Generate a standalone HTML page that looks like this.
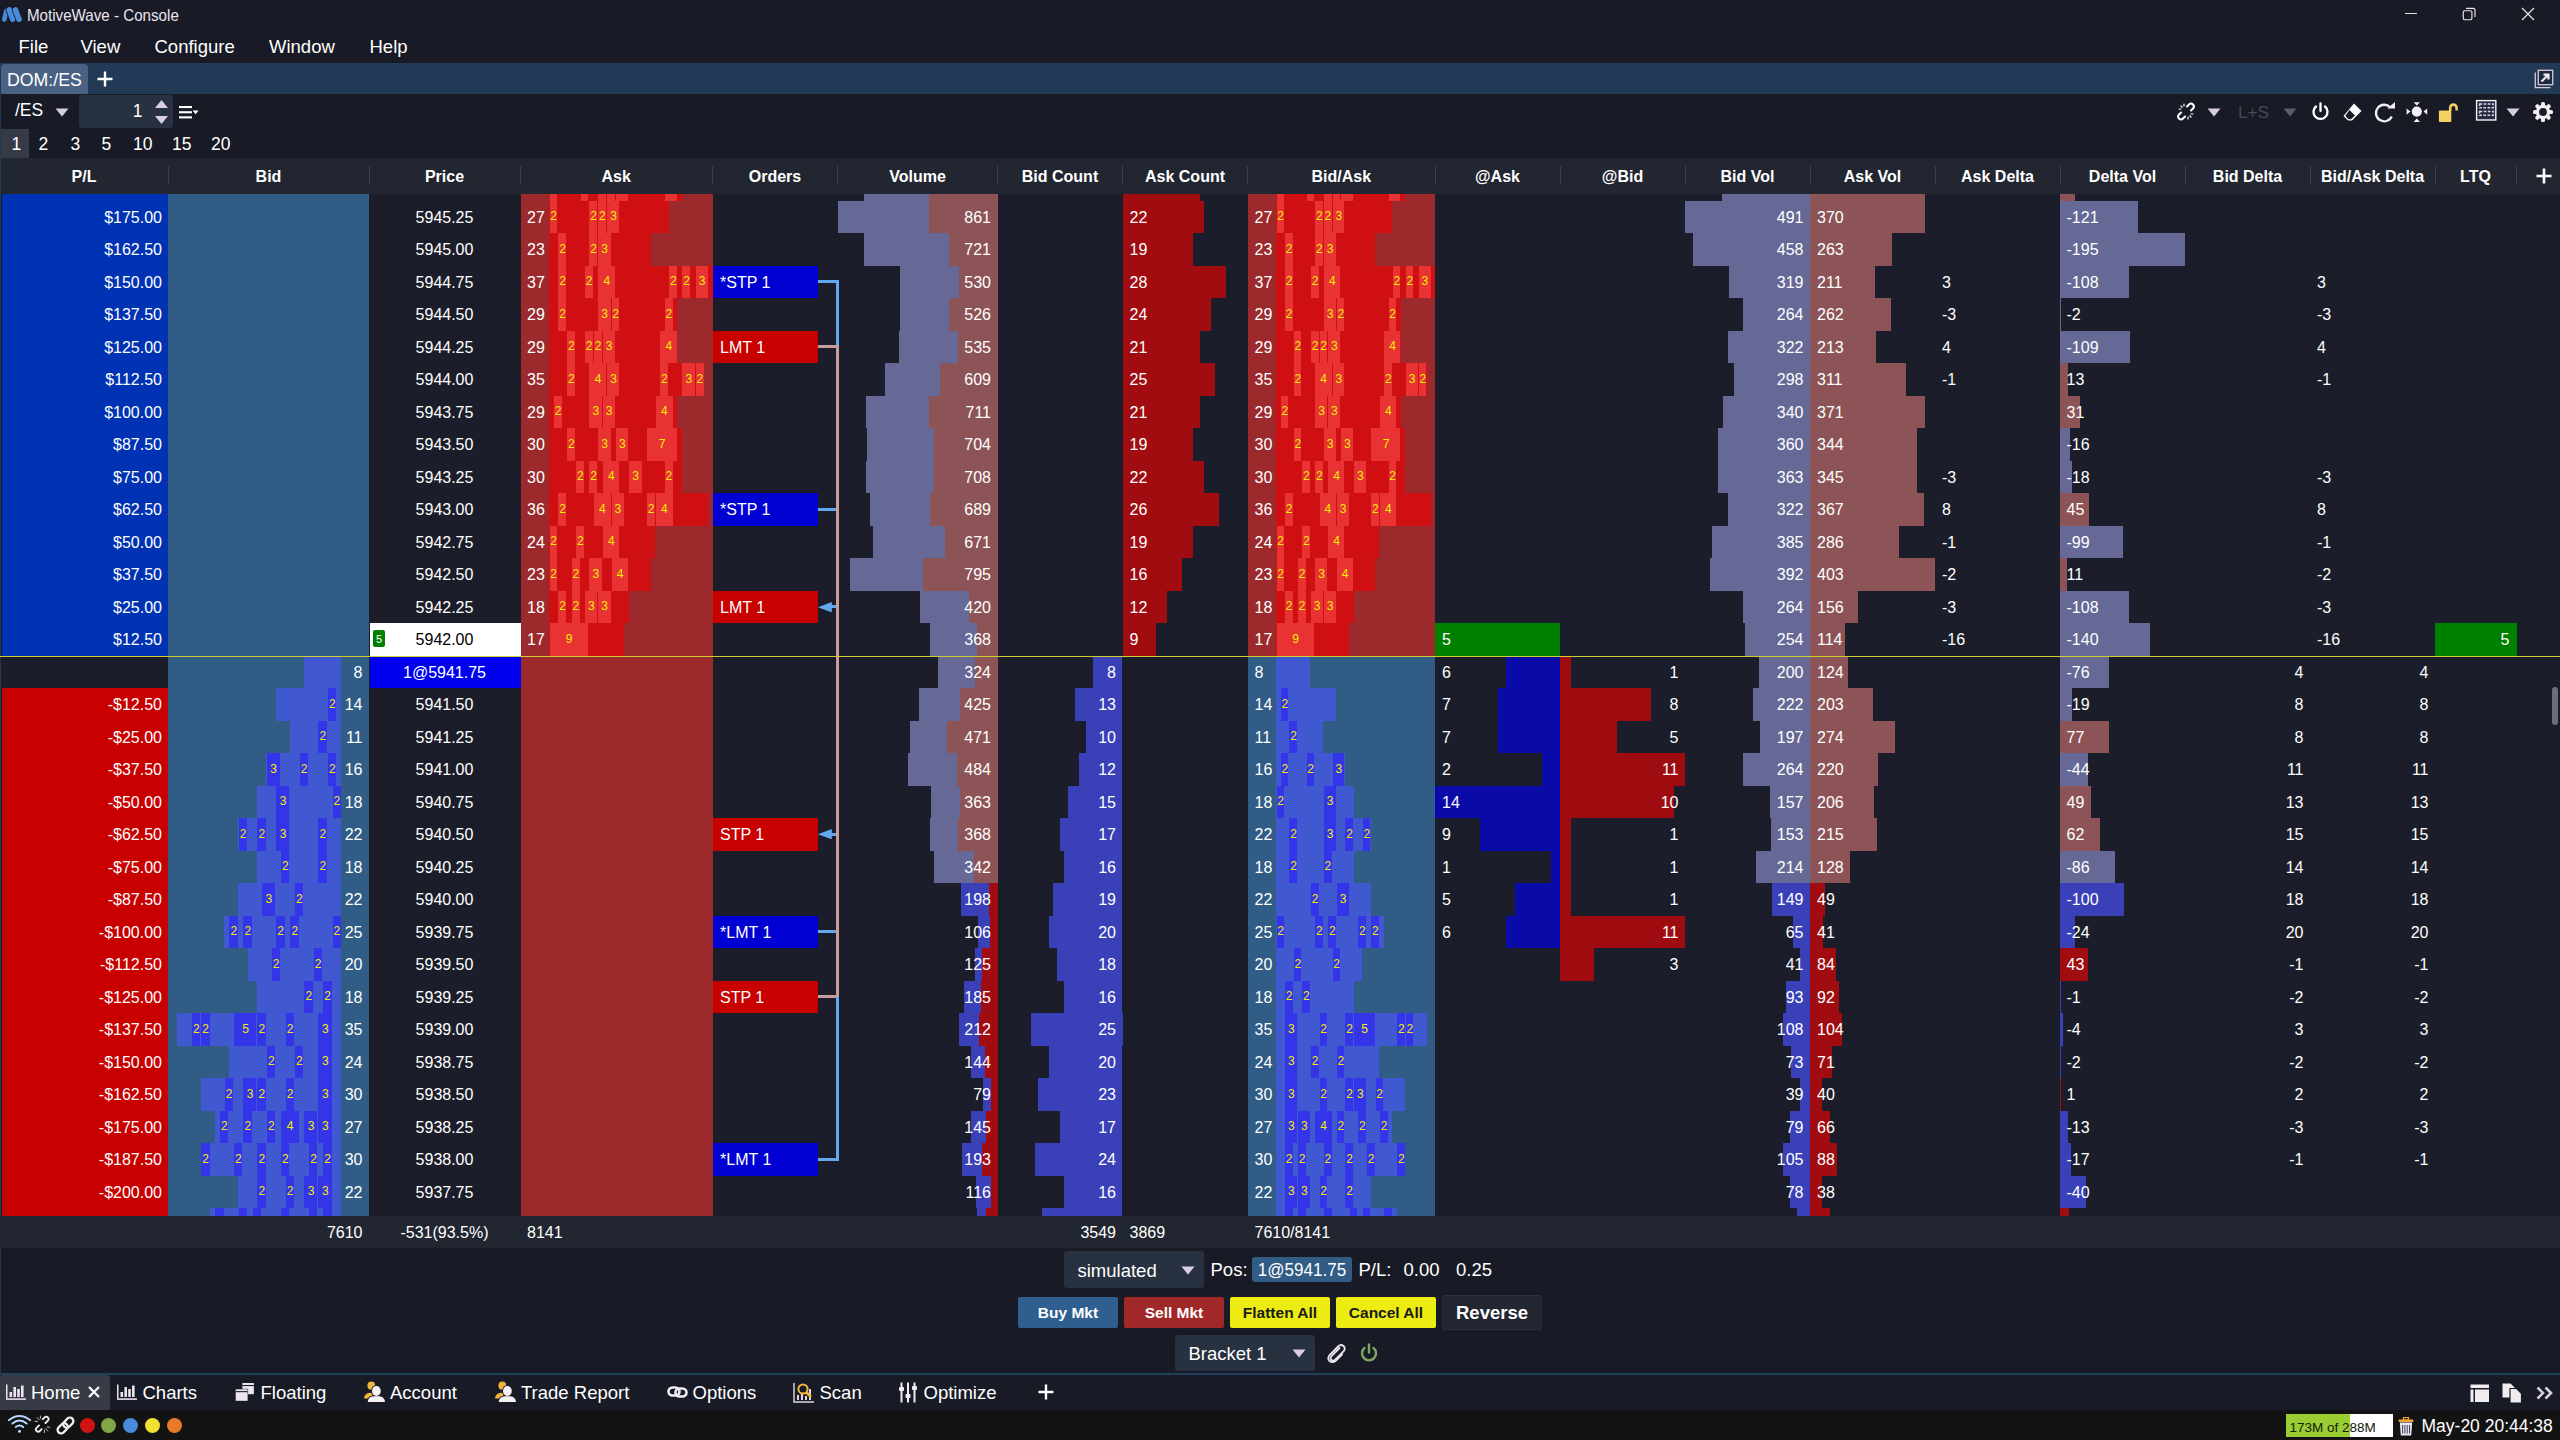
<!DOCTYPE html><html><head><meta charset="utf-8"><style>html,body{margin:0;padding:0;}body{width:2560px;height:1440px;position:relative;overflow:hidden;background:#181b26;font-family:"Liberation Sans",sans-serif;}body>div,body>svg{position:absolute;}.t{white-space:nowrap;overflow:visible;}</style></head><body><div style="left:0.00px;top:0.00px;width:2560.00px;height:63.00px;background:#181b26;"></div>
<svg style="left:0px;top:2px" width="26" height="24" viewBox="0 0 26 24" stroke-linecap="round"><line x1="4.3" y1="17.4" x2="6.2" y2="9.2" stroke="#4a8ad9" stroke-width="4.6"/><line x1="9.3" y1="8.0" x2="12.7" y2="17.2" stroke="#181b26" stroke-width="7.2"/><line x1="9.3" y1="8.0" x2="12.7" y2="17.2" stroke="#4a8ad9" stroke-width="5.6"/><line x1="15.4" y1="8.0" x2="19.0" y2="17.2" stroke="#181b26" stroke-width="7.2"/><line x1="15.4" y1="8.0" x2="19.0" y2="17.2" stroke="#4a8ad9" stroke-width="5.6"/></svg>
<div class="t" style="left:27.30px;top:2.50px;width:300.00px;height:24.00px;line-height:24.00px;font-size:16.5px;color:#eae4f0;text-align:left;transform:scaleX(0.918);transform-origin:left center;">MotiveWave - Console</div>
<div style="left:2405.00px;top:13.00px;width:12.00px;height:1.20px;background:#e0e0e0;"></div>
<svg style="left:2461px;top:6px" width="16" height="16" viewBox="0 0 16 16" fill="none" stroke="#ece4f0" stroke-width="1.15"><rect x="2.3" y="4.7" width="8.6" height="9" rx="1.4"/><path d="M5 2.3 H12 Q14 2.3 14 4.3 V11"/></svg>
<svg style="left:2521px;top:7px" width="14" height="14" viewBox="0 0 14 14" stroke="#e8e8e8" stroke-width="1.2"><path d="M1 1 L13 13 M13 1 L1 13"/></svg>
<div class="t" style="left:18.50px;top:32.00px;width:200.00px;height:30.00px;line-height:30.00px;font-size:18.5px;color:#ffffff;text-align:left;">File</div>
<div class="t" style="left:80.50px;top:32.00px;width:200.00px;height:30.00px;line-height:30.00px;font-size:18.5px;color:#ffffff;text-align:left;">View</div>
<div class="t" style="left:154.50px;top:32.00px;width:200.00px;height:30.00px;line-height:30.00px;font-size:18.5px;color:#ffffff;text-align:left;">Configure</div>
<div class="t" style="left:269.00px;top:32.00px;width:200.00px;height:30.00px;line-height:30.00px;font-size:18.5px;color:#ffffff;text-align:left;">Window</div>
<div class="t" style="left:369.50px;top:32.00px;width:200.00px;height:30.00px;line-height:30.00px;font-size:18.5px;color:#ffffff;text-align:left;">Help</div>
<div style="left:0.00px;top:63.00px;width:2560.00px;height:31.00px;background:#223a55;"></div>
<div style="left:1.00px;top:64.00px;width:87.00px;height:30.00px;background:#4a6283;border-radius:4px 4px 0 0;"></div>
<div class="t" style="left:6.50px;top:65.00px;width:120.00px;height:31.00px;line-height:31.00px;font-size:18px;color:#ffffff;text-align:left;transform:scaleX(0.985);transform-origin:left center;">DOM:/ES</div>
<svg style="left:96px;top:70px" width="18" height="18" viewBox="0 0 18 18" stroke="#ffffff" stroke-width="2.4"><path d="M9 1.5 V16.5 M1.5 9 H16.5"/></svg>
<svg style="left:2534px;top:69px" width="20" height="20" viewBox="0 0 20 20" fill="none"><path d="M1.3 3.5 V18.7 H16.5" stroke="#d8c8d6" stroke-width="1.3"/><rect x="4.3" y="1.3" width="14.4" height="14.4" fill="#1c2a40" stroke="#d8c8d6" stroke-width="1.3"/><path d="M7.5 12.5 L14 6 M9.5 5.6 H14.5 V10.6" stroke="#f0ecf0" stroke-width="2.2"/></svg>
<div style="left:2558.60px;top:63.00px;width:1.40px;height:1312.00px;background:#1e3a52;"></div>
<div style="left:0.00px;top:94.00px;width:2560.00px;height:64.00px;background:#181b26;"></div>
<div class="t" style="left:15.00px;top:93.30px;width:40.00px;height:34.00px;line-height:34.00px;font-size:17.5px;color:#ffffff;text-align:left;">/ES</div>
<svg style="left:55px;top:108.3px" width="14" height="9" viewBox="0 0 14 9"><path d="M0.5 0.5 H13.5 L7 8.5 Z" fill="#d9cde3"/></svg>
<div style="left:79.00px;top:94.50px;width:94.00px;height:33.00px;background:#283140;border-radius:3px;"></div>
<div class="t" style="left:100.00px;top:95.00px;width:42.50px;height:33.00px;line-height:33.00px;font-size:17.5px;color:#ffffff;text-align:right;">1</div>
<svg style="left:154px;top:99px" width="15" height="26" viewBox="0 0 15 26"><path d="M7.5 1 L14 9 H1 Z M1 17 H14 L7.5 25 Z" fill="#d9cde3"/></svg>
<svg style="left:178px;top:104px" width="22" height="16" viewBox="0 0 22 16"><rect x="1" y="2" width="13" height="2.1" fill="#fff"/><rect x="1" y="7.2" width="13" height="2.1" fill="#fff"/><rect x="1" y="12.3" width="13" height="2.1" fill="#fff"/><path d="M14.6 6.4 H20.6 L17.6 10.2Z" fill="#fff"/></svg>
<div style="left:0.00px;top:129.00px;width:29.00px;height:29.00px;background:#353a44;"></div>
<div class="t" style="left:11.50px;top:129.60px;width:40.00px;height:29.00px;line-height:29.00px;font-size:17.5px;color:#ffffff;text-align:left;">1</div>
<div class="t" style="left:38.50px;top:129.60px;width:40.00px;height:29.00px;line-height:29.00px;font-size:17.5px;color:#ffffff;text-align:left;">2</div>
<div class="t" style="left:70.50px;top:129.60px;width:40.00px;height:29.00px;line-height:29.00px;font-size:17.5px;color:#ffffff;text-align:left;">3</div>
<div class="t" style="left:101.50px;top:129.60px;width:40.00px;height:29.00px;line-height:29.00px;font-size:17.5px;color:#ffffff;text-align:left;">5</div>
<div class="t" style="left:133.00px;top:129.60px;width:40.00px;height:29.00px;line-height:29.00px;font-size:17.5px;color:#ffffff;text-align:left;">10</div>
<div class="t" style="left:172.00px;top:129.60px;width:40.00px;height:29.00px;line-height:29.00px;font-size:17.5px;color:#ffffff;text-align:left;">15</div>
<div class="t" style="left:211.00px;top:129.60px;width:40.00px;height:29.00px;line-height:29.00px;font-size:17.5px;color:#ffffff;text-align:left;">20</div>
<svg style="left:2176px;top:101px" width="20" height="21" viewBox="0 0 20 21" fill="none" stroke="#fff" stroke-width="2" stroke-linecap="round"><path d="M11 5.5 L13 3.5 Q15 1.5 17 3.5 Q19 5.5 17 7.5 L15 9.5"/><path d="M9 15.5 L7 17.5 Q5 19.5 3 17.5 Q1 15.5 3 13.5 L5 11.5"/><path d="M8 3 V5 M3 8 H5 M12 18 V16 M17 13 H15 M5 5 L6.2 6.2 M15 16 L13.8 14.8" stroke-width="1.2"/></svg>
<svg style="left:2207px;top:108px" width="14" height="9" viewBox="0 0 14 9"><path d="M0.5 0.5 H13.5 L7 8.5 Z" fill="#d9cde3"/></svg>
<div class="t" style="left:2238.00px;top:96.00px;width:40.00px;height:34.00px;line-height:34.00px;font-size:17px;color:#454a58;text-align:left;">L+S</div>
<svg style="left:2283px;top:108px" width="14" height="9" viewBox="0 0 14 9"><path d="M0.5 0.5 H13.5 L7 8.5 Z" fill="#5a5e6a"/></svg>
<svg style="left:2311px;top:102px" width="19" height="20" viewBox="0 0 19 20" fill="none" stroke="#fff" stroke-width="2.3" stroke-linecap="round"><path d="M9.5 1.5 V9"/><path d="M5 4.5 A7 7 0 1 0 14 4.5"/></svg>
<svg style="left:2342px;top:102px" width="21" height="20" viewBox="0 0 21 20"><path d="M12 1.5 L19.5 9 L10 18.5 L6 18.5 L1.5 14 Z" fill="#fff"/><path d="M7.5 8 L13 13.5 L9 17.3 L6.6 17.3 L3.3 14 Z" fill="#181b26"/></svg>
<svg style="left:2373px;top:100px" width="24" height="24" viewBox="0 0 24 24" fill="none"><path d="M17.2 7.2 A8.3 8.3 0 1 0 18.8 16.6" stroke="#f2eef2" stroke-width="2.3"/><path d="M14.2 8.6 H22 V2 Z" fill="#f2eef2"/></svg>
<svg style="left:2405px;top:101px" width="24" height="22" viewBox="0 0 24 22" fill="#f2eef2"><circle cx="11.8" cy="10.6" r="5.1"/><path d="M8.6 1.2 H15 L11.8 4.4Z M8.6 21 H15 L11.8 17.6Z M1.6 7.4 V13.8 L5.4 10.6Z M22.2 7.4 V13.8 L18.6 10.6Z"/></svg>
<svg style="left:2437px;top:102px" width="23" height="21" viewBox="0 0 23 21"><path d="M13.2 9 V5.8 A3.2 3.2 0 0 1 19.6 5.8 V8.6" fill="none" stroke="#f5cf5c" stroke-width="2.6"/><rect x="1.9" y="8.5" width="12.4" height="11.5" rx="1" fill="#f5d062"/></svg>
<svg style="left:2475px;top:99px" width="23" height="23" viewBox="0 0 23 23"><rect x="1.6" y="1.6" width="19.2" height="19.4" fill="#242b42" stroke="#f6f2f4" stroke-width="1.4"/><g fill="none" stroke="#e2d4e4" stroke-width="1.5" stroke-dasharray="2.6 1.5"><rect x="4.6" y="5" width="13.6" height="3.8"/><rect x="4.6" y="12.4" width="13.6" height="3.8"/></g></svg>
<svg style="left:2506px;top:108px" width="14" height="9" viewBox="0 0 14 9"><path d="M0.5 0.5 H13.5 L7 8.5 Z" fill="#d9cde3"/></svg>
<svg style="left:2532px;top:101px" width="22" height="22" viewBox="0 0 22 22"><g fill="#f2eef2"><circle cx="11" cy="11" r="7.2"/><rect x="9" y="1" width="4" height="5.5" rx="1.6" transform="rotate(0 11 11)"/><rect x="9" y="1" width="4" height="5.5" rx="1.6" transform="rotate(45 11 11)"/><rect x="9" y="1" width="4" height="5.5" rx="1.6" transform="rotate(90 11 11)"/><rect x="9" y="1" width="4" height="5.5" rx="1.6" transform="rotate(135 11 11)"/><rect x="9" y="1" width="4" height="5.5" rx="1.6" transform="rotate(180 11 11)"/><rect x="9" y="1" width="4" height="5.5" rx="1.6" transform="rotate(225 11 11)"/><rect x="9" y="1" width="4" height="5.5" rx="1.6" transform="rotate(270 11 11)"/><rect x="9" y="1" width="4" height="5.5" rx="1.6" transform="rotate(315 11 11)"/></g><circle cx="11" cy="11" r="3.9" fill="#181b26"/></svg>
<div style="left:0.00px;top:158.00px;width:2560.00px;height:36.00px;background:#222630;"></div>
<div class="t" style="left:0.00px;top:159.00px;width:168.00px;height:36.00px;line-height:36.00px;font-size:16px;color:#ffffff;text-align:center;font-weight:bold;">P/L</div>
<div class="t" style="left:168.00px;top:159.00px;width:201.00px;height:36.00px;line-height:36.00px;font-size:16px;color:#ffffff;text-align:center;font-weight:bold;">Bid</div>
<div style="left:167.50px;top:166.00px;width:1.20px;height:18.00px;background:#3a4050;"></div>
<div class="t" style="left:369.00px;top:159.00px;width:151.00px;height:36.00px;line-height:36.00px;font-size:16px;color:#ffffff;text-align:center;font-weight:bold;">Price</div>
<div style="left:368.50px;top:166.00px;width:1.20px;height:18.00px;background:#3a4050;"></div>
<div class="t" style="left:520.00px;top:159.00px;width:192.50px;height:36.00px;line-height:36.00px;font-size:16px;color:#ffffff;text-align:center;font-weight:bold;">Ask</div>
<div style="left:519.50px;top:166.00px;width:1.20px;height:18.00px;background:#3a4050;"></div>
<div class="t" style="left:712.50px;top:159.00px;width:125.00px;height:36.00px;line-height:36.00px;font-size:16px;color:#ffffff;text-align:center;font-weight:bold;">Orders</div>
<div style="left:712.00px;top:166.00px;width:1.20px;height:18.00px;background:#3a4050;"></div>
<div class="t" style="left:837.50px;top:159.00px;width:160.00px;height:36.00px;line-height:36.00px;font-size:16px;color:#ffffff;text-align:center;font-weight:bold;">Volume</div>
<div style="left:837.00px;top:166.00px;width:1.20px;height:18.00px;background:#3a4050;"></div>
<div class="t" style="left:997.50px;top:159.00px;width:125.00px;height:36.00px;line-height:36.00px;font-size:16px;color:#ffffff;text-align:center;font-weight:bold;">Bid Count</div>
<div style="left:997.00px;top:166.00px;width:1.20px;height:18.00px;background:#3a4050;"></div>
<div class="t" style="left:1122.50px;top:159.00px;width:125.00px;height:36.00px;line-height:36.00px;font-size:16px;color:#ffffff;text-align:center;font-weight:bold;">Ask Count</div>
<div style="left:1122.00px;top:166.00px;width:1.20px;height:18.00px;background:#3a4050;"></div>
<div class="t" style="left:1247.50px;top:159.00px;width:187.50px;height:36.00px;line-height:36.00px;font-size:16px;color:#ffffff;text-align:center;font-weight:bold;">Bid/Ask</div>
<div style="left:1247.00px;top:166.00px;width:1.20px;height:18.00px;background:#3a4050;"></div>
<div class="t" style="left:1435.00px;top:159.00px;width:125.00px;height:36.00px;line-height:36.00px;font-size:16px;color:#ffffff;text-align:center;font-weight:bold;">@Ask</div>
<div style="left:1434.50px;top:166.00px;width:1.20px;height:18.00px;background:#3a4050;"></div>
<div class="t" style="left:1560.00px;top:159.00px;width:125.00px;height:36.00px;line-height:36.00px;font-size:16px;color:#ffffff;text-align:center;font-weight:bold;">@Bid</div>
<div style="left:1559.50px;top:166.00px;width:1.20px;height:18.00px;background:#3a4050;"></div>
<div class="t" style="left:1685.00px;top:159.00px;width:125.00px;height:36.00px;line-height:36.00px;font-size:16px;color:#ffffff;text-align:center;font-weight:bold;">Bid Vol</div>
<div style="left:1684.50px;top:166.00px;width:1.20px;height:18.00px;background:#3a4050;"></div>
<div class="t" style="left:1810.00px;top:159.00px;width:125.00px;height:36.00px;line-height:36.00px;font-size:16px;color:#ffffff;text-align:center;font-weight:bold;">Ask Vol</div>
<div style="left:1809.50px;top:166.00px;width:1.20px;height:18.00px;background:#3a4050;"></div>
<div class="t" style="left:1935.00px;top:159.00px;width:125.00px;height:36.00px;line-height:36.00px;font-size:16px;color:#ffffff;text-align:center;font-weight:bold;">Ask Delta</div>
<div style="left:1934.50px;top:166.00px;width:1.20px;height:18.00px;background:#3a4050;"></div>
<div class="t" style="left:2060.00px;top:159.00px;width:125.00px;height:36.00px;line-height:36.00px;font-size:16px;color:#ffffff;text-align:center;font-weight:bold;">Delta Vol</div>
<div style="left:2059.50px;top:166.00px;width:1.20px;height:18.00px;background:#3a4050;"></div>
<div class="t" style="left:2185.00px;top:159.00px;width:125.00px;height:36.00px;line-height:36.00px;font-size:16px;color:#ffffff;text-align:center;font-weight:bold;">Bid Delta</div>
<div style="left:2184.50px;top:166.00px;width:1.20px;height:18.00px;background:#3a4050;"></div>
<div class="t" style="left:2310.00px;top:159.00px;width:125.00px;height:36.00px;line-height:36.00px;font-size:16px;color:#ffffff;text-align:center;font-weight:bold;">Bid/Ask Delta</div>
<div style="left:2309.50px;top:166.00px;width:1.20px;height:18.00px;background:#3a4050;"></div>
<div class="t" style="left:2435.00px;top:159.00px;width:81.00px;height:36.00px;line-height:36.00px;font-size:16px;color:#ffffff;text-align:center;font-weight:bold;">LTQ</div>
<div style="left:2434.50px;top:166.00px;width:1.20px;height:18.00px;background:#3a4050;"></div>
<svg style="left:2536px;top:168px" width="16" height="16" viewBox="0 0 16 16" stroke="#fff" stroke-width="2.6"><path d="M8 0.5 V15.5 M0.5 8 H15.5"/></svg>
<div style="left:2515.50px;top:166.00px;width:1.20px;height:18.00px;background:#3a4050;"></div>
<div style="left:0.00px;top:194.00px;width:2560.00px;height:1021.50px;background:#1b1e2a;"></div>
<div style="left:0.00px;top:63.00px;width:1.20px;height:1311.00px;background:#1f3a52;"></div>
<div style="left:1.50px;top:194.00px;width:166.50px;height:461.50px;background:#0033b3;"></div>
<div style="left:1.50px;top:688.00px;width:166.50px;height:527.50px;background:#c80000;"></div>
<div class="t" style="left:0.00px;top:201.50px;width:162.00px;height:32.50px;line-height:32.50px;font-size:16px;color:#ffffff;text-align:right;">$175.00</div>
<div class="t" style="left:0.00px;top:234.00px;width:162.00px;height:32.50px;line-height:32.50px;font-size:16px;color:#ffffff;text-align:right;">$162.50</div>
<div class="t" style="left:0.00px;top:266.50px;width:162.00px;height:32.50px;line-height:32.50px;font-size:16px;color:#ffffff;text-align:right;">$150.00</div>
<div class="t" style="left:0.00px;top:299.00px;width:162.00px;height:32.50px;line-height:32.50px;font-size:16px;color:#ffffff;text-align:right;">$137.50</div>
<div class="t" style="left:0.00px;top:331.50px;width:162.00px;height:32.50px;line-height:32.50px;font-size:16px;color:#ffffff;text-align:right;">$125.00</div>
<div class="t" style="left:0.00px;top:364.00px;width:162.00px;height:32.50px;line-height:32.50px;font-size:16px;color:#ffffff;text-align:right;">$112.50</div>
<div class="t" style="left:0.00px;top:396.50px;width:162.00px;height:32.50px;line-height:32.50px;font-size:16px;color:#ffffff;text-align:right;">$100.00</div>
<div class="t" style="left:0.00px;top:429.00px;width:162.00px;height:32.50px;line-height:32.50px;font-size:16px;color:#ffffff;text-align:right;">$87.50</div>
<div class="t" style="left:0.00px;top:461.50px;width:162.00px;height:32.50px;line-height:32.50px;font-size:16px;color:#ffffff;text-align:right;">$75.00</div>
<div class="t" style="left:0.00px;top:494.00px;width:162.00px;height:32.50px;line-height:32.50px;font-size:16px;color:#ffffff;text-align:right;">$62.50</div>
<div class="t" style="left:0.00px;top:526.50px;width:162.00px;height:32.50px;line-height:32.50px;font-size:16px;color:#ffffff;text-align:right;">$50.00</div>
<div class="t" style="left:0.00px;top:559.00px;width:162.00px;height:32.50px;line-height:32.50px;font-size:16px;color:#ffffff;text-align:right;">$37.50</div>
<div class="t" style="left:0.00px;top:591.50px;width:162.00px;height:32.50px;line-height:32.50px;font-size:16px;color:#ffffff;text-align:right;">$25.00</div>
<div class="t" style="left:0.00px;top:624.00px;width:162.00px;height:32.50px;line-height:32.50px;font-size:16px;color:#ffffff;text-align:right;">$12.50</div>
<div class="t" style="left:0.00px;top:689.00px;width:162.00px;height:32.50px;line-height:32.50px;font-size:16px;color:#ffffff;text-align:right;">-$12.50</div>
<div class="t" style="left:0.00px;top:721.50px;width:162.00px;height:32.50px;line-height:32.50px;font-size:16px;color:#ffffff;text-align:right;">-$25.00</div>
<div class="t" style="left:0.00px;top:754.00px;width:162.00px;height:32.50px;line-height:32.50px;font-size:16px;color:#ffffff;text-align:right;">-$37.50</div>
<div class="t" style="left:0.00px;top:786.50px;width:162.00px;height:32.50px;line-height:32.50px;font-size:16px;color:#ffffff;text-align:right;">-$50.00</div>
<div class="t" style="left:0.00px;top:819.00px;width:162.00px;height:32.50px;line-height:32.50px;font-size:16px;color:#ffffff;text-align:right;">-$62.50</div>
<div class="t" style="left:0.00px;top:851.50px;width:162.00px;height:32.50px;line-height:32.50px;font-size:16px;color:#ffffff;text-align:right;">-$75.00</div>
<div class="t" style="left:0.00px;top:884.00px;width:162.00px;height:32.50px;line-height:32.50px;font-size:16px;color:#ffffff;text-align:right;">-$87.50</div>
<div class="t" style="left:0.00px;top:916.50px;width:162.00px;height:32.50px;line-height:32.50px;font-size:16px;color:#ffffff;text-align:right;">-$100.00</div>
<div class="t" style="left:0.00px;top:949.00px;width:162.00px;height:32.50px;line-height:32.50px;font-size:16px;color:#ffffff;text-align:right;">-$112.50</div>
<div class="t" style="left:0.00px;top:981.50px;width:162.00px;height:32.50px;line-height:32.50px;font-size:16px;color:#ffffff;text-align:right;">-$125.00</div>
<div class="t" style="left:0.00px;top:1014.00px;width:162.00px;height:32.50px;line-height:32.50px;font-size:16px;color:#ffffff;text-align:right;">-$137.50</div>
<div class="t" style="left:0.00px;top:1046.50px;width:162.00px;height:32.50px;line-height:32.50px;font-size:16px;color:#ffffff;text-align:right;">-$150.00</div>
<div class="t" style="left:0.00px;top:1079.00px;width:162.00px;height:32.50px;line-height:32.50px;font-size:16px;color:#ffffff;text-align:right;">-$162.50</div>
<div class="t" style="left:0.00px;top:1111.50px;width:162.00px;height:32.50px;line-height:32.50px;font-size:16px;color:#ffffff;text-align:right;">-$175.00</div>
<div class="t" style="left:0.00px;top:1144.00px;width:162.00px;height:32.50px;line-height:32.50px;font-size:16px;color:#ffffff;text-align:right;">-$187.50</div>
<div class="t" style="left:0.00px;top:1176.50px;width:162.00px;height:32.50px;line-height:32.50px;font-size:16px;color:#ffffff;text-align:right;">-$200.00</div>
<div style="left:168.00px;top:194.00px;width:201.00px;height:1021.50px;background:#305c85;"></div>
<div style="left:521.00px;top:194.00px;width:191.50px;height:1021.50px;background:#9c2a2c;"></div>
<div style="left:1247.50px;top:194.00px;width:187.50px;height:461.50px;background:#9c2a2c;"></div>
<div style="left:1247.50px;top:655.50px;width:187.50px;height:560.00px;background:#305c85;"></div>
<div style="left:549.00px;top:194.00px;width:132.90px;height:6.50px;background:#d00f12;"></div>
<div style="left:549.50px;top:194.00px;width:7.86px;height:6.50px;background:#e83234;"></div>
<div style="left:580.51px;top:194.00px;width:7.86px;height:6.50px;background:#e83234;"></div>
<div style="left:598.23px;top:194.00px;width:7.86px;height:6.50px;background:#e83234;"></div>
<div style="left:607.09px;top:194.00px;width:7.86px;height:6.50px;background:#e83234;"></div>
<div style="left:615.95px;top:194.00px;width:12.29px;height:6.50px;background:#e83234;"></div>
<div style="left:664.68px;top:194.00px;width:12.29px;height:6.50px;background:#e83234;"></div>
<div style="left:1276.00px;top:194.00px;width:129.30px;height:6.50px;background:#d00f12;"></div>
<div style="left:1276.50px;top:194.00px;width:7.62px;height:6.50px;background:#e83234;"></div>
<div style="left:1306.67px;top:194.00px;width:7.62px;height:6.50px;background:#e83234;"></div>
<div style="left:1323.91px;top:194.00px;width:7.62px;height:6.50px;background:#e83234;"></div>
<div style="left:1332.53px;top:194.00px;width:7.62px;height:6.50px;background:#e83234;"></div>
<div style="left:1341.15px;top:194.00px;width:11.93px;height:6.50px;background:#e83234;"></div>
<div style="left:1388.56px;top:194.00px;width:11.93px;height:6.50px;background:#e83234;"></div>
<div style="left:549.00px;top:200.50px;width:119.61px;height:32.50px;background:#d00f12;"></div>
<div style="left:549.50px;top:200.50px;width:7.86px;height:32.50px;background:#e83234;"></div>
<div class="t" style="left:539.00px;top:200.30px;width:28.86px;height:32.50px;line-height:32.50px;font-size:12px;color:#f2f000;text-align:center;letter-spacing:-0.5px;">2</div>
<div style="left:589.37px;top:200.50px;width:7.86px;height:32.50px;background:#e83234;"></div>
<div class="t" style="left:578.87px;top:200.30px;width:28.86px;height:32.50px;line-height:32.50px;font-size:12px;color:#f2f000;text-align:center;letter-spacing:-0.5px;">2</div>
<div style="left:598.23px;top:200.50px;width:7.86px;height:32.50px;background:#e83234;"></div>
<div class="t" style="left:587.73px;top:200.30px;width:28.86px;height:32.50px;line-height:32.50px;font-size:12px;color:#f2f000;text-align:center;letter-spacing:-0.5px;">2</div>
<div style="left:607.09px;top:200.50px;width:12.29px;height:32.50px;background:#e83234;"></div>
<div class="t" style="left:596.59px;top:200.30px;width:33.29px;height:32.50px;line-height:32.50px;font-size:12px;color:#f2f000;text-align:center;letter-spacing:-0.5px;">3</div>
<div style="left:1276.00px;top:200.50px;width:116.37px;height:32.50px;background:#d00f12;"></div>
<div style="left:1276.50px;top:200.50px;width:7.62px;height:32.50px;background:#e83234;"></div>
<div class="t" style="left:1266.00px;top:200.30px;width:28.62px;height:32.50px;line-height:32.50px;font-size:12px;color:#f2f000;text-align:center;letter-spacing:-0.5px;">2</div>
<div style="left:1315.29px;top:200.50px;width:7.62px;height:32.50px;background:#e83234;"></div>
<div class="t" style="left:1304.79px;top:200.30px;width:28.62px;height:32.50px;line-height:32.50px;font-size:12px;color:#f2f000;text-align:center;letter-spacing:-0.5px;">2</div>
<div style="left:1323.91px;top:200.50px;width:7.62px;height:32.50px;background:#e83234;"></div>
<div class="t" style="left:1313.41px;top:200.30px;width:28.62px;height:32.50px;line-height:32.50px;font-size:12px;color:#f2f000;text-align:center;letter-spacing:-0.5px;">2</div>
<div style="left:1332.53px;top:200.50px;width:11.93px;height:32.50px;background:#e83234;"></div>
<div class="t" style="left:1322.03px;top:200.30px;width:32.93px;height:32.50px;line-height:32.50px;font-size:12px;color:#f2f000;text-align:center;letter-spacing:-0.5px;">3</div>
<div class="t" style="left:527.00px;top:201.50px;width:40.00px;height:32.50px;line-height:32.50px;font-size:16px;color:#fff;text-align:left;">27</div>
<div class="t" style="left:1254.50px;top:201.50px;width:40.00px;height:32.50px;line-height:32.50px;font-size:16px;color:#fff;text-align:left;">27</div>
<div style="left:549.00px;top:233.00px;width:101.89px;height:32.50px;background:#d00f12;"></div>
<div style="left:558.36px;top:233.00px;width:7.86px;height:32.50px;background:#e83234;"></div>
<div class="t" style="left:547.86px;top:232.80px;width:28.86px;height:32.50px;line-height:32.50px;font-size:12px;color:#f2f000;text-align:center;letter-spacing:-0.5px;">2</div>
<div style="left:589.37px;top:233.00px;width:7.86px;height:32.50px;background:#e83234;"></div>
<div class="t" style="left:578.87px;top:232.80px;width:28.86px;height:32.50px;line-height:32.50px;font-size:12px;color:#f2f000;text-align:center;letter-spacing:-0.5px;">2</div>
<div style="left:598.23px;top:233.00px;width:12.29px;height:32.50px;background:#e83234;"></div>
<div class="t" style="left:587.73px;top:232.80px;width:33.29px;height:32.50px;line-height:32.50px;font-size:12px;color:#f2f000;text-align:center;letter-spacing:-0.5px;">3</div>
<div style="left:1276.00px;top:233.00px;width:99.13px;height:32.50px;background:#d00f12;"></div>
<div style="left:1285.12px;top:233.00px;width:7.62px;height:32.50px;background:#e83234;"></div>
<div class="t" style="left:1274.62px;top:232.80px;width:28.62px;height:32.50px;line-height:32.50px;font-size:12px;color:#f2f000;text-align:center;letter-spacing:-0.5px;">2</div>
<div style="left:1315.29px;top:233.00px;width:7.62px;height:32.50px;background:#e83234;"></div>
<div class="t" style="left:1304.79px;top:232.80px;width:28.62px;height:32.50px;line-height:32.50px;font-size:12px;color:#f2f000;text-align:center;letter-spacing:-0.5px;">2</div>
<div style="left:1323.91px;top:233.00px;width:11.93px;height:32.50px;background:#e83234;"></div>
<div class="t" style="left:1313.41px;top:232.80px;width:32.93px;height:32.50px;line-height:32.50px;font-size:12px;color:#f2f000;text-align:center;letter-spacing:-0.5px;">3</div>
<div class="t" style="left:527.00px;top:234.00px;width:40.00px;height:32.50px;line-height:32.50px;font-size:16px;color:#fff;text-align:left;">23</div>
<div class="t" style="left:1254.50px;top:234.00px;width:40.00px;height:32.50px;line-height:32.50px;font-size:16px;color:#fff;text-align:left;">23</div>
<div style="left:549.00px;top:265.50px;width:163.50px;height:32.50px;background:#d00f12;"></div>
<div style="left:558.36px;top:265.50px;width:7.86px;height:32.50px;background:#e83234;"></div>
<div class="t" style="left:547.86px;top:265.30px;width:28.86px;height:32.50px;line-height:32.50px;font-size:12px;color:#f2f000;text-align:center;letter-spacing:-0.5px;">2</div>
<div style="left:584.94px;top:265.50px;width:7.86px;height:32.50px;background:#e83234;"></div>
<div class="t" style="left:574.44px;top:265.30px;width:28.86px;height:32.50px;line-height:32.50px;font-size:12px;color:#f2f000;text-align:center;letter-spacing:-0.5px;">2</div>
<div style="left:598.23px;top:265.50px;width:16.72px;height:32.50px;background:#e83234;"></div>
<div class="t" style="left:587.73px;top:265.30px;width:37.72px;height:32.50px;line-height:32.50px;font-size:12px;color:#f2f000;text-align:center;letter-spacing:-0.5px;">4</div>
<div style="left:669.11px;top:265.50px;width:7.86px;height:32.50px;background:#e83234;"></div>
<div class="t" style="left:658.61px;top:265.30px;width:28.86px;height:32.50px;line-height:32.50px;font-size:12px;color:#f2f000;text-align:center;letter-spacing:-0.5px;">2</div>
<div style="left:682.40px;top:265.50px;width:7.86px;height:32.50px;background:#e83234;"></div>
<div class="t" style="left:671.90px;top:265.30px;width:28.86px;height:32.50px;line-height:32.50px;font-size:12px;color:#f2f000;text-align:center;letter-spacing:-0.5px;">2</div>
<div style="left:695.69px;top:265.50px;width:12.29px;height:32.50px;background:#e83234;"></div>
<div class="t" style="left:685.19px;top:265.30px;width:33.29px;height:32.50px;line-height:32.50px;font-size:12px;color:#f2f000;text-align:center;letter-spacing:-0.5px;">3</div>
<div style="left:1276.00px;top:265.50px;width:159.00px;height:32.50px;background:#d00f12;"></div>
<div style="left:1285.12px;top:265.50px;width:7.62px;height:32.50px;background:#e83234;"></div>
<div class="t" style="left:1274.62px;top:265.30px;width:28.62px;height:32.50px;line-height:32.50px;font-size:12px;color:#f2f000;text-align:center;letter-spacing:-0.5px;">2</div>
<div style="left:1310.98px;top:265.50px;width:7.62px;height:32.50px;background:#e83234;"></div>
<div class="t" style="left:1300.48px;top:265.30px;width:28.62px;height:32.50px;line-height:32.50px;font-size:12px;color:#f2f000;text-align:center;letter-spacing:-0.5px;">2</div>
<div style="left:1323.91px;top:265.50px;width:16.24px;height:32.50px;background:#e83234;"></div>
<div class="t" style="left:1313.41px;top:265.30px;width:37.24px;height:32.50px;line-height:32.50px;font-size:12px;color:#f2f000;text-align:center;letter-spacing:-0.5px;">4</div>
<div style="left:1392.87px;top:265.50px;width:7.62px;height:32.50px;background:#e83234;"></div>
<div class="t" style="left:1382.37px;top:265.30px;width:28.62px;height:32.50px;line-height:32.50px;font-size:12px;color:#f2f000;text-align:center;letter-spacing:-0.5px;">2</div>
<div style="left:1405.80px;top:265.50px;width:7.62px;height:32.50px;background:#e83234;"></div>
<div class="t" style="left:1395.30px;top:265.30px;width:28.62px;height:32.50px;line-height:32.50px;font-size:12px;color:#f2f000;text-align:center;letter-spacing:-0.5px;">2</div>
<div style="left:1418.73px;top:265.50px;width:11.93px;height:32.50px;background:#e83234;"></div>
<div class="t" style="left:1408.23px;top:265.30px;width:32.93px;height:32.50px;line-height:32.50px;font-size:12px;color:#f2f000;text-align:center;letter-spacing:-0.5px;">3</div>
<div class="t" style="left:527.00px;top:266.50px;width:40.00px;height:32.50px;line-height:32.50px;font-size:16px;color:#fff;text-align:left;">37</div>
<div class="t" style="left:1254.50px;top:266.50px;width:40.00px;height:32.50px;line-height:32.50px;font-size:16px;color:#fff;text-align:left;">37</div>
<div style="left:549.00px;top:298.00px;width:128.47px;height:32.50px;background:#d00f12;"></div>
<div style="left:558.36px;top:298.00px;width:7.86px;height:32.50px;background:#e83234;"></div>
<div class="t" style="left:547.86px;top:297.80px;width:28.86px;height:32.50px;line-height:32.50px;font-size:12px;color:#f2f000;text-align:center;letter-spacing:-0.5px;">2</div>
<div style="left:598.23px;top:298.00px;width:12.29px;height:32.50px;background:#e83234;"></div>
<div class="t" style="left:587.73px;top:297.80px;width:33.29px;height:32.50px;line-height:32.50px;font-size:12px;color:#f2f000;text-align:center;letter-spacing:-0.5px;">3</div>
<div style="left:611.52px;top:298.00px;width:7.86px;height:32.50px;background:#e83234;"></div>
<div class="t" style="left:601.02px;top:297.80px;width:28.86px;height:32.50px;line-height:32.50px;font-size:12px;color:#f2f000;text-align:center;letter-spacing:-0.5px;">2</div>
<div style="left:664.68px;top:298.00px;width:7.86px;height:32.50px;background:#e83234;"></div>
<div class="t" style="left:654.18px;top:297.80px;width:28.86px;height:32.50px;line-height:32.50px;font-size:12px;color:#f2f000;text-align:center;letter-spacing:-0.5px;">2</div>
<div style="left:1276.00px;top:298.00px;width:124.99px;height:32.50px;background:#d00f12;"></div>
<div style="left:1285.12px;top:298.00px;width:7.62px;height:32.50px;background:#e83234;"></div>
<div class="t" style="left:1274.62px;top:297.80px;width:28.62px;height:32.50px;line-height:32.50px;font-size:12px;color:#f2f000;text-align:center;letter-spacing:-0.5px;">2</div>
<div style="left:1323.91px;top:298.00px;width:11.93px;height:32.50px;background:#e83234;"></div>
<div class="t" style="left:1313.41px;top:297.80px;width:32.93px;height:32.50px;line-height:32.50px;font-size:12px;color:#f2f000;text-align:center;letter-spacing:-0.5px;">3</div>
<div style="left:1336.84px;top:298.00px;width:7.62px;height:32.50px;background:#e83234;"></div>
<div class="t" style="left:1326.34px;top:297.80px;width:28.62px;height:32.50px;line-height:32.50px;font-size:12px;color:#f2f000;text-align:center;letter-spacing:-0.5px;">2</div>
<div style="left:1388.56px;top:298.00px;width:7.62px;height:32.50px;background:#e83234;"></div>
<div class="t" style="left:1378.06px;top:297.80px;width:28.62px;height:32.50px;line-height:32.50px;font-size:12px;color:#f2f000;text-align:center;letter-spacing:-0.5px;">2</div>
<div class="t" style="left:527.00px;top:299.00px;width:40.00px;height:32.50px;line-height:32.50px;font-size:16px;color:#fff;text-align:left;">29</div>
<div class="t" style="left:1254.50px;top:299.00px;width:40.00px;height:32.50px;line-height:32.50px;font-size:16px;color:#fff;text-align:left;">29</div>
<div style="left:549.00px;top:330.50px;width:128.47px;height:32.50px;background:#d00f12;"></div>
<div style="left:567.22px;top:330.50px;width:7.86px;height:32.50px;background:#e83234;"></div>
<div class="t" style="left:556.72px;top:330.30px;width:28.86px;height:32.50px;line-height:32.50px;font-size:12px;color:#f2f000;text-align:center;letter-spacing:-0.5px;">2</div>
<div style="left:584.94px;top:330.50px;width:7.86px;height:32.50px;background:#e83234;"></div>
<div class="t" style="left:574.44px;top:330.30px;width:28.86px;height:32.50px;line-height:32.50px;font-size:12px;color:#f2f000;text-align:center;letter-spacing:-0.5px;">2</div>
<div style="left:593.80px;top:330.50px;width:7.86px;height:32.50px;background:#e83234;"></div>
<div class="t" style="left:583.30px;top:330.30px;width:28.86px;height:32.50px;line-height:32.50px;font-size:12px;color:#f2f000;text-align:center;letter-spacing:-0.5px;">2</div>
<div style="left:602.66px;top:330.50px;width:12.29px;height:32.50px;background:#e83234;"></div>
<div class="t" style="left:592.16px;top:330.30px;width:33.29px;height:32.50px;line-height:32.50px;font-size:12px;color:#f2f000;text-align:center;letter-spacing:-0.5px;">3</div>
<div style="left:660.25px;top:330.50px;width:16.72px;height:32.50px;background:#e83234;"></div>
<div class="t" style="left:649.75px;top:330.30px;width:37.72px;height:32.50px;line-height:32.50px;font-size:12px;color:#f2f000;text-align:center;letter-spacing:-0.5px;">4</div>
<div style="left:1276.00px;top:330.50px;width:124.99px;height:32.50px;background:#d00f12;"></div>
<div style="left:1293.74px;top:330.50px;width:7.62px;height:32.50px;background:#e83234;"></div>
<div class="t" style="left:1283.24px;top:330.30px;width:28.62px;height:32.50px;line-height:32.50px;font-size:12px;color:#f2f000;text-align:center;letter-spacing:-0.5px;">2</div>
<div style="left:1310.98px;top:330.50px;width:7.62px;height:32.50px;background:#e83234;"></div>
<div class="t" style="left:1300.48px;top:330.30px;width:28.62px;height:32.50px;line-height:32.50px;font-size:12px;color:#f2f000;text-align:center;letter-spacing:-0.5px;">2</div>
<div style="left:1319.60px;top:330.50px;width:7.62px;height:32.50px;background:#e83234;"></div>
<div class="t" style="left:1309.10px;top:330.30px;width:28.62px;height:32.50px;line-height:32.50px;font-size:12px;color:#f2f000;text-align:center;letter-spacing:-0.5px;">2</div>
<div style="left:1328.22px;top:330.50px;width:11.93px;height:32.50px;background:#e83234;"></div>
<div class="t" style="left:1317.72px;top:330.30px;width:32.93px;height:32.50px;line-height:32.50px;font-size:12px;color:#f2f000;text-align:center;letter-spacing:-0.5px;">3</div>
<div style="left:1384.25px;top:330.50px;width:16.24px;height:32.50px;background:#e83234;"></div>
<div class="t" style="left:1373.75px;top:330.30px;width:37.24px;height:32.50px;line-height:32.50px;font-size:12px;color:#f2f000;text-align:center;letter-spacing:-0.5px;">4</div>
<div class="t" style="left:527.00px;top:331.50px;width:40.00px;height:32.50px;line-height:32.50px;font-size:16px;color:#fff;text-align:left;">29</div>
<div class="t" style="left:1254.50px;top:331.50px;width:40.00px;height:32.50px;line-height:32.50px;font-size:16px;color:#fff;text-align:left;">29</div>
<div style="left:549.00px;top:363.00px;width:155.05px;height:32.50px;background:#d00f12;"></div>
<div style="left:567.22px;top:363.00px;width:7.86px;height:32.50px;background:#e83234;"></div>
<div class="t" style="left:556.72px;top:362.80px;width:28.86px;height:32.50px;line-height:32.50px;font-size:12px;color:#f2f000;text-align:center;letter-spacing:-0.5px;">2</div>
<div style="left:589.37px;top:363.00px;width:16.72px;height:32.50px;background:#e83234;"></div>
<div class="t" style="left:578.87px;top:362.80px;width:37.72px;height:32.50px;line-height:32.50px;font-size:12px;color:#f2f000;text-align:center;letter-spacing:-0.5px;">4</div>
<div style="left:607.09px;top:363.00px;width:12.29px;height:32.50px;background:#e83234;"></div>
<div class="t" style="left:596.59px;top:362.80px;width:33.29px;height:32.50px;line-height:32.50px;font-size:12px;color:#f2f000;text-align:center;letter-spacing:-0.5px;">3</div>
<div style="left:660.25px;top:363.00px;width:7.86px;height:32.50px;background:#e83234;"></div>
<div class="t" style="left:649.75px;top:362.80px;width:28.86px;height:32.50px;line-height:32.50px;font-size:12px;color:#f2f000;text-align:center;letter-spacing:-0.5px;">2</div>
<div style="left:682.40px;top:363.00px;width:12.29px;height:32.50px;background:#e83234;"></div>
<div class="t" style="left:671.90px;top:362.80px;width:33.29px;height:32.50px;line-height:32.50px;font-size:12px;color:#f2f000;text-align:center;letter-spacing:-0.5px;">3</div>
<div style="left:695.69px;top:363.00px;width:7.86px;height:32.50px;background:#e83234;"></div>
<div class="t" style="left:685.19px;top:362.80px;width:28.86px;height:32.50px;line-height:32.50px;font-size:12px;color:#f2f000;text-align:center;letter-spacing:-0.5px;">2</div>
<div style="left:1276.00px;top:363.00px;width:150.85px;height:32.50px;background:#d00f12;"></div>
<div style="left:1293.74px;top:363.00px;width:7.62px;height:32.50px;background:#e83234;"></div>
<div class="t" style="left:1283.24px;top:362.80px;width:28.62px;height:32.50px;line-height:32.50px;font-size:12px;color:#f2f000;text-align:center;letter-spacing:-0.5px;">2</div>
<div style="left:1315.29px;top:363.00px;width:16.24px;height:32.50px;background:#e83234;"></div>
<div class="t" style="left:1304.79px;top:362.80px;width:37.24px;height:32.50px;line-height:32.50px;font-size:12px;color:#f2f000;text-align:center;letter-spacing:-0.5px;">4</div>
<div style="left:1332.53px;top:363.00px;width:11.93px;height:32.50px;background:#e83234;"></div>
<div class="t" style="left:1322.03px;top:362.80px;width:32.93px;height:32.50px;line-height:32.50px;font-size:12px;color:#f2f000;text-align:center;letter-spacing:-0.5px;">3</div>
<div style="left:1384.25px;top:363.00px;width:7.62px;height:32.50px;background:#e83234;"></div>
<div class="t" style="left:1373.75px;top:362.80px;width:28.62px;height:32.50px;line-height:32.50px;font-size:12px;color:#f2f000;text-align:center;letter-spacing:-0.5px;">2</div>
<div style="left:1405.80px;top:363.00px;width:11.93px;height:32.50px;background:#e83234;"></div>
<div class="t" style="left:1395.30px;top:362.80px;width:32.93px;height:32.50px;line-height:32.50px;font-size:12px;color:#f2f000;text-align:center;letter-spacing:-0.5px;">3</div>
<div style="left:1418.73px;top:363.00px;width:7.62px;height:32.50px;background:#e83234;"></div>
<div class="t" style="left:1408.23px;top:362.80px;width:28.62px;height:32.50px;line-height:32.50px;font-size:12px;color:#f2f000;text-align:center;letter-spacing:-0.5px;">2</div>
<div class="t" style="left:527.00px;top:364.00px;width:40.00px;height:32.50px;line-height:32.50px;font-size:16px;color:#fff;text-align:left;">35</div>
<div class="t" style="left:1254.50px;top:364.00px;width:40.00px;height:32.50px;line-height:32.50px;font-size:16px;color:#fff;text-align:left;">35</div>
<div style="left:549.00px;top:395.50px;width:128.47px;height:32.50px;background:#d00f12;"></div>
<div style="left:553.93px;top:395.50px;width:7.86px;height:32.50px;background:#e83234;"></div>
<div class="t" style="left:543.43px;top:395.30px;width:28.86px;height:32.50px;line-height:32.50px;font-size:12px;color:#f2f000;text-align:center;letter-spacing:-0.5px;">2</div>
<div style="left:589.37px;top:395.50px;width:12.29px;height:32.50px;background:#e83234;"></div>
<div class="t" style="left:578.87px;top:395.30px;width:33.29px;height:32.50px;line-height:32.50px;font-size:12px;color:#f2f000;text-align:center;letter-spacing:-0.5px;">3</div>
<div style="left:602.66px;top:395.50px;width:12.29px;height:32.50px;background:#e83234;"></div>
<div class="t" style="left:592.16px;top:395.30px;width:33.29px;height:32.50px;line-height:32.50px;font-size:12px;color:#f2f000;text-align:center;letter-spacing:-0.5px;">3</div>
<div style="left:655.82px;top:395.50px;width:16.72px;height:32.50px;background:#e83234;"></div>
<div class="t" style="left:645.32px;top:395.30px;width:37.72px;height:32.50px;line-height:32.50px;font-size:12px;color:#f2f000;text-align:center;letter-spacing:-0.5px;">4</div>
<div style="left:1276.00px;top:395.50px;width:124.99px;height:32.50px;background:#d00f12;"></div>
<div style="left:1280.81px;top:395.50px;width:7.62px;height:32.50px;background:#e83234;"></div>
<div class="t" style="left:1270.31px;top:395.30px;width:28.62px;height:32.50px;line-height:32.50px;font-size:12px;color:#f2f000;text-align:center;letter-spacing:-0.5px;">2</div>
<div style="left:1315.29px;top:395.50px;width:11.93px;height:32.50px;background:#e83234;"></div>
<div class="t" style="left:1304.79px;top:395.30px;width:32.93px;height:32.50px;line-height:32.50px;font-size:12px;color:#f2f000;text-align:center;letter-spacing:-0.5px;">3</div>
<div style="left:1328.22px;top:395.50px;width:11.93px;height:32.50px;background:#e83234;"></div>
<div class="t" style="left:1317.72px;top:395.30px;width:32.93px;height:32.50px;line-height:32.50px;font-size:12px;color:#f2f000;text-align:center;letter-spacing:-0.5px;">3</div>
<div style="left:1379.94px;top:395.50px;width:16.24px;height:32.50px;background:#e83234;"></div>
<div class="t" style="left:1369.44px;top:395.30px;width:37.24px;height:32.50px;line-height:32.50px;font-size:12px;color:#f2f000;text-align:center;letter-spacing:-0.5px;">4</div>
<div class="t" style="left:527.00px;top:396.50px;width:40.00px;height:32.50px;line-height:32.50px;font-size:16px;color:#fff;text-align:left;">29</div>
<div class="t" style="left:1254.50px;top:396.50px;width:40.00px;height:32.50px;line-height:32.50px;font-size:16px;color:#fff;text-align:left;">29</div>
<div style="left:549.00px;top:428.00px;width:132.90px;height:32.50px;background:#d00f12;"></div>
<div style="left:567.22px;top:428.00px;width:7.86px;height:32.50px;background:#e83234;"></div>
<div class="t" style="left:556.72px;top:427.80px;width:28.86px;height:32.50px;line-height:32.50px;font-size:12px;color:#f2f000;text-align:center;letter-spacing:-0.5px;">2</div>
<div style="left:598.23px;top:428.00px;width:12.29px;height:32.50px;background:#e83234;"></div>
<div class="t" style="left:587.73px;top:427.80px;width:33.29px;height:32.50px;line-height:32.50px;font-size:12px;color:#f2f000;text-align:center;letter-spacing:-0.5px;">3</div>
<div style="left:615.95px;top:428.00px;width:12.29px;height:32.50px;background:#e83234;"></div>
<div class="t" style="left:605.45px;top:427.80px;width:33.29px;height:32.50px;line-height:32.50px;font-size:12px;color:#f2f000;text-align:center;letter-spacing:-0.5px;">3</div>
<div style="left:646.96px;top:428.00px;width:30.01px;height:32.50px;background:#e83234;"></div>
<div class="t" style="left:636.46px;top:427.80px;width:51.01px;height:32.50px;line-height:32.50px;font-size:12px;color:#f2f000;text-align:center;letter-spacing:-0.5px;">7</div>
<div style="left:1276.00px;top:428.00px;width:129.30px;height:32.50px;background:#d00f12;"></div>
<div style="left:1293.74px;top:428.00px;width:7.62px;height:32.50px;background:#e83234;"></div>
<div class="t" style="left:1283.24px;top:427.80px;width:28.62px;height:32.50px;line-height:32.50px;font-size:12px;color:#f2f000;text-align:center;letter-spacing:-0.5px;">2</div>
<div style="left:1323.91px;top:428.00px;width:11.93px;height:32.50px;background:#e83234;"></div>
<div class="t" style="left:1313.41px;top:427.80px;width:32.93px;height:32.50px;line-height:32.50px;font-size:12px;color:#f2f000;text-align:center;letter-spacing:-0.5px;">3</div>
<div style="left:1341.15px;top:428.00px;width:11.93px;height:32.50px;background:#e83234;"></div>
<div class="t" style="left:1330.65px;top:427.80px;width:32.93px;height:32.50px;line-height:32.50px;font-size:12px;color:#f2f000;text-align:center;letter-spacing:-0.5px;">3</div>
<div style="left:1371.32px;top:428.00px;width:29.17px;height:32.50px;background:#e83234;"></div>
<div class="t" style="left:1360.82px;top:427.80px;width:50.17px;height:32.50px;line-height:32.50px;font-size:12px;color:#f2f000;text-align:center;letter-spacing:-0.5px;">7</div>
<div class="t" style="left:527.00px;top:429.00px;width:40.00px;height:32.50px;line-height:32.50px;font-size:16px;color:#fff;text-align:left;">30</div>
<div class="t" style="left:1254.50px;top:429.00px;width:40.00px;height:32.50px;line-height:32.50px;font-size:16px;color:#fff;text-align:left;">30</div>
<div style="left:549.00px;top:460.50px;width:132.90px;height:32.50px;background:#d00f12;"></div>
<div style="left:576.08px;top:460.50px;width:7.86px;height:32.50px;background:#e83234;"></div>
<div class="t" style="left:565.58px;top:460.30px;width:28.86px;height:32.50px;line-height:32.50px;font-size:12px;color:#f2f000;text-align:center;letter-spacing:-0.5px;">2</div>
<div style="left:589.37px;top:460.50px;width:7.86px;height:32.50px;background:#e83234;"></div>
<div class="t" style="left:578.87px;top:460.30px;width:28.86px;height:32.50px;line-height:32.50px;font-size:12px;color:#f2f000;text-align:center;letter-spacing:-0.5px;">2</div>
<div style="left:602.66px;top:460.50px;width:16.72px;height:32.50px;background:#e83234;"></div>
<div class="t" style="left:592.16px;top:460.30px;width:37.72px;height:32.50px;line-height:32.50px;font-size:12px;color:#f2f000;text-align:center;letter-spacing:-0.5px;">4</div>
<div style="left:629.24px;top:460.50px;width:12.29px;height:32.50px;background:#e83234;"></div>
<div class="t" style="left:618.74px;top:460.30px;width:33.29px;height:32.50px;line-height:32.50px;font-size:12px;color:#f2f000;text-align:center;letter-spacing:-0.5px;">3</div>
<div style="left:664.68px;top:460.50px;width:7.86px;height:32.50px;background:#e83234;"></div>
<div class="t" style="left:654.18px;top:460.30px;width:28.86px;height:32.50px;line-height:32.50px;font-size:12px;color:#f2f000;text-align:center;letter-spacing:-0.5px;">2</div>
<div style="left:1276.00px;top:460.50px;width:129.30px;height:32.50px;background:#d00f12;"></div>
<div style="left:1302.36px;top:460.50px;width:7.62px;height:32.50px;background:#e83234;"></div>
<div class="t" style="left:1291.86px;top:460.30px;width:28.62px;height:32.50px;line-height:32.50px;font-size:12px;color:#f2f000;text-align:center;letter-spacing:-0.5px;">2</div>
<div style="left:1315.29px;top:460.50px;width:7.62px;height:32.50px;background:#e83234;"></div>
<div class="t" style="left:1304.79px;top:460.30px;width:28.62px;height:32.50px;line-height:32.50px;font-size:12px;color:#f2f000;text-align:center;letter-spacing:-0.5px;">2</div>
<div style="left:1328.22px;top:460.50px;width:16.24px;height:32.50px;background:#e83234;"></div>
<div class="t" style="left:1317.72px;top:460.30px;width:37.24px;height:32.50px;line-height:32.50px;font-size:12px;color:#f2f000;text-align:center;letter-spacing:-0.5px;">4</div>
<div style="left:1354.08px;top:460.50px;width:11.93px;height:32.50px;background:#e83234;"></div>
<div class="t" style="left:1343.58px;top:460.30px;width:32.93px;height:32.50px;line-height:32.50px;font-size:12px;color:#f2f000;text-align:center;letter-spacing:-0.5px;">3</div>
<div style="left:1388.56px;top:460.50px;width:7.62px;height:32.50px;background:#e83234;"></div>
<div class="t" style="left:1378.06px;top:460.30px;width:28.62px;height:32.50px;line-height:32.50px;font-size:12px;color:#f2f000;text-align:center;letter-spacing:-0.5px;">2</div>
<div class="t" style="left:527.00px;top:461.50px;width:40.00px;height:32.50px;line-height:32.50px;font-size:16px;color:#fff;text-align:left;">30</div>
<div class="t" style="left:1254.50px;top:461.50px;width:40.00px;height:32.50px;line-height:32.50px;font-size:16px;color:#fff;text-align:left;">30</div>
<div style="left:549.00px;top:493.00px;width:159.48px;height:32.50px;background:#d00f12;"></div>
<div style="left:558.36px;top:493.00px;width:7.86px;height:32.50px;background:#e83234;"></div>
<div class="t" style="left:547.86px;top:492.80px;width:28.86px;height:32.50px;line-height:32.50px;font-size:12px;color:#f2f000;text-align:center;letter-spacing:-0.5px;">2</div>
<div style="left:593.80px;top:493.00px;width:16.72px;height:32.50px;background:#e83234;"></div>
<div class="t" style="left:583.30px;top:492.80px;width:37.72px;height:32.50px;line-height:32.50px;font-size:12px;color:#f2f000;text-align:center;letter-spacing:-0.5px;">4</div>
<div style="left:611.52px;top:493.00px;width:12.29px;height:32.50px;background:#e83234;"></div>
<div class="t" style="left:601.02px;top:492.80px;width:33.29px;height:32.50px;line-height:32.50px;font-size:12px;color:#f2f000;text-align:center;letter-spacing:-0.5px;">3</div>
<div style="left:646.96px;top:493.00px;width:7.86px;height:32.50px;background:#e83234;"></div>
<div class="t" style="left:636.46px;top:492.80px;width:28.86px;height:32.50px;line-height:32.50px;font-size:12px;color:#f2f000;text-align:center;letter-spacing:-0.5px;">2</div>
<div style="left:655.82px;top:493.00px;width:16.72px;height:32.50px;background:#e83234;"></div>
<div class="t" style="left:645.32px;top:492.80px;width:37.72px;height:32.50px;line-height:32.50px;font-size:12px;color:#f2f000;text-align:center;letter-spacing:-0.5px;">4</div>
<div style="left:1276.00px;top:493.00px;width:155.16px;height:32.50px;background:#d00f12;"></div>
<div style="left:1285.12px;top:493.00px;width:7.62px;height:32.50px;background:#e83234;"></div>
<div class="t" style="left:1274.62px;top:492.80px;width:28.62px;height:32.50px;line-height:32.50px;font-size:12px;color:#f2f000;text-align:center;letter-spacing:-0.5px;">2</div>
<div style="left:1319.60px;top:493.00px;width:16.24px;height:32.50px;background:#e83234;"></div>
<div class="t" style="left:1309.10px;top:492.80px;width:37.24px;height:32.50px;line-height:32.50px;font-size:12px;color:#f2f000;text-align:center;letter-spacing:-0.5px;">4</div>
<div style="left:1336.84px;top:493.00px;width:11.93px;height:32.50px;background:#e83234;"></div>
<div class="t" style="left:1326.34px;top:492.80px;width:32.93px;height:32.50px;line-height:32.50px;font-size:12px;color:#f2f000;text-align:center;letter-spacing:-0.5px;">3</div>
<div style="left:1371.32px;top:493.00px;width:7.62px;height:32.50px;background:#e83234;"></div>
<div class="t" style="left:1360.82px;top:492.80px;width:28.62px;height:32.50px;line-height:32.50px;font-size:12px;color:#f2f000;text-align:center;letter-spacing:-0.5px;">2</div>
<div style="left:1379.94px;top:493.00px;width:16.24px;height:32.50px;background:#e83234;"></div>
<div class="t" style="left:1369.44px;top:492.80px;width:37.24px;height:32.50px;line-height:32.50px;font-size:12px;color:#f2f000;text-align:center;letter-spacing:-0.5px;">4</div>
<div class="t" style="left:527.00px;top:494.00px;width:40.00px;height:32.50px;line-height:32.50px;font-size:16px;color:#fff;text-align:left;">36</div>
<div class="t" style="left:1254.50px;top:494.00px;width:40.00px;height:32.50px;line-height:32.50px;font-size:16px;color:#fff;text-align:left;">36</div>
<div style="left:549.00px;top:525.50px;width:106.32px;height:32.50px;background:#d00f12;"></div>
<div style="left:549.50px;top:525.50px;width:7.86px;height:32.50px;background:#e83234;"></div>
<div class="t" style="left:539.00px;top:525.30px;width:28.86px;height:32.50px;line-height:32.50px;font-size:12px;color:#f2f000;text-align:center;letter-spacing:-0.5px;">2</div>
<div style="left:576.08px;top:525.50px;width:7.86px;height:32.50px;background:#e83234;"></div>
<div class="t" style="left:565.58px;top:525.30px;width:28.86px;height:32.50px;line-height:32.50px;font-size:12px;color:#f2f000;text-align:center;letter-spacing:-0.5px;">2</div>
<div style="left:602.66px;top:525.50px;width:16.72px;height:32.50px;background:#e83234;"></div>
<div class="t" style="left:592.16px;top:525.30px;width:37.72px;height:32.50px;line-height:32.50px;font-size:12px;color:#f2f000;text-align:center;letter-spacing:-0.5px;">4</div>
<div style="left:1276.00px;top:525.50px;width:103.44px;height:32.50px;background:#d00f12;"></div>
<div style="left:1276.50px;top:525.50px;width:7.62px;height:32.50px;background:#e83234;"></div>
<div class="t" style="left:1266.00px;top:525.30px;width:28.62px;height:32.50px;line-height:32.50px;font-size:12px;color:#f2f000;text-align:center;letter-spacing:-0.5px;">2</div>
<div style="left:1302.36px;top:525.50px;width:7.62px;height:32.50px;background:#e83234;"></div>
<div class="t" style="left:1291.86px;top:525.30px;width:28.62px;height:32.50px;line-height:32.50px;font-size:12px;color:#f2f000;text-align:center;letter-spacing:-0.5px;">2</div>
<div style="left:1328.22px;top:525.50px;width:16.24px;height:32.50px;background:#e83234;"></div>
<div class="t" style="left:1317.72px;top:525.30px;width:37.24px;height:32.50px;line-height:32.50px;font-size:12px;color:#f2f000;text-align:center;letter-spacing:-0.5px;">4</div>
<div class="t" style="left:527.00px;top:526.50px;width:40.00px;height:32.50px;line-height:32.50px;font-size:16px;color:#fff;text-align:left;">24</div>
<div class="t" style="left:1254.50px;top:526.50px;width:40.00px;height:32.50px;line-height:32.50px;font-size:16px;color:#fff;text-align:left;">24</div>
<div style="left:549.00px;top:558.00px;width:101.89px;height:32.50px;background:#d00f12;"></div>
<div style="left:549.50px;top:558.00px;width:7.86px;height:32.50px;background:#e83234;"></div>
<div class="t" style="left:539.00px;top:557.80px;width:28.86px;height:32.50px;line-height:32.50px;font-size:12px;color:#f2f000;text-align:center;letter-spacing:-0.5px;">2</div>
<div style="left:571.65px;top:558.00px;width:7.86px;height:32.50px;background:#e83234;"></div>
<div class="t" style="left:561.15px;top:557.80px;width:28.86px;height:32.50px;line-height:32.50px;font-size:12px;color:#f2f000;text-align:center;letter-spacing:-0.5px;">2</div>
<div style="left:589.37px;top:558.00px;width:12.29px;height:32.50px;background:#e83234;"></div>
<div class="t" style="left:578.87px;top:557.80px;width:33.29px;height:32.50px;line-height:32.50px;font-size:12px;color:#f2f000;text-align:center;letter-spacing:-0.5px;">3</div>
<div style="left:611.52px;top:558.00px;width:16.72px;height:32.50px;background:#e83234;"></div>
<div class="t" style="left:601.02px;top:557.80px;width:37.72px;height:32.50px;line-height:32.50px;font-size:12px;color:#f2f000;text-align:center;letter-spacing:-0.5px;">4</div>
<div style="left:1276.00px;top:558.00px;width:99.13px;height:32.50px;background:#d00f12;"></div>
<div style="left:1276.50px;top:558.00px;width:7.62px;height:32.50px;background:#e83234;"></div>
<div class="t" style="left:1266.00px;top:557.80px;width:28.62px;height:32.50px;line-height:32.50px;font-size:12px;color:#f2f000;text-align:center;letter-spacing:-0.5px;">2</div>
<div style="left:1298.05px;top:558.00px;width:7.62px;height:32.50px;background:#e83234;"></div>
<div class="t" style="left:1287.55px;top:557.80px;width:28.62px;height:32.50px;line-height:32.50px;font-size:12px;color:#f2f000;text-align:center;letter-spacing:-0.5px;">2</div>
<div style="left:1315.29px;top:558.00px;width:11.93px;height:32.50px;background:#e83234;"></div>
<div class="t" style="left:1304.79px;top:557.80px;width:32.93px;height:32.50px;line-height:32.50px;font-size:12px;color:#f2f000;text-align:center;letter-spacing:-0.5px;">3</div>
<div style="left:1336.84px;top:558.00px;width:16.24px;height:32.50px;background:#e83234;"></div>
<div class="t" style="left:1326.34px;top:557.80px;width:37.24px;height:32.50px;line-height:32.50px;font-size:12px;color:#f2f000;text-align:center;letter-spacing:-0.5px;">4</div>
<div class="t" style="left:527.00px;top:559.00px;width:40.00px;height:32.50px;line-height:32.50px;font-size:16px;color:#fff;text-align:left;">23</div>
<div class="t" style="left:1254.50px;top:559.00px;width:40.00px;height:32.50px;line-height:32.50px;font-size:16px;color:#fff;text-align:left;">23</div>
<div style="left:549.00px;top:590.50px;width:79.74px;height:32.50px;background:#d00f12;"></div>
<div style="left:558.36px;top:590.50px;width:7.86px;height:32.50px;background:#e83234;"></div>
<div class="t" style="left:547.86px;top:590.30px;width:28.86px;height:32.50px;line-height:32.50px;font-size:12px;color:#f2f000;text-align:center;letter-spacing:-0.5px;">2</div>
<div style="left:571.65px;top:590.50px;width:7.86px;height:32.50px;background:#e83234;"></div>
<div class="t" style="left:561.15px;top:590.30px;width:28.86px;height:32.50px;line-height:32.50px;font-size:12px;color:#f2f000;text-align:center;letter-spacing:-0.5px;">2</div>
<div style="left:584.94px;top:590.50px;width:12.29px;height:32.50px;background:#e83234;"></div>
<div class="t" style="left:574.44px;top:590.30px;width:33.29px;height:32.50px;line-height:32.50px;font-size:12px;color:#f2f000;text-align:center;letter-spacing:-0.5px;">3</div>
<div style="left:598.23px;top:590.50px;width:12.29px;height:32.50px;background:#e83234;"></div>
<div class="t" style="left:587.73px;top:590.30px;width:33.29px;height:32.50px;line-height:32.50px;font-size:12px;color:#f2f000;text-align:center;letter-spacing:-0.5px;">3</div>
<div style="left:1276.00px;top:590.50px;width:77.58px;height:32.50px;background:#d00f12;"></div>
<div style="left:1285.12px;top:590.50px;width:7.62px;height:32.50px;background:#e83234;"></div>
<div class="t" style="left:1274.62px;top:590.30px;width:28.62px;height:32.50px;line-height:32.50px;font-size:12px;color:#f2f000;text-align:center;letter-spacing:-0.5px;">2</div>
<div style="left:1298.05px;top:590.50px;width:7.62px;height:32.50px;background:#e83234;"></div>
<div class="t" style="left:1287.55px;top:590.30px;width:28.62px;height:32.50px;line-height:32.50px;font-size:12px;color:#f2f000;text-align:center;letter-spacing:-0.5px;">2</div>
<div style="left:1310.98px;top:590.50px;width:11.93px;height:32.50px;background:#e83234;"></div>
<div class="t" style="left:1300.48px;top:590.30px;width:32.93px;height:32.50px;line-height:32.50px;font-size:12px;color:#f2f000;text-align:center;letter-spacing:-0.5px;">3</div>
<div style="left:1323.91px;top:590.50px;width:11.93px;height:32.50px;background:#e83234;"></div>
<div class="t" style="left:1313.41px;top:590.30px;width:32.93px;height:32.50px;line-height:32.50px;font-size:12px;color:#f2f000;text-align:center;letter-spacing:-0.5px;">3</div>
<div class="t" style="left:527.00px;top:591.50px;width:40.00px;height:32.50px;line-height:32.50px;font-size:16px;color:#fff;text-align:left;">18</div>
<div class="t" style="left:1254.50px;top:591.50px;width:40.00px;height:32.50px;line-height:32.50px;font-size:16px;color:#fff;text-align:left;">18</div>
<div style="left:549.00px;top:623.00px;width:75.31px;height:32.50px;background:#d00f12;"></div>
<div style="left:549.50px;top:623.00px;width:38.87px;height:32.50px;background:#e83234;"></div>
<div class="t" style="left:539.00px;top:622.80px;width:59.87px;height:32.50px;line-height:32.50px;font-size:12px;color:#f2f000;text-align:center;letter-spacing:-0.5px;">9</div>
<div style="left:1276.00px;top:623.00px;width:73.27px;height:32.50px;background:#d00f12;"></div>
<div style="left:1276.50px;top:623.00px;width:37.79px;height:32.50px;background:#e83234;"></div>
<div class="t" style="left:1266.00px;top:622.80px;width:58.79px;height:32.50px;line-height:32.50px;font-size:12px;color:#f2f000;text-align:center;letter-spacing:-0.5px;">9</div>
<div class="t" style="left:527.00px;top:624.00px;width:40.00px;height:32.50px;line-height:32.50px;font-size:16px;color:#fff;text-align:left;">17</div>
<div class="t" style="left:1254.50px;top:624.00px;width:40.00px;height:32.50px;line-height:32.50px;font-size:16px;color:#fff;text-align:left;">17</div>
<div style="left:303.88px;top:655.50px;width:37.52px;height:32.50px;background:#4159d0;"></div>
<div style="left:1276.00px;top:655.50px;width:34.48px;height:32.50px;background:#4159d0;"></div>
<div class="t" style="left:300.00px;top:656.50px;width:62.50px;height:32.50px;line-height:32.50px;font-size:16px;color:#fff;text-align:right;">8</div>
<div class="t" style="left:1254.50px;top:656.50px;width:40.00px;height:32.50px;line-height:32.50px;font-size:16px;color:#fff;text-align:left;">8</div>
<div style="left:275.74px;top:688.00px;width:65.66px;height:32.50px;background:#4159d0;"></div>
<div style="left:327.83px;top:688.00px;width:8.38px;height:32.50px;background:#3434e8;"></div>
<div class="t" style="left:317.33px;top:687.80px;width:29.38px;height:32.50px;line-height:32.50px;font-size:12px;color:#f2f000;text-align:center;letter-spacing:-0.5px;">2</div>
<div style="left:1276.00px;top:688.00px;width:60.34px;height:32.50px;background:#4159d0;"></div>
<div style="left:1280.81px;top:688.00px;width:7.62px;height:32.50px;background:#3434e8;"></div>
<div class="t" style="left:1270.31px;top:687.80px;width:28.62px;height:32.50px;line-height:32.50px;font-size:12px;color:#f2f000;text-align:center;letter-spacing:-0.5px;">2</div>
<div class="t" style="left:300.00px;top:689.00px;width:62.50px;height:32.50px;line-height:32.50px;font-size:16px;color:#fff;text-align:right;">14</div>
<div class="t" style="left:1254.50px;top:689.00px;width:40.00px;height:32.50px;line-height:32.50px;font-size:16px;color:#fff;text-align:left;">14</div>
<div style="left:289.81px;top:720.50px;width:51.59px;height:32.50px;background:#4159d0;"></div>
<div style="left:318.45px;top:720.50px;width:8.38px;height:32.50px;background:#3434e8;"></div>
<div class="t" style="left:307.95px;top:720.30px;width:29.38px;height:32.50px;line-height:32.50px;font-size:12px;color:#f2f000;text-align:center;letter-spacing:-0.5px;">2</div>
<div style="left:1276.00px;top:720.50px;width:47.41px;height:32.50px;background:#4159d0;"></div>
<div style="left:1289.43px;top:720.50px;width:7.62px;height:32.50px;background:#3434e8;"></div>
<div class="t" style="left:1278.93px;top:720.30px;width:28.62px;height:32.50px;line-height:32.50px;font-size:12px;color:#f2f000;text-align:center;letter-spacing:-0.5px;">2</div>
<div class="t" style="left:300.00px;top:721.50px;width:62.50px;height:32.50px;line-height:32.50px;font-size:16px;color:#fff;text-align:right;">11</div>
<div class="t" style="left:1254.50px;top:721.50px;width:40.00px;height:32.50px;line-height:32.50px;font-size:16px;color:#fff;text-align:left;">11</div>
<div style="left:266.36px;top:753.00px;width:75.04px;height:32.50px;background:#4159d0;"></div>
<div style="left:266.86px;top:753.00px;width:13.07px;height:32.50px;background:#3434e8;"></div>
<div class="t" style="left:256.36px;top:752.80px;width:34.07px;height:32.50px;line-height:32.50px;font-size:12px;color:#f2f000;text-align:center;letter-spacing:-0.5px;">3</div>
<div style="left:299.69px;top:753.00px;width:8.38px;height:32.50px;background:#3434e8;"></div>
<div class="t" style="left:289.19px;top:752.80px;width:29.38px;height:32.50px;line-height:32.50px;font-size:12px;color:#f2f000;text-align:center;letter-spacing:-0.5px;">2</div>
<div style="left:327.83px;top:753.00px;width:8.38px;height:32.50px;background:#3434e8;"></div>
<div class="t" style="left:317.33px;top:752.80px;width:29.38px;height:32.50px;line-height:32.50px;font-size:12px;color:#f2f000;text-align:center;letter-spacing:-0.5px;">2</div>
<div style="left:1276.00px;top:753.00px;width:68.96px;height:32.50px;background:#4159d0;"></div>
<div style="left:1332.53px;top:753.00px;width:11.93px;height:32.50px;background:#3434e8;"></div>
<div class="t" style="left:1322.03px;top:752.80px;width:32.93px;height:32.50px;line-height:32.50px;font-size:12px;color:#f2f000;text-align:center;letter-spacing:-0.5px;">3</div>
<div style="left:1306.67px;top:753.00px;width:7.62px;height:32.50px;background:#3434e8;"></div>
<div class="t" style="left:1296.17px;top:752.80px;width:28.62px;height:32.50px;line-height:32.50px;font-size:12px;color:#f2f000;text-align:center;letter-spacing:-0.5px;">2</div>
<div style="left:1280.81px;top:753.00px;width:7.62px;height:32.50px;background:#3434e8;"></div>
<div class="t" style="left:1270.31px;top:752.80px;width:28.62px;height:32.50px;line-height:32.50px;font-size:12px;color:#f2f000;text-align:center;letter-spacing:-0.5px;">2</div>
<div class="t" style="left:300.00px;top:754.00px;width:62.50px;height:32.50px;line-height:32.50px;font-size:16px;color:#fff;text-align:right;">16</div>
<div class="t" style="left:1254.50px;top:754.00px;width:40.00px;height:32.50px;line-height:32.50px;font-size:16px;color:#fff;text-align:left;">16</div>
<div style="left:256.98px;top:785.50px;width:84.42px;height:32.50px;background:#4159d0;"></div>
<div style="left:276.24px;top:785.50px;width:13.07px;height:32.50px;background:#3434e8;"></div>
<div class="t" style="left:265.74px;top:785.30px;width:34.07px;height:32.50px;line-height:32.50px;font-size:12px;color:#f2f000;text-align:center;letter-spacing:-0.5px;">3</div>
<div style="left:332.52px;top:785.50px;width:8.38px;height:32.50px;background:#3434e8;"></div>
<div class="t" style="left:322.02px;top:785.30px;width:29.38px;height:32.50px;line-height:32.50px;font-size:12px;color:#f2f000;text-align:center;letter-spacing:-0.5px;">2</div>
<div style="left:1276.00px;top:785.50px;width:77.58px;height:32.50px;background:#4159d0;"></div>
<div style="left:1323.91px;top:785.50px;width:11.93px;height:32.50px;background:#3434e8;"></div>
<div class="t" style="left:1313.41px;top:785.30px;width:32.93px;height:32.50px;line-height:32.50px;font-size:12px;color:#f2f000;text-align:center;letter-spacing:-0.5px;">3</div>
<div style="left:1276.50px;top:785.50px;width:7.62px;height:32.50px;background:#3434e8;"></div>
<div class="t" style="left:1266.00px;top:785.30px;width:28.62px;height:32.50px;line-height:32.50px;font-size:12px;color:#f2f000;text-align:center;letter-spacing:-0.5px;">2</div>
<div class="t" style="left:300.00px;top:786.50px;width:62.50px;height:32.50px;line-height:32.50px;font-size:16px;color:#fff;text-align:right;">18</div>
<div class="t" style="left:1254.50px;top:786.50px;width:40.00px;height:32.50px;line-height:32.50px;font-size:16px;color:#fff;text-align:left;">18</div>
<div style="left:238.22px;top:818.00px;width:103.18px;height:32.50px;background:#4159d0;"></div>
<div style="left:238.72px;top:818.00px;width:8.38px;height:32.50px;background:#3434e8;"></div>
<div class="t" style="left:228.22px;top:817.80px;width:29.38px;height:32.50px;line-height:32.50px;font-size:12px;color:#f2f000;text-align:center;letter-spacing:-0.5px;">2</div>
<div style="left:257.48px;top:818.00px;width:8.38px;height:32.50px;background:#3434e8;"></div>
<div class="t" style="left:246.98px;top:817.80px;width:29.38px;height:32.50px;line-height:32.50px;font-size:12px;color:#f2f000;text-align:center;letter-spacing:-0.5px;">2</div>
<div style="left:276.24px;top:818.00px;width:13.07px;height:32.50px;background:#3434e8;"></div>
<div class="t" style="left:265.74px;top:817.80px;width:34.07px;height:32.50px;line-height:32.50px;font-size:12px;color:#f2f000;text-align:center;letter-spacing:-0.5px;">3</div>
<div style="left:318.45px;top:818.00px;width:8.38px;height:32.50px;background:#3434e8;"></div>
<div class="t" style="left:307.95px;top:817.80px;width:29.38px;height:32.50px;line-height:32.50px;font-size:12px;color:#f2f000;text-align:center;letter-spacing:-0.5px;">2</div>
<div style="left:1276.00px;top:818.00px;width:94.82px;height:32.50px;background:#4159d0;"></div>
<div style="left:1362.70px;top:818.00px;width:7.62px;height:32.50px;background:#3434e8;"></div>
<div class="t" style="left:1352.20px;top:817.80px;width:28.62px;height:32.50px;line-height:32.50px;font-size:12px;color:#f2f000;text-align:center;letter-spacing:-0.5px;">2</div>
<div style="left:1345.46px;top:818.00px;width:7.62px;height:32.50px;background:#3434e8;"></div>
<div class="t" style="left:1334.96px;top:817.80px;width:28.62px;height:32.50px;line-height:32.50px;font-size:12px;color:#f2f000;text-align:center;letter-spacing:-0.5px;">2</div>
<div style="left:1323.91px;top:818.00px;width:11.93px;height:32.50px;background:#3434e8;"></div>
<div class="t" style="left:1313.41px;top:817.80px;width:32.93px;height:32.50px;line-height:32.50px;font-size:12px;color:#f2f000;text-align:center;letter-spacing:-0.5px;">3</div>
<div style="left:1289.43px;top:818.00px;width:7.62px;height:32.50px;background:#3434e8;"></div>
<div class="t" style="left:1278.93px;top:817.80px;width:28.62px;height:32.50px;line-height:32.50px;font-size:12px;color:#f2f000;text-align:center;letter-spacing:-0.5px;">2</div>
<div class="t" style="left:300.00px;top:819.00px;width:62.50px;height:32.50px;line-height:32.50px;font-size:16px;color:#fff;text-align:right;">22</div>
<div class="t" style="left:1254.50px;top:819.00px;width:40.00px;height:32.50px;line-height:32.50px;font-size:16px;color:#fff;text-align:left;">22</div>
<div style="left:256.98px;top:850.50px;width:84.42px;height:32.50px;background:#4159d0;"></div>
<div style="left:280.93px;top:850.50px;width:8.38px;height:32.50px;background:#3434e8;"></div>
<div class="t" style="left:270.43px;top:850.30px;width:29.38px;height:32.50px;line-height:32.50px;font-size:12px;color:#f2f000;text-align:center;letter-spacing:-0.5px;">2</div>
<div style="left:318.45px;top:850.50px;width:8.38px;height:32.50px;background:#3434e8;"></div>
<div class="t" style="left:307.95px;top:850.30px;width:29.38px;height:32.50px;line-height:32.50px;font-size:12px;color:#f2f000;text-align:center;letter-spacing:-0.5px;">2</div>
<div style="left:1276.00px;top:850.50px;width:77.58px;height:32.50px;background:#4159d0;"></div>
<div style="left:1323.91px;top:850.50px;width:7.62px;height:32.50px;background:#3434e8;"></div>
<div class="t" style="left:1313.41px;top:850.30px;width:28.62px;height:32.50px;line-height:32.50px;font-size:12px;color:#f2f000;text-align:center;letter-spacing:-0.5px;">2</div>
<div style="left:1289.43px;top:850.50px;width:7.62px;height:32.50px;background:#3434e8;"></div>
<div class="t" style="left:1278.93px;top:850.30px;width:28.62px;height:32.50px;line-height:32.50px;font-size:12px;color:#f2f000;text-align:center;letter-spacing:-0.5px;">2</div>
<div class="t" style="left:300.00px;top:851.50px;width:62.50px;height:32.50px;line-height:32.50px;font-size:16px;color:#fff;text-align:right;">18</div>
<div class="t" style="left:1254.50px;top:851.50px;width:40.00px;height:32.50px;line-height:32.50px;font-size:16px;color:#fff;text-align:left;">18</div>
<div style="left:238.22px;top:883.00px;width:103.18px;height:32.50px;background:#4159d0;"></div>
<div style="left:262.17px;top:883.00px;width:13.07px;height:32.50px;background:#3434e8;"></div>
<div class="t" style="left:251.67px;top:882.80px;width:34.07px;height:32.50px;line-height:32.50px;font-size:12px;color:#f2f000;text-align:center;letter-spacing:-0.5px;">3</div>
<div style="left:295.00px;top:883.00px;width:8.38px;height:32.50px;background:#3434e8;"></div>
<div class="t" style="left:284.50px;top:882.80px;width:29.38px;height:32.50px;line-height:32.50px;font-size:12px;color:#f2f000;text-align:center;letter-spacing:-0.5px;">2</div>
<div style="left:1276.00px;top:883.00px;width:94.82px;height:32.50px;background:#4159d0;"></div>
<div style="left:1336.84px;top:883.00px;width:11.93px;height:32.50px;background:#3434e8;"></div>
<div class="t" style="left:1326.34px;top:882.80px;width:32.93px;height:32.50px;line-height:32.50px;font-size:12px;color:#f2f000;text-align:center;letter-spacing:-0.5px;">3</div>
<div style="left:1310.98px;top:883.00px;width:7.62px;height:32.50px;background:#3434e8;"></div>
<div class="t" style="left:1300.48px;top:882.80px;width:28.62px;height:32.50px;line-height:32.50px;font-size:12px;color:#f2f000;text-align:center;letter-spacing:-0.5px;">2</div>
<div class="t" style="left:300.00px;top:884.00px;width:62.50px;height:32.50px;line-height:32.50px;font-size:16px;color:#fff;text-align:right;">22</div>
<div class="t" style="left:1254.50px;top:884.00px;width:40.00px;height:32.50px;line-height:32.50px;font-size:16px;color:#fff;text-align:left;">22</div>
<div style="left:224.15px;top:915.50px;width:117.25px;height:32.50px;background:#4159d0;"></div>
<div style="left:229.34px;top:915.50px;width:8.38px;height:32.50px;background:#3434e8;"></div>
<div class="t" style="left:218.84px;top:915.30px;width:29.38px;height:32.50px;line-height:32.50px;font-size:12px;color:#f2f000;text-align:center;letter-spacing:-0.5px;">2</div>
<div style="left:243.41px;top:915.50px;width:8.38px;height:32.50px;background:#3434e8;"></div>
<div class="t" style="left:232.91px;top:915.30px;width:29.38px;height:32.50px;line-height:32.50px;font-size:12px;color:#f2f000;text-align:center;letter-spacing:-0.5px;">2</div>
<div style="left:276.24px;top:915.50px;width:8.38px;height:32.50px;background:#3434e8;"></div>
<div class="t" style="left:265.74px;top:915.30px;width:29.38px;height:32.50px;line-height:32.50px;font-size:12px;color:#f2f000;text-align:center;letter-spacing:-0.5px;">2</div>
<div style="left:290.31px;top:915.50px;width:8.38px;height:32.50px;background:#3434e8;"></div>
<div class="t" style="left:279.81px;top:915.30px;width:29.38px;height:32.50px;line-height:32.50px;font-size:12px;color:#f2f000;text-align:center;letter-spacing:-0.5px;">2</div>
<div style="left:332.52px;top:915.50px;width:8.38px;height:32.50px;background:#3434e8;"></div>
<div class="t" style="left:322.02px;top:915.30px;width:29.38px;height:32.50px;line-height:32.50px;font-size:12px;color:#f2f000;text-align:center;letter-spacing:-0.5px;">2</div>
<div style="left:1276.00px;top:915.50px;width:107.75px;height:32.50px;background:#4159d0;"></div>
<div style="left:1371.32px;top:915.50px;width:7.62px;height:32.50px;background:#3434e8;"></div>
<div class="t" style="left:1360.82px;top:915.30px;width:28.62px;height:32.50px;line-height:32.50px;font-size:12px;color:#f2f000;text-align:center;letter-spacing:-0.5px;">2</div>
<div style="left:1358.39px;top:915.50px;width:7.62px;height:32.50px;background:#3434e8;"></div>
<div class="t" style="left:1347.89px;top:915.30px;width:28.62px;height:32.50px;line-height:32.50px;font-size:12px;color:#f2f000;text-align:center;letter-spacing:-0.5px;">2</div>
<div style="left:1328.22px;top:915.50px;width:7.62px;height:32.50px;background:#3434e8;"></div>
<div class="t" style="left:1317.72px;top:915.30px;width:28.62px;height:32.50px;line-height:32.50px;font-size:12px;color:#f2f000;text-align:center;letter-spacing:-0.5px;">2</div>
<div style="left:1315.29px;top:915.50px;width:7.62px;height:32.50px;background:#3434e8;"></div>
<div class="t" style="left:1304.79px;top:915.30px;width:28.62px;height:32.50px;line-height:32.50px;font-size:12px;color:#f2f000;text-align:center;letter-spacing:-0.5px;">2</div>
<div style="left:1276.50px;top:915.50px;width:7.62px;height:32.50px;background:#3434e8;"></div>
<div class="t" style="left:1266.00px;top:915.30px;width:28.62px;height:32.50px;line-height:32.50px;font-size:12px;color:#f2f000;text-align:center;letter-spacing:-0.5px;">2</div>
<div class="t" style="left:300.00px;top:916.50px;width:62.50px;height:32.50px;line-height:32.50px;font-size:16px;color:#fff;text-align:right;">25</div>
<div class="t" style="left:1254.50px;top:916.50px;width:40.00px;height:32.50px;line-height:32.50px;font-size:16px;color:#fff;text-align:left;">25</div>
<div style="left:247.60px;top:948.00px;width:93.80px;height:32.50px;background:#4159d0;"></div>
<div style="left:271.55px;top:948.00px;width:8.38px;height:32.50px;background:#3434e8;"></div>
<div class="t" style="left:261.05px;top:947.80px;width:29.38px;height:32.50px;line-height:32.50px;font-size:12px;color:#f2f000;text-align:center;letter-spacing:-0.5px;">2</div>
<div style="left:313.76px;top:948.00px;width:8.38px;height:32.50px;background:#3434e8;"></div>
<div class="t" style="left:303.26px;top:947.80px;width:29.38px;height:32.50px;line-height:32.50px;font-size:12px;color:#f2f000;text-align:center;letter-spacing:-0.5px;">2</div>
<div style="left:1276.00px;top:948.00px;width:86.20px;height:32.50px;background:#4159d0;"></div>
<div style="left:1332.53px;top:948.00px;width:7.62px;height:32.50px;background:#3434e8;"></div>
<div class="t" style="left:1322.03px;top:947.80px;width:28.62px;height:32.50px;line-height:32.50px;font-size:12px;color:#f2f000;text-align:center;letter-spacing:-0.5px;">2</div>
<div style="left:1293.74px;top:948.00px;width:7.62px;height:32.50px;background:#3434e8;"></div>
<div class="t" style="left:1283.24px;top:947.80px;width:28.62px;height:32.50px;line-height:32.50px;font-size:12px;color:#f2f000;text-align:center;letter-spacing:-0.5px;">2</div>
<div class="t" style="left:300.00px;top:949.00px;width:62.50px;height:32.50px;line-height:32.50px;font-size:16px;color:#fff;text-align:right;">20</div>
<div class="t" style="left:1254.50px;top:949.00px;width:40.00px;height:32.50px;line-height:32.50px;font-size:16px;color:#fff;text-align:left;">20</div>
<div style="left:256.98px;top:980.50px;width:84.42px;height:32.50px;background:#4159d0;"></div>
<div style="left:304.38px;top:980.50px;width:8.38px;height:32.50px;background:#3434e8;"></div>
<div class="t" style="left:293.88px;top:980.30px;width:29.38px;height:32.50px;line-height:32.50px;font-size:12px;color:#f2f000;text-align:center;letter-spacing:-0.5px;">2</div>
<div style="left:323.14px;top:980.50px;width:8.38px;height:32.50px;background:#3434e8;"></div>
<div class="t" style="left:312.64px;top:980.30px;width:29.38px;height:32.50px;line-height:32.50px;font-size:12px;color:#f2f000;text-align:center;letter-spacing:-0.5px;">2</div>
<div style="left:1276.00px;top:980.50px;width:77.58px;height:32.50px;background:#4159d0;"></div>
<div style="left:1302.36px;top:980.50px;width:7.62px;height:32.50px;background:#3434e8;"></div>
<div class="t" style="left:1291.86px;top:980.30px;width:28.62px;height:32.50px;line-height:32.50px;font-size:12px;color:#f2f000;text-align:center;letter-spacing:-0.5px;">2</div>
<div style="left:1285.12px;top:980.50px;width:7.62px;height:32.50px;background:#3434e8;"></div>
<div class="t" style="left:1274.62px;top:980.30px;width:28.62px;height:32.50px;line-height:32.50px;font-size:12px;color:#f2f000;text-align:center;letter-spacing:-0.5px;">2</div>
<div class="t" style="left:300.00px;top:981.50px;width:62.50px;height:32.50px;line-height:32.50px;font-size:16px;color:#fff;text-align:right;">18</div>
<div class="t" style="left:1254.50px;top:981.50px;width:40.00px;height:32.50px;line-height:32.50px;font-size:16px;color:#fff;text-align:left;">18</div>
<div style="left:177.25px;top:1013.00px;width:164.15px;height:32.50px;background:#4159d0;"></div>
<div style="left:191.82px;top:1013.00px;width:8.38px;height:32.50px;background:#3434e8;"></div>
<div class="t" style="left:181.32px;top:1012.80px;width:29.38px;height:32.50px;line-height:32.50px;font-size:12px;color:#f2f000;text-align:center;letter-spacing:-0.5px;">2</div>
<div style="left:201.20px;top:1013.00px;width:8.38px;height:32.50px;background:#3434e8;"></div>
<div class="t" style="left:190.70px;top:1012.80px;width:29.38px;height:32.50px;line-height:32.50px;font-size:12px;color:#f2f000;text-align:center;letter-spacing:-0.5px;">2</div>
<div style="left:234.03px;top:1013.00px;width:22.45px;height:32.50px;background:#3434e8;"></div>
<div class="t" style="left:223.53px;top:1012.80px;width:43.45px;height:32.50px;line-height:32.50px;font-size:12px;color:#f2f000;text-align:center;letter-spacing:-0.5px;">5</div>
<div style="left:257.48px;top:1013.00px;width:8.38px;height:32.50px;background:#3434e8;"></div>
<div class="t" style="left:246.98px;top:1012.80px;width:29.38px;height:32.50px;line-height:32.50px;font-size:12px;color:#f2f000;text-align:center;letter-spacing:-0.5px;">2</div>
<div style="left:285.62px;top:1013.00px;width:8.38px;height:32.50px;background:#3434e8;"></div>
<div class="t" style="left:275.12px;top:1012.80px;width:29.38px;height:32.50px;line-height:32.50px;font-size:12px;color:#f2f000;text-align:center;letter-spacing:-0.5px;">2</div>
<div style="left:318.45px;top:1013.00px;width:13.07px;height:32.50px;background:#3434e8;"></div>
<div class="t" style="left:307.95px;top:1012.80px;width:34.07px;height:32.50px;line-height:32.50px;font-size:12px;color:#f2f000;text-align:center;letter-spacing:-0.5px;">3</div>
<div style="left:1276.00px;top:1013.00px;width:150.85px;height:32.50px;background:#4159d0;"></div>
<div style="left:1405.80px;top:1013.00px;width:7.62px;height:32.50px;background:#3434e8;"></div>
<div class="t" style="left:1395.30px;top:1012.80px;width:28.62px;height:32.50px;line-height:32.50px;font-size:12px;color:#f2f000;text-align:center;letter-spacing:-0.5px;">2</div>
<div style="left:1397.18px;top:1013.00px;width:7.62px;height:32.50px;background:#3434e8;"></div>
<div class="t" style="left:1386.68px;top:1012.80px;width:28.62px;height:32.50px;line-height:32.50px;font-size:12px;color:#f2f000;text-align:center;letter-spacing:-0.5px;">2</div>
<div style="left:1354.08px;top:1013.00px;width:20.55px;height:32.50px;background:#3434e8;"></div>
<div class="t" style="left:1343.58px;top:1012.80px;width:41.55px;height:32.50px;line-height:32.50px;font-size:12px;color:#f2f000;text-align:center;letter-spacing:-0.5px;">5</div>
<div style="left:1345.46px;top:1013.00px;width:7.62px;height:32.50px;background:#3434e8;"></div>
<div class="t" style="left:1334.96px;top:1012.80px;width:28.62px;height:32.50px;line-height:32.50px;font-size:12px;color:#f2f000;text-align:center;letter-spacing:-0.5px;">2</div>
<div style="left:1319.60px;top:1013.00px;width:7.62px;height:32.50px;background:#3434e8;"></div>
<div class="t" style="left:1309.10px;top:1012.80px;width:28.62px;height:32.50px;line-height:32.50px;font-size:12px;color:#f2f000;text-align:center;letter-spacing:-0.5px;">2</div>
<div style="left:1285.12px;top:1013.00px;width:11.93px;height:32.50px;background:#3434e8;"></div>
<div class="t" style="left:1274.62px;top:1012.80px;width:32.93px;height:32.50px;line-height:32.50px;font-size:12px;color:#f2f000;text-align:center;letter-spacing:-0.5px;">3</div>
<div class="t" style="left:300.00px;top:1014.00px;width:62.50px;height:32.50px;line-height:32.50px;font-size:16px;color:#fff;text-align:right;">35</div>
<div class="t" style="left:1254.50px;top:1014.00px;width:40.00px;height:32.50px;line-height:32.50px;font-size:16px;color:#fff;text-align:left;">35</div>
<div style="left:228.84px;top:1045.50px;width:112.56px;height:32.50px;background:#4159d0;"></div>
<div style="left:266.86px;top:1045.50px;width:8.38px;height:32.50px;background:#3434e8;"></div>
<div class="t" style="left:256.36px;top:1045.30px;width:29.38px;height:32.50px;line-height:32.50px;font-size:12px;color:#f2f000;text-align:center;letter-spacing:-0.5px;">2</div>
<div style="left:295.00px;top:1045.50px;width:8.38px;height:32.50px;background:#3434e8;"></div>
<div class="t" style="left:284.50px;top:1045.30px;width:29.38px;height:32.50px;line-height:32.50px;font-size:12px;color:#f2f000;text-align:center;letter-spacing:-0.5px;">2</div>
<div style="left:318.45px;top:1045.50px;width:13.07px;height:32.50px;background:#3434e8;"></div>
<div class="t" style="left:307.95px;top:1045.30px;width:34.07px;height:32.50px;line-height:32.50px;font-size:12px;color:#f2f000;text-align:center;letter-spacing:-0.5px;">3</div>
<div style="left:1276.00px;top:1045.50px;width:103.44px;height:32.50px;background:#4159d0;"></div>
<div style="left:1336.84px;top:1045.50px;width:7.62px;height:32.50px;background:#3434e8;"></div>
<div class="t" style="left:1326.34px;top:1045.30px;width:28.62px;height:32.50px;line-height:32.50px;font-size:12px;color:#f2f000;text-align:center;letter-spacing:-0.5px;">2</div>
<div style="left:1310.98px;top:1045.50px;width:7.62px;height:32.50px;background:#3434e8;"></div>
<div class="t" style="left:1300.48px;top:1045.30px;width:28.62px;height:32.50px;line-height:32.50px;font-size:12px;color:#f2f000;text-align:center;letter-spacing:-0.5px;">2</div>
<div style="left:1285.12px;top:1045.50px;width:11.93px;height:32.50px;background:#3434e8;"></div>
<div class="t" style="left:1274.62px;top:1045.30px;width:32.93px;height:32.50px;line-height:32.50px;font-size:12px;color:#f2f000;text-align:center;letter-spacing:-0.5px;">3</div>
<div class="t" style="left:300.00px;top:1046.50px;width:62.50px;height:32.50px;line-height:32.50px;font-size:16px;color:#fff;text-align:right;">24</div>
<div class="t" style="left:1254.50px;top:1046.50px;width:40.00px;height:32.50px;line-height:32.50px;font-size:16px;color:#fff;text-align:left;">24</div>
<div style="left:200.70px;top:1078.00px;width:140.70px;height:32.50px;background:#4159d0;"></div>
<div style="left:224.65px;top:1078.00px;width:8.38px;height:32.50px;background:#3434e8;"></div>
<div class="t" style="left:214.15px;top:1077.80px;width:29.38px;height:32.50px;line-height:32.50px;font-size:12px;color:#f2f000;text-align:center;letter-spacing:-0.5px;">2</div>
<div style="left:243.41px;top:1078.00px;width:13.07px;height:32.50px;background:#3434e8;"></div>
<div class="t" style="left:232.91px;top:1077.80px;width:34.07px;height:32.50px;line-height:32.50px;font-size:12px;color:#f2f000;text-align:center;letter-spacing:-0.5px;">3</div>
<div style="left:257.48px;top:1078.00px;width:8.38px;height:32.50px;background:#3434e8;"></div>
<div class="t" style="left:246.98px;top:1077.80px;width:29.38px;height:32.50px;line-height:32.50px;font-size:12px;color:#f2f000;text-align:center;letter-spacing:-0.5px;">2</div>
<div style="left:285.62px;top:1078.00px;width:8.38px;height:32.50px;background:#3434e8;"></div>
<div class="t" style="left:275.12px;top:1077.80px;width:29.38px;height:32.50px;line-height:32.50px;font-size:12px;color:#f2f000;text-align:center;letter-spacing:-0.5px;">2</div>
<div style="left:318.45px;top:1078.00px;width:13.07px;height:32.50px;background:#3434e8;"></div>
<div class="t" style="left:307.95px;top:1077.80px;width:34.07px;height:32.50px;line-height:32.50px;font-size:12px;color:#f2f000;text-align:center;letter-spacing:-0.5px;">3</div>
<div style="left:1276.00px;top:1078.00px;width:129.30px;height:32.50px;background:#4159d0;"></div>
<div style="left:1375.63px;top:1078.00px;width:7.62px;height:32.50px;background:#3434e8;"></div>
<div class="t" style="left:1365.13px;top:1077.80px;width:28.62px;height:32.50px;line-height:32.50px;font-size:12px;color:#f2f000;text-align:center;letter-spacing:-0.5px;">2</div>
<div style="left:1354.08px;top:1078.00px;width:11.93px;height:32.50px;background:#3434e8;"></div>
<div class="t" style="left:1343.58px;top:1077.80px;width:32.93px;height:32.50px;line-height:32.50px;font-size:12px;color:#f2f000;text-align:center;letter-spacing:-0.5px;">3</div>
<div style="left:1345.46px;top:1078.00px;width:7.62px;height:32.50px;background:#3434e8;"></div>
<div class="t" style="left:1334.96px;top:1077.80px;width:28.62px;height:32.50px;line-height:32.50px;font-size:12px;color:#f2f000;text-align:center;letter-spacing:-0.5px;">2</div>
<div style="left:1319.60px;top:1078.00px;width:7.62px;height:32.50px;background:#3434e8;"></div>
<div class="t" style="left:1309.10px;top:1077.80px;width:28.62px;height:32.50px;line-height:32.50px;font-size:12px;color:#f2f000;text-align:center;letter-spacing:-0.5px;">2</div>
<div style="left:1285.12px;top:1078.00px;width:11.93px;height:32.50px;background:#3434e8;"></div>
<div class="t" style="left:1274.62px;top:1077.80px;width:32.93px;height:32.50px;line-height:32.50px;font-size:12px;color:#f2f000;text-align:center;letter-spacing:-0.5px;">3</div>
<div class="t" style="left:300.00px;top:1079.00px;width:62.50px;height:32.50px;line-height:32.50px;font-size:16px;color:#fff;text-align:right;">30</div>
<div class="t" style="left:1254.50px;top:1079.00px;width:40.00px;height:32.50px;line-height:32.50px;font-size:16px;color:#fff;text-align:left;">30</div>
<div style="left:214.77px;top:1110.50px;width:126.63px;height:32.50px;background:#4159d0;"></div>
<div style="left:219.96px;top:1110.50px;width:8.38px;height:32.50px;background:#3434e8;"></div>
<div class="t" style="left:209.46px;top:1110.30px;width:29.38px;height:32.50px;line-height:32.50px;font-size:12px;color:#f2f000;text-align:center;letter-spacing:-0.5px;">2</div>
<div style="left:243.41px;top:1110.50px;width:8.38px;height:32.50px;background:#3434e8;"></div>
<div class="t" style="left:232.91px;top:1110.30px;width:29.38px;height:32.50px;line-height:32.50px;font-size:12px;color:#f2f000;text-align:center;letter-spacing:-0.5px;">2</div>
<div style="left:266.86px;top:1110.50px;width:8.38px;height:32.50px;background:#3434e8;"></div>
<div class="t" style="left:256.36px;top:1110.30px;width:29.38px;height:32.50px;line-height:32.50px;font-size:12px;color:#f2f000;text-align:center;letter-spacing:-0.5px;">2</div>
<div style="left:280.93px;top:1110.50px;width:17.76px;height:32.50px;background:#3434e8;"></div>
<div class="t" style="left:270.43px;top:1110.30px;width:38.76px;height:32.50px;line-height:32.50px;font-size:12px;color:#f2f000;text-align:center;letter-spacing:-0.5px;">4</div>
<div style="left:304.38px;top:1110.50px;width:13.07px;height:32.50px;background:#3434e8;"></div>
<div class="t" style="left:293.88px;top:1110.30px;width:34.07px;height:32.50px;line-height:32.50px;font-size:12px;color:#f2f000;text-align:center;letter-spacing:-0.5px;">3</div>
<div style="left:318.45px;top:1110.50px;width:13.07px;height:32.50px;background:#3434e8;"></div>
<div class="t" style="left:307.95px;top:1110.30px;width:34.07px;height:32.50px;line-height:32.50px;font-size:12px;color:#f2f000;text-align:center;letter-spacing:-0.5px;">3</div>
<div style="left:1276.00px;top:1110.50px;width:116.37px;height:32.50px;background:#4159d0;"></div>
<div style="left:1379.94px;top:1110.50px;width:7.62px;height:32.50px;background:#3434e8;"></div>
<div class="t" style="left:1369.44px;top:1110.30px;width:28.62px;height:32.50px;line-height:32.50px;font-size:12px;color:#f2f000;text-align:center;letter-spacing:-0.5px;">2</div>
<div style="left:1358.39px;top:1110.50px;width:7.62px;height:32.50px;background:#3434e8;"></div>
<div class="t" style="left:1347.89px;top:1110.30px;width:28.62px;height:32.50px;line-height:32.50px;font-size:12px;color:#f2f000;text-align:center;letter-spacing:-0.5px;">2</div>
<div style="left:1336.84px;top:1110.50px;width:7.62px;height:32.50px;background:#3434e8;"></div>
<div class="t" style="left:1326.34px;top:1110.30px;width:28.62px;height:32.50px;line-height:32.50px;font-size:12px;color:#f2f000;text-align:center;letter-spacing:-0.5px;">2</div>
<div style="left:1315.29px;top:1110.50px;width:16.24px;height:32.50px;background:#3434e8;"></div>
<div class="t" style="left:1304.79px;top:1110.30px;width:37.24px;height:32.50px;line-height:32.50px;font-size:12px;color:#f2f000;text-align:center;letter-spacing:-0.5px;">4</div>
<div style="left:1298.05px;top:1110.50px;width:11.93px;height:32.50px;background:#3434e8;"></div>
<div class="t" style="left:1287.55px;top:1110.30px;width:32.93px;height:32.50px;line-height:32.50px;font-size:12px;color:#f2f000;text-align:center;letter-spacing:-0.5px;">3</div>
<div style="left:1285.12px;top:1110.50px;width:11.93px;height:32.50px;background:#3434e8;"></div>
<div class="t" style="left:1274.62px;top:1110.30px;width:32.93px;height:32.50px;line-height:32.50px;font-size:12px;color:#f2f000;text-align:center;letter-spacing:-0.5px;">3</div>
<div class="t" style="left:300.00px;top:1111.50px;width:62.50px;height:32.50px;line-height:32.50px;font-size:16px;color:#fff;text-align:right;">27</div>
<div class="t" style="left:1254.50px;top:1111.50px;width:40.00px;height:32.50px;line-height:32.50px;font-size:16px;color:#fff;text-align:left;">27</div>
<div style="left:200.70px;top:1143.00px;width:140.70px;height:32.50px;background:#4159d0;"></div>
<div style="left:201.20px;top:1143.00px;width:8.38px;height:32.50px;background:#3434e8;"></div>
<div class="t" style="left:190.70px;top:1142.80px;width:29.38px;height:32.50px;line-height:32.50px;font-size:12px;color:#f2f000;text-align:center;letter-spacing:-0.5px;">2</div>
<div style="left:234.03px;top:1143.00px;width:8.38px;height:32.50px;background:#3434e8;"></div>
<div class="t" style="left:223.53px;top:1142.80px;width:29.38px;height:32.50px;line-height:32.50px;font-size:12px;color:#f2f000;text-align:center;letter-spacing:-0.5px;">2</div>
<div style="left:257.48px;top:1143.00px;width:8.38px;height:32.50px;background:#3434e8;"></div>
<div class="t" style="left:246.98px;top:1142.80px;width:29.38px;height:32.50px;line-height:32.50px;font-size:12px;color:#f2f000;text-align:center;letter-spacing:-0.5px;">2</div>
<div style="left:280.93px;top:1143.00px;width:8.38px;height:32.50px;background:#3434e8;"></div>
<div class="t" style="left:270.43px;top:1142.80px;width:29.38px;height:32.50px;line-height:32.50px;font-size:12px;color:#f2f000;text-align:center;letter-spacing:-0.5px;">2</div>
<div style="left:309.07px;top:1143.00px;width:8.38px;height:32.50px;background:#3434e8;"></div>
<div class="t" style="left:298.57px;top:1142.80px;width:29.38px;height:32.50px;line-height:32.50px;font-size:12px;color:#f2f000;text-align:center;letter-spacing:-0.5px;">2</div>
<div style="left:323.14px;top:1143.00px;width:8.38px;height:32.50px;background:#3434e8;"></div>
<div class="t" style="left:312.64px;top:1142.80px;width:29.38px;height:32.50px;line-height:32.50px;font-size:12px;color:#f2f000;text-align:center;letter-spacing:-0.5px;">2</div>
<div style="left:1276.00px;top:1143.00px;width:129.30px;height:32.50px;background:#4159d0;"></div>
<div style="left:1397.18px;top:1143.00px;width:7.62px;height:32.50px;background:#3434e8;"></div>
<div class="t" style="left:1386.68px;top:1142.80px;width:28.62px;height:32.50px;line-height:32.50px;font-size:12px;color:#f2f000;text-align:center;letter-spacing:-0.5px;">2</div>
<div style="left:1367.01px;top:1143.00px;width:7.62px;height:32.50px;background:#3434e8;"></div>
<div class="t" style="left:1356.51px;top:1142.80px;width:28.62px;height:32.50px;line-height:32.50px;font-size:12px;color:#f2f000;text-align:center;letter-spacing:-0.5px;">2</div>
<div style="left:1345.46px;top:1143.00px;width:7.62px;height:32.50px;background:#3434e8;"></div>
<div class="t" style="left:1334.96px;top:1142.80px;width:28.62px;height:32.50px;line-height:32.50px;font-size:12px;color:#f2f000;text-align:center;letter-spacing:-0.5px;">2</div>
<div style="left:1323.91px;top:1143.00px;width:7.62px;height:32.50px;background:#3434e8;"></div>
<div class="t" style="left:1313.41px;top:1142.80px;width:28.62px;height:32.50px;line-height:32.50px;font-size:12px;color:#f2f000;text-align:center;letter-spacing:-0.5px;">2</div>
<div style="left:1298.05px;top:1143.00px;width:7.62px;height:32.50px;background:#3434e8;"></div>
<div class="t" style="left:1287.55px;top:1142.80px;width:28.62px;height:32.50px;line-height:32.50px;font-size:12px;color:#f2f000;text-align:center;letter-spacing:-0.5px;">2</div>
<div style="left:1285.12px;top:1143.00px;width:7.62px;height:32.50px;background:#3434e8;"></div>
<div class="t" style="left:1274.62px;top:1142.80px;width:28.62px;height:32.50px;line-height:32.50px;font-size:12px;color:#f2f000;text-align:center;letter-spacing:-0.5px;">2</div>
<div class="t" style="left:300.00px;top:1144.00px;width:62.50px;height:32.50px;line-height:32.50px;font-size:16px;color:#fff;text-align:right;">30</div>
<div class="t" style="left:1254.50px;top:1144.00px;width:40.00px;height:32.50px;line-height:32.50px;font-size:16px;color:#fff;text-align:left;">30</div>
<div style="left:238.22px;top:1175.50px;width:103.18px;height:32.50px;background:#4159d0;"></div>
<div style="left:257.48px;top:1175.50px;width:8.38px;height:32.50px;background:#3434e8;"></div>
<div class="t" style="left:246.98px;top:1175.30px;width:29.38px;height:32.50px;line-height:32.50px;font-size:12px;color:#f2f000;text-align:center;letter-spacing:-0.5px;">2</div>
<div style="left:285.62px;top:1175.50px;width:8.38px;height:32.50px;background:#3434e8;"></div>
<div class="t" style="left:275.12px;top:1175.30px;width:29.38px;height:32.50px;line-height:32.50px;font-size:12px;color:#f2f000;text-align:center;letter-spacing:-0.5px;">2</div>
<div style="left:304.38px;top:1175.50px;width:13.07px;height:32.50px;background:#3434e8;"></div>
<div class="t" style="left:293.88px;top:1175.30px;width:34.07px;height:32.50px;line-height:32.50px;font-size:12px;color:#f2f000;text-align:center;letter-spacing:-0.5px;">3</div>
<div style="left:318.45px;top:1175.50px;width:13.07px;height:32.50px;background:#3434e8;"></div>
<div class="t" style="left:307.95px;top:1175.30px;width:34.07px;height:32.50px;line-height:32.50px;font-size:12px;color:#f2f000;text-align:center;letter-spacing:-0.5px;">3</div>
<div style="left:1276.00px;top:1175.50px;width:94.82px;height:32.50px;background:#4159d0;"></div>
<div style="left:1345.46px;top:1175.50px;width:7.62px;height:32.50px;background:#3434e8;"></div>
<div class="t" style="left:1334.96px;top:1175.30px;width:28.62px;height:32.50px;line-height:32.50px;font-size:12px;color:#f2f000;text-align:center;letter-spacing:-0.5px;">2</div>
<div style="left:1319.60px;top:1175.50px;width:7.62px;height:32.50px;background:#3434e8;"></div>
<div class="t" style="left:1309.10px;top:1175.30px;width:28.62px;height:32.50px;line-height:32.50px;font-size:12px;color:#f2f000;text-align:center;letter-spacing:-0.5px;">2</div>
<div style="left:1298.05px;top:1175.50px;width:11.93px;height:32.50px;background:#3434e8;"></div>
<div class="t" style="left:1287.55px;top:1175.30px;width:32.93px;height:32.50px;line-height:32.50px;font-size:12px;color:#f2f000;text-align:center;letter-spacing:-0.5px;">3</div>
<div style="left:1285.12px;top:1175.50px;width:11.93px;height:32.50px;background:#3434e8;"></div>
<div class="t" style="left:1274.62px;top:1175.30px;width:32.93px;height:32.50px;line-height:32.50px;font-size:12px;color:#f2f000;text-align:center;letter-spacing:-0.5px;">3</div>
<div class="t" style="left:300.00px;top:1176.50px;width:62.50px;height:32.50px;line-height:32.50px;font-size:16px;color:#fff;text-align:right;">22</div>
<div class="t" style="left:1254.50px;top:1176.50px;width:40.00px;height:32.50px;line-height:32.50px;font-size:16px;color:#fff;text-align:left;">22</div>
<div style="left:210.08px;top:1208.00px;width:131.32px;height:7.50px;background:#4159d0;"></div>
<div style="left:215.27px;top:1208.00px;width:8.38px;height:7.50px;background:#3434e8;"></div>
<div style="left:238.72px;top:1208.00px;width:8.38px;height:7.50px;background:#3434e8;"></div>
<div style="left:252.79px;top:1208.00px;width:8.38px;height:7.50px;background:#3434e8;"></div>
<div style="left:280.93px;top:1208.00px;width:8.38px;height:7.50px;background:#3434e8;"></div>
<div style="left:309.07px;top:1208.00px;width:8.38px;height:7.50px;background:#3434e8;"></div>
<div style="left:323.14px;top:1208.00px;width:8.38px;height:7.50px;background:#3434e8;"></div>
<div style="left:1276.00px;top:1208.00px;width:120.68px;height:7.50px;background:#4159d0;"></div>
<div style="left:1384.25px;top:1208.00px;width:7.62px;height:7.50px;background:#3434e8;"></div>
<div style="left:1362.70px;top:1208.00px;width:7.62px;height:7.50px;background:#3434e8;"></div>
<div style="left:1349.77px;top:1208.00px;width:7.62px;height:7.50px;background:#3434e8;"></div>
<div style="left:1323.91px;top:1208.00px;width:7.62px;height:7.50px;background:#3434e8;"></div>
<div style="left:1298.05px;top:1208.00px;width:7.62px;height:7.50px;background:#3434e8;"></div>
<div style="left:1285.12px;top:1208.00px;width:7.62px;height:7.50px;background:#3434e8;"></div>
<div style="left:369.50px;top:623.00px;width:151.50px;height:32.50px;background:#ffffff;"></div>
<div style="left:369.50px;top:655.50px;width:151.50px;height:32.50px;background:#0000ee;"></div>
<div class="t" style="left:369.00px;top:201.50px;width:151.00px;height:32.50px;line-height:32.50px;font-size:16px;color:#ffffff;text-align:center;">5945.25</div>
<div class="t" style="left:369.00px;top:234.00px;width:151.00px;height:32.50px;line-height:32.50px;font-size:16px;color:#ffffff;text-align:center;">5945.00</div>
<div class="t" style="left:369.00px;top:266.50px;width:151.00px;height:32.50px;line-height:32.50px;font-size:16px;color:#ffffff;text-align:center;">5944.75</div>
<div class="t" style="left:369.00px;top:299.00px;width:151.00px;height:32.50px;line-height:32.50px;font-size:16px;color:#ffffff;text-align:center;">5944.50</div>
<div class="t" style="left:369.00px;top:331.50px;width:151.00px;height:32.50px;line-height:32.50px;font-size:16px;color:#ffffff;text-align:center;">5944.25</div>
<div class="t" style="left:369.00px;top:364.00px;width:151.00px;height:32.50px;line-height:32.50px;font-size:16px;color:#ffffff;text-align:center;">5944.00</div>
<div class="t" style="left:369.00px;top:396.50px;width:151.00px;height:32.50px;line-height:32.50px;font-size:16px;color:#ffffff;text-align:center;">5943.75</div>
<div class="t" style="left:369.00px;top:429.00px;width:151.00px;height:32.50px;line-height:32.50px;font-size:16px;color:#ffffff;text-align:center;">5943.50</div>
<div class="t" style="left:369.00px;top:461.50px;width:151.00px;height:32.50px;line-height:32.50px;font-size:16px;color:#ffffff;text-align:center;">5943.25</div>
<div class="t" style="left:369.00px;top:494.00px;width:151.00px;height:32.50px;line-height:32.50px;font-size:16px;color:#ffffff;text-align:center;">5943.00</div>
<div class="t" style="left:369.00px;top:526.50px;width:151.00px;height:32.50px;line-height:32.50px;font-size:16px;color:#ffffff;text-align:center;">5942.75</div>
<div class="t" style="left:369.00px;top:559.00px;width:151.00px;height:32.50px;line-height:32.50px;font-size:16px;color:#ffffff;text-align:center;">5942.50</div>
<div class="t" style="left:369.00px;top:591.50px;width:151.00px;height:32.50px;line-height:32.50px;font-size:16px;color:#ffffff;text-align:center;">5942.25</div>
<div class="t" style="left:369.00px;top:624.00px;width:151.00px;height:32.50px;line-height:32.50px;font-size:16px;color:#000000;text-align:center;">5942.00</div>
<div class="t" style="left:369.00px;top:656.50px;width:151.00px;height:32.50px;line-height:32.50px;font-size:16px;color:#ffffff;text-align:center;">1@5941.75</div>
<div class="t" style="left:369.00px;top:689.00px;width:151.00px;height:32.50px;line-height:32.50px;font-size:16px;color:#ffffff;text-align:center;">5941.50</div>
<div class="t" style="left:369.00px;top:721.50px;width:151.00px;height:32.50px;line-height:32.50px;font-size:16px;color:#ffffff;text-align:center;">5941.25</div>
<div class="t" style="left:369.00px;top:754.00px;width:151.00px;height:32.50px;line-height:32.50px;font-size:16px;color:#ffffff;text-align:center;">5941.00</div>
<div class="t" style="left:369.00px;top:786.50px;width:151.00px;height:32.50px;line-height:32.50px;font-size:16px;color:#ffffff;text-align:center;">5940.75</div>
<div class="t" style="left:369.00px;top:819.00px;width:151.00px;height:32.50px;line-height:32.50px;font-size:16px;color:#ffffff;text-align:center;">5940.50</div>
<div class="t" style="left:369.00px;top:851.50px;width:151.00px;height:32.50px;line-height:32.50px;font-size:16px;color:#ffffff;text-align:center;">5940.25</div>
<div class="t" style="left:369.00px;top:884.00px;width:151.00px;height:32.50px;line-height:32.50px;font-size:16px;color:#ffffff;text-align:center;">5940.00</div>
<div class="t" style="left:369.00px;top:916.50px;width:151.00px;height:32.50px;line-height:32.50px;font-size:16px;color:#ffffff;text-align:center;">5939.75</div>
<div class="t" style="left:369.00px;top:949.00px;width:151.00px;height:32.50px;line-height:32.50px;font-size:16px;color:#ffffff;text-align:center;">5939.50</div>
<div class="t" style="left:369.00px;top:981.50px;width:151.00px;height:32.50px;line-height:32.50px;font-size:16px;color:#ffffff;text-align:center;">5939.25</div>
<div class="t" style="left:369.00px;top:1014.00px;width:151.00px;height:32.50px;line-height:32.50px;font-size:16px;color:#ffffff;text-align:center;">5939.00</div>
<div class="t" style="left:369.00px;top:1046.50px;width:151.00px;height:32.50px;line-height:32.50px;font-size:16px;color:#ffffff;text-align:center;">5938.75</div>
<div class="t" style="left:369.00px;top:1079.00px;width:151.00px;height:32.50px;line-height:32.50px;font-size:16px;color:#ffffff;text-align:center;">5938.50</div>
<div class="t" style="left:369.00px;top:1111.50px;width:151.00px;height:32.50px;line-height:32.50px;font-size:16px;color:#ffffff;text-align:center;">5938.25</div>
<div class="t" style="left:369.00px;top:1144.00px;width:151.00px;height:32.50px;line-height:32.50px;font-size:16px;color:#ffffff;text-align:center;">5938.00</div>
<div class="t" style="left:369.00px;top:1176.50px;width:151.00px;height:32.50px;line-height:32.50px;font-size:16px;color:#ffffff;text-align:center;">5937.75</div>
<div style="left:372.70px;top:630.00px;width:12.50px;height:17.00px;background:#008000;border-radius:2px;"></div>
<div class="t" style="left:372.70px;top:631.00px;width:12.50px;height:17.00px;line-height:17.00px;font-size:11px;color:#ffffff;text-align:center;">5</div>
<div style="left:713.00px;top:265.50px;width:105.25px;height:32.50px;background:#0000d2;"></div>
<div class="t" style="left:720.00px;top:266.50px;width:100.00px;height:32.50px;line-height:32.50px;font-size:16px;color:#ffffff;text-align:left;">*STP 1</div>
<div style="left:713.00px;top:330.50px;width:105.25px;height:32.50px;background:#c80000;"></div>
<div class="t" style="left:720.00px;top:331.50px;width:100.00px;height:32.50px;line-height:32.50px;font-size:16px;color:#ffffff;text-align:left;">LMT 1</div>
<div style="left:713.00px;top:493.00px;width:105.25px;height:32.50px;background:#0000d2;"></div>
<div class="t" style="left:720.00px;top:494.00px;width:100.00px;height:32.50px;line-height:32.50px;font-size:16px;color:#ffffff;text-align:left;">*STP 1</div>
<div style="left:713.00px;top:590.50px;width:105.25px;height:32.50px;background:#c80000;"></div>
<div class="t" style="left:720.00px;top:591.50px;width:100.00px;height:32.50px;line-height:32.50px;font-size:16px;color:#ffffff;text-align:left;">LMT 1</div>
<div style="left:713.00px;top:818.00px;width:105.25px;height:32.50px;background:#c80000;"></div>
<div class="t" style="left:720.00px;top:819.00px;width:100.00px;height:32.50px;line-height:32.50px;font-size:16px;color:#ffffff;text-align:left;">STP 1</div>
<div style="left:713.00px;top:915.50px;width:105.25px;height:32.50px;background:#0000d2;"></div>
<div class="t" style="left:720.00px;top:916.50px;width:100.00px;height:32.50px;line-height:32.50px;font-size:16px;color:#ffffff;text-align:left;">*LMT 1</div>
<div style="left:713.00px;top:980.50px;width:105.25px;height:32.50px;background:#c80000;"></div>
<div class="t" style="left:720.00px;top:981.50px;width:100.00px;height:32.50px;line-height:32.50px;font-size:16px;color:#ffffff;text-align:left;">STP 1</div>
<div style="left:713.00px;top:1143.00px;width:105.25px;height:32.50px;background:#0000d2;"></div>
<div class="t" style="left:720.00px;top:1144.00px;width:100.00px;height:32.50px;line-height:32.50px;font-size:16px;color:#ffffff;text-align:left;">*LMT 1</div>
<div style="left:818.25px;top:280.30px;width:20.65px;height:2.90px;background:#64a8ee;"></div>
<div style="left:836.00px;top:280.30px;width:2.90px;height:67.90px;background:#64a8ee;"></div>
<div style="left:836.00px;top:345.30px;width:2.90px;height:652.90px;background:#c89c9c;"></div>
<div style="left:818.25px;top:345.30px;width:20.65px;height:2.90px;background:#c89c9c;"></div>
<div style="left:818.25px;top:507.80px;width:17.75px;height:2.90px;background:#64a8ee;"></div>
<div style="left:818.25px;top:930.30px;width:17.75px;height:2.90px;background:#64a8ee;"></div>
<div style="left:818.25px;top:995.30px;width:17.75px;height:2.90px;background:#c89c9c;"></div>
<div style="left:830.00px;top:605.30px;width:6.00px;height:2.90px;background:#64a8ee;"></div>
<svg style="left:818.2px;top:601.55px" width="14" height="10.4" viewBox="0 0 14 10.4"><path d="M0 5.2 L13.8 0 V10.4Z" fill="#64a8ee"/></svg>
<div style="left:830.00px;top:832.80px;width:6.00px;height:2.90px;background:#64a8ee;"></div>
<svg style="left:818.2px;top:829.05px" width="14" height="10.4" viewBox="0 0 14 10.4"><path d="M0 5.2 L13.8 0 V10.4Z" fill="#64a8ee"/></svg>
<div style="left:836.00px;top:995.30px;width:2.90px;height:165.40px;background:#64a8ee;"></div>
<div style="left:836.00px;top:345.30px;width:2.90px;height:651.45px;background:#c89c9c;"></div>
<div style="left:818.25px;top:1157.80px;width:20.65px;height:2.90px;background:#64a8ee;"></div>
<div style="left:929.06px;top:194.00px;width:68.94px;height:6.50px;background:#8c5456;"></div>
<div style="left:864.02px;top:194.00px;width:65.04px;height:6.50px;background:#666895;"></div>
<div style="left:929.24px;top:200.50px;width:68.76px;height:32.50px;background:#8c5456;"></div>
<div style="left:838.00px;top:200.50px;width:91.24px;height:32.50px;background:#666895;"></div>
<div class="t" style="left:850.00px;top:201.50px;width:141.00px;height:32.50px;line-height:32.50px;font-size:16px;color:#fff;text-align:right;">861</div>
<div style="left:949.13px;top:233.00px;width:48.87px;height:32.50px;background:#8c5456;"></div>
<div style="left:864.02px;top:233.00px;width:85.11px;height:32.50px;background:#666895;"></div>
<div class="t" style="left:850.00px;top:234.00px;width:141.00px;height:32.50px;line-height:32.50px;font-size:16px;color:#fff;text-align:right;">721</div>
<div style="left:958.79px;top:265.50px;width:39.21px;height:32.50px;background:#8c5456;"></div>
<div style="left:899.51px;top:265.50px;width:59.28px;height:32.50px;background:#666895;"></div>
<div class="t" style="left:850.00px;top:266.50px;width:141.00px;height:32.50px;line-height:32.50px;font-size:16px;color:#fff;text-align:right;">530</div>
<div style="left:949.31px;top:298.00px;width:48.69px;height:32.50px;background:#8c5456;"></div>
<div style="left:900.25px;top:298.00px;width:49.06px;height:32.50px;background:#666895;"></div>
<div class="t" style="left:850.00px;top:299.00px;width:141.00px;height:32.50px;line-height:32.50px;font-size:16px;color:#fff;text-align:right;">526</div>
<div style="left:958.42px;top:330.50px;width:39.58px;height:32.50px;background:#8c5456;"></div>
<div style="left:898.58px;top:330.50px;width:59.84px;height:32.50px;background:#666895;"></div>
<div class="t" style="left:850.00px;top:331.50px;width:141.00px;height:32.50px;line-height:32.50px;font-size:16px;color:#fff;text-align:right;">535</div>
<div style="left:940.21px;top:363.00px;width:57.79px;height:32.50px;background:#8c5456;"></div>
<div style="left:884.83px;top:363.00px;width:55.38px;height:32.50px;background:#666895;"></div>
<div class="t" style="left:850.00px;top:364.00px;width:141.00px;height:32.50px;line-height:32.50px;font-size:16px;color:#fff;text-align:right;">609</div>
<div style="left:929.06px;top:395.50px;width:68.94px;height:32.50px;background:#8c5456;"></div>
<div style="left:865.87px;top:395.50px;width:63.18px;height:32.50px;background:#666895;"></div>
<div class="t" style="left:850.00px;top:396.50px;width:141.00px;height:32.50px;line-height:32.50px;font-size:16px;color:#fff;text-align:right;">711</div>
<div style="left:934.07px;top:428.00px;width:63.93px;height:32.50px;background:#8c5456;"></div>
<div style="left:867.18px;top:428.00px;width:66.90px;height:32.50px;background:#666895;"></div>
<div class="t" style="left:850.00px;top:429.00px;width:141.00px;height:32.50px;line-height:32.50px;font-size:16px;color:#fff;text-align:right;">704</div>
<div style="left:933.89px;top:460.50px;width:64.11px;height:32.50px;background:#8c5456;"></div>
<div style="left:866.43px;top:460.50px;width:67.46px;height:32.50px;background:#666895;"></div>
<div class="t" style="left:850.00px;top:461.50px;width:141.00px;height:32.50px;line-height:32.50px;font-size:16px;color:#fff;text-align:right;">708</div>
<div style="left:929.80px;top:493.00px;width:68.20px;height:32.50px;background:#8c5456;"></div>
<div style="left:869.96px;top:493.00px;width:59.84px;height:32.50px;background:#666895;"></div>
<div class="t" style="left:850.00px;top:494.00px;width:141.00px;height:32.50px;line-height:32.50px;font-size:16px;color:#fff;text-align:right;">689</div>
<div style="left:944.85px;top:525.50px;width:53.15px;height:32.50px;background:#8c5456;"></div>
<div style="left:873.31px;top:525.50px;width:71.54px;height:32.50px;background:#666895;"></div>
<div class="t" style="left:850.00px;top:526.50px;width:141.00px;height:32.50px;line-height:32.50px;font-size:16px;color:#fff;text-align:right;">671</div>
<div style="left:923.11px;top:558.00px;width:74.89px;height:32.50px;background:#8c5456;"></div>
<div style="left:850.26px;top:558.00px;width:72.85px;height:32.50px;background:#666895;"></div>
<div class="t" style="left:850.00px;top:559.00px;width:141.00px;height:32.50px;line-height:32.50px;font-size:16px;color:#fff;text-align:right;">795</div>
<div style="left:969.01px;top:590.50px;width:28.99px;height:32.50px;background:#8c5456;"></div>
<div style="left:919.95px;top:590.50px;width:49.06px;height:32.50px;background:#666895;"></div>
<div class="t" style="left:850.00px;top:591.50px;width:141.00px;height:32.50px;line-height:32.50px;font-size:16px;color:#fff;text-align:right;">420</div>
<div style="left:976.82px;top:623.00px;width:21.18px;height:32.50px;background:#8c5456;"></div>
<div style="left:929.61px;top:623.00px;width:47.20px;height:32.50px;background:#666895;"></div>
<div class="t" style="left:850.00px;top:624.00px;width:141.00px;height:32.50px;line-height:32.50px;font-size:16px;color:#fff;text-align:right;">368</div>
<div style="left:974.96px;top:655.50px;width:23.04px;height:32.50px;background:#8c5456;"></div>
<div style="left:937.79px;top:655.50px;width:37.17px;height:32.50px;background:#666895;"></div>
<div class="t" style="left:850.00px;top:656.50px;width:141.00px;height:32.50px;line-height:32.50px;font-size:16px;color:#fff;text-align:right;">324</div>
<div style="left:960.28px;top:688.00px;width:37.72px;height:32.50px;background:#8c5456;"></div>
<div style="left:919.02px;top:688.00px;width:41.25px;height:32.50px;background:#666895;"></div>
<div class="t" style="left:850.00px;top:689.00px;width:141.00px;height:32.50px;line-height:32.50px;font-size:16px;color:#fff;text-align:right;">425</div>
<div style="left:947.08px;top:720.50px;width:50.92px;height:32.50px;background:#8c5456;"></div>
<div style="left:910.47px;top:720.50px;width:36.61px;height:32.50px;background:#666895;"></div>
<div class="t" style="left:850.00px;top:721.50px;width:141.00px;height:32.50px;line-height:32.50px;font-size:16px;color:#fff;text-align:right;">471</div>
<div style="left:957.12px;top:753.00px;width:40.88px;height:32.50px;background:#8c5456;"></div>
<div style="left:908.06px;top:753.00px;width:49.06px;height:32.50px;background:#666895;"></div>
<div class="t" style="left:850.00px;top:754.00px;width:141.00px;height:32.50px;line-height:32.50px;font-size:16px;color:#fff;text-align:right;">484</div>
<div style="left:959.72px;top:785.50px;width:38.28px;height:32.50px;background:#8c5456;"></div>
<div style="left:930.54px;top:785.50px;width:29.18px;height:32.50px;background:#666895;"></div>
<div class="t" style="left:850.00px;top:786.50px;width:141.00px;height:32.50px;line-height:32.50px;font-size:16px;color:#fff;text-align:right;">363</div>
<div style="left:958.05px;top:818.00px;width:39.95px;height:32.50px;background:#8c5456;"></div>
<div style="left:929.61px;top:818.00px;width:28.43px;height:32.50px;background:#666895;"></div>
<div class="t" style="left:850.00px;top:819.00px;width:141.00px;height:32.50px;line-height:32.50px;font-size:16px;color:#fff;text-align:right;">368</div>
<div style="left:974.21px;top:850.50px;width:23.79px;height:32.50px;background:#8c5456;"></div>
<div style="left:934.45px;top:850.50px;width:39.77px;height:32.50px;background:#666895;"></div>
<div class="t" style="left:850.00px;top:851.50px;width:141.00px;height:32.50px;line-height:32.50px;font-size:16px;color:#fff;text-align:right;">342</div>
<div style="left:988.89px;top:883.00px;width:9.11px;height:32.50px;background:#a00c10;"></div>
<div style="left:961.21px;top:883.00px;width:27.69px;height:32.50px;background:#3a40b8;"></div>
<div class="t" style="left:850.00px;top:884.00px;width:141.00px;height:32.50px;line-height:32.50px;font-size:16px;color:#fff;text-align:right;">198</div>
<div style="left:990.38px;top:915.50px;width:7.62px;height:32.50px;background:#a00c10;"></div>
<div style="left:978.30px;top:915.50px;width:12.08px;height:32.50px;background:#3a40b8;"></div>
<div class="t" style="left:850.00px;top:916.50px;width:141.00px;height:32.50px;line-height:32.50px;font-size:16px;color:#fff;text-align:right;">106</div>
<div style="left:982.39px;top:948.00px;width:15.61px;height:32.50px;background:#a00c10;"></div>
<div style="left:974.77px;top:948.00px;width:7.62px;height:32.50px;background:#3a40b8;"></div>
<div class="t" style="left:850.00px;top:949.00px;width:141.00px;height:32.50px;line-height:32.50px;font-size:16px;color:#fff;text-align:right;">125</div>
<div style="left:980.90px;top:980.50px;width:17.10px;height:32.50px;background:#a00c10;"></div>
<div style="left:963.62px;top:980.50px;width:17.28px;height:32.50px;background:#3a40b8;"></div>
<div class="t" style="left:850.00px;top:981.50px;width:141.00px;height:32.50px;line-height:32.50px;font-size:16px;color:#fff;text-align:right;">185</div>
<div style="left:978.67px;top:1013.00px;width:19.33px;height:32.50px;background:#a00c10;"></div>
<div style="left:958.60px;top:1013.00px;width:20.07px;height:32.50px;background:#3a40b8;"></div>
<div class="t" style="left:850.00px;top:1014.00px;width:141.00px;height:32.50px;line-height:32.50px;font-size:16px;color:#fff;text-align:right;">212</div>
<div style="left:984.81px;top:1045.50px;width:13.19px;height:32.50px;background:#a00c10;"></div>
<div style="left:971.24px;top:1045.50px;width:13.57px;height:32.50px;background:#3a40b8;"></div>
<div class="t" style="left:850.00px;top:1046.50px;width:141.00px;height:32.50px;line-height:32.50px;font-size:16px;color:#fff;text-align:right;">144</div>
<div style="left:990.57px;top:1078.00px;width:7.43px;height:32.50px;background:#a00c10;"></div>
<div style="left:983.32px;top:1078.00px;width:7.25px;height:32.50px;background:#3a40b8;"></div>
<div class="t" style="left:850.00px;top:1079.00px;width:141.00px;height:32.50px;line-height:32.50px;font-size:16px;color:#fff;text-align:right;">79</div>
<div style="left:985.74px;top:1110.50px;width:12.26px;height:32.50px;background:#a00c10;"></div>
<div style="left:971.05px;top:1110.50px;width:14.68px;height:32.50px;background:#3a40b8;"></div>
<div class="t" style="left:850.00px;top:1111.50px;width:141.00px;height:32.50px;line-height:32.50px;font-size:16px;color:#fff;text-align:right;">145</div>
<div style="left:981.65px;top:1143.00px;width:16.35px;height:32.50px;background:#a00c10;"></div>
<div style="left:962.13px;top:1143.00px;width:19.51px;height:32.50px;background:#3a40b8;"></div>
<div class="t" style="left:850.00px;top:1144.00px;width:141.00px;height:32.50px;line-height:32.50px;font-size:16px;color:#fff;text-align:right;">193</div>
<div style="left:990.94px;top:1175.50px;width:7.06px;height:32.50px;background:#a00c10;"></div>
<div style="left:976.44px;top:1175.50px;width:14.49px;height:32.50px;background:#3a40b8;"></div>
<div class="t" style="left:850.00px;top:1176.50px;width:141.00px;height:32.50px;line-height:32.50px;font-size:16px;color:#fff;text-align:right;">116</div>
<div style="left:986.11px;top:1208.00px;width:11.89px;height:7.50px;background:#a00c10;"></div>
<div style="left:976.82px;top:1208.00px;width:9.29px;height:7.50px;background:#3a40b8;"></div>
<div style="left:1122.50px;top:194.00px;width:77.70px;height:6.50px;background:#a00c10;"></div>
<div style="left:1122.50px;top:200.50px;width:81.40px;height:32.50px;background:#a00c10;"></div>
<div class="t" style="left:1129.50px;top:201.50px;width:60.00px;height:32.50px;line-height:32.50px;font-size:16px;color:#fff;text-align:left;">22</div>
<div style="left:1122.50px;top:233.00px;width:70.30px;height:32.50px;background:#a00c10;"></div>
<div class="t" style="left:1129.50px;top:234.00px;width:60.00px;height:32.50px;line-height:32.50px;font-size:16px;color:#fff;text-align:left;">19</div>
<div style="left:1122.50px;top:265.50px;width:103.60px;height:32.50px;background:#a00c10;"></div>
<div class="t" style="left:1129.50px;top:266.50px;width:60.00px;height:32.50px;line-height:32.50px;font-size:16px;color:#fff;text-align:left;">28</div>
<div style="left:1122.50px;top:298.00px;width:88.80px;height:32.50px;background:#a00c10;"></div>
<div class="t" style="left:1129.50px;top:299.00px;width:60.00px;height:32.50px;line-height:32.50px;font-size:16px;color:#fff;text-align:left;">24</div>
<div style="left:1122.50px;top:330.50px;width:77.70px;height:32.50px;background:#a00c10;"></div>
<div class="t" style="left:1129.50px;top:331.50px;width:60.00px;height:32.50px;line-height:32.50px;font-size:16px;color:#fff;text-align:left;">21</div>
<div style="left:1122.50px;top:363.00px;width:92.50px;height:32.50px;background:#a00c10;"></div>
<div class="t" style="left:1129.50px;top:364.00px;width:60.00px;height:32.50px;line-height:32.50px;font-size:16px;color:#fff;text-align:left;">25</div>
<div style="left:1122.50px;top:395.50px;width:77.70px;height:32.50px;background:#a00c10;"></div>
<div class="t" style="left:1129.50px;top:396.50px;width:60.00px;height:32.50px;line-height:32.50px;font-size:16px;color:#fff;text-align:left;">21</div>
<div style="left:1122.50px;top:428.00px;width:70.30px;height:32.50px;background:#a00c10;"></div>
<div class="t" style="left:1129.50px;top:429.00px;width:60.00px;height:32.50px;line-height:32.50px;font-size:16px;color:#fff;text-align:left;">19</div>
<div style="left:1122.50px;top:460.50px;width:81.40px;height:32.50px;background:#a00c10;"></div>
<div class="t" style="left:1129.50px;top:461.50px;width:60.00px;height:32.50px;line-height:32.50px;font-size:16px;color:#fff;text-align:left;">22</div>
<div style="left:1122.50px;top:493.00px;width:96.20px;height:32.50px;background:#a00c10;"></div>
<div class="t" style="left:1129.50px;top:494.00px;width:60.00px;height:32.50px;line-height:32.50px;font-size:16px;color:#fff;text-align:left;">26</div>
<div style="left:1122.50px;top:525.50px;width:70.30px;height:32.50px;background:#a00c10;"></div>
<div class="t" style="left:1129.50px;top:526.50px;width:60.00px;height:32.50px;line-height:32.50px;font-size:16px;color:#fff;text-align:left;">19</div>
<div style="left:1122.50px;top:558.00px;width:59.20px;height:32.50px;background:#a00c10;"></div>
<div class="t" style="left:1129.50px;top:559.00px;width:60.00px;height:32.50px;line-height:32.50px;font-size:16px;color:#fff;text-align:left;">16</div>
<div style="left:1122.50px;top:590.50px;width:44.40px;height:32.50px;background:#a00c10;"></div>
<div class="t" style="left:1129.50px;top:591.50px;width:60.00px;height:32.50px;line-height:32.50px;font-size:16px;color:#fff;text-align:left;">12</div>
<div style="left:1122.50px;top:623.00px;width:33.30px;height:32.50px;background:#a00c10;"></div>
<div class="t" style="left:1129.50px;top:624.00px;width:60.00px;height:32.50px;line-height:32.50px;font-size:16px;color:#fff;text-align:left;">9</div>
<div style="left:1093.22px;top:655.50px;width:29.28px;height:32.50px;background:#3a40b8;"></div>
<div class="t" style="left:1040.00px;top:656.50px;width:76.00px;height:32.50px;line-height:32.50px;font-size:16px;color:#fff;text-align:right;">8</div>
<div style="left:1074.92px;top:688.00px;width:47.58px;height:32.50px;background:#3a40b8;"></div>
<div class="t" style="left:1040.00px;top:689.00px;width:76.00px;height:32.50px;line-height:32.50px;font-size:16px;color:#fff;text-align:right;">13</div>
<div style="left:1085.90px;top:720.50px;width:36.60px;height:32.50px;background:#3a40b8;"></div>
<div class="t" style="left:1040.00px;top:721.50px;width:76.00px;height:32.50px;line-height:32.50px;font-size:16px;color:#fff;text-align:right;">10</div>
<div style="left:1078.58px;top:753.00px;width:43.92px;height:32.50px;background:#3a40b8;"></div>
<div class="t" style="left:1040.00px;top:754.00px;width:76.00px;height:32.50px;line-height:32.50px;font-size:16px;color:#fff;text-align:right;">12</div>
<div style="left:1067.60px;top:785.50px;width:54.90px;height:32.50px;background:#3a40b8;"></div>
<div class="t" style="left:1040.00px;top:786.50px;width:76.00px;height:32.50px;line-height:32.50px;font-size:16px;color:#fff;text-align:right;">15</div>
<div style="left:1060.28px;top:818.00px;width:62.22px;height:32.50px;background:#3a40b8;"></div>
<div class="t" style="left:1040.00px;top:819.00px;width:76.00px;height:32.50px;line-height:32.50px;font-size:16px;color:#fff;text-align:right;">17</div>
<div style="left:1063.94px;top:850.50px;width:58.56px;height:32.50px;background:#3a40b8;"></div>
<div class="t" style="left:1040.00px;top:851.50px;width:76.00px;height:32.50px;line-height:32.50px;font-size:16px;color:#fff;text-align:right;">16</div>
<div style="left:1052.96px;top:883.00px;width:69.54px;height:32.50px;background:#3a40b8;"></div>
<div class="t" style="left:1040.00px;top:884.00px;width:76.00px;height:32.50px;line-height:32.50px;font-size:16px;color:#fff;text-align:right;">19</div>
<div style="left:1049.30px;top:915.50px;width:73.20px;height:32.50px;background:#3a40b8;"></div>
<div class="t" style="left:1040.00px;top:916.50px;width:76.00px;height:32.50px;line-height:32.50px;font-size:16px;color:#fff;text-align:right;">20</div>
<div style="left:1056.62px;top:948.00px;width:65.88px;height:32.50px;background:#3a40b8;"></div>
<div class="t" style="left:1040.00px;top:949.00px;width:76.00px;height:32.50px;line-height:32.50px;font-size:16px;color:#fff;text-align:right;">18</div>
<div style="left:1063.94px;top:980.50px;width:58.56px;height:32.50px;background:#3a40b8;"></div>
<div class="t" style="left:1040.00px;top:981.50px;width:76.00px;height:32.50px;line-height:32.50px;font-size:16px;color:#fff;text-align:right;">16</div>
<div style="left:1031.00px;top:1013.00px;width:91.50px;height:32.50px;background:#3a40b8;"></div>
<div class="t" style="left:1040.00px;top:1014.00px;width:76.00px;height:32.50px;line-height:32.50px;font-size:16px;color:#fff;text-align:right;">25</div>
<div style="left:1049.30px;top:1045.50px;width:73.20px;height:32.50px;background:#3a40b8;"></div>
<div class="t" style="left:1040.00px;top:1046.50px;width:76.00px;height:32.50px;line-height:32.50px;font-size:16px;color:#fff;text-align:right;">20</div>
<div style="left:1038.32px;top:1078.00px;width:84.18px;height:32.50px;background:#3a40b8;"></div>
<div class="t" style="left:1040.00px;top:1079.00px;width:76.00px;height:32.50px;line-height:32.50px;font-size:16px;color:#fff;text-align:right;">23</div>
<div style="left:1060.28px;top:1110.50px;width:62.22px;height:32.50px;background:#3a40b8;"></div>
<div class="t" style="left:1040.00px;top:1111.50px;width:76.00px;height:32.50px;line-height:32.50px;font-size:16px;color:#fff;text-align:right;">17</div>
<div style="left:1034.66px;top:1143.00px;width:87.84px;height:32.50px;background:#3a40b8;"></div>
<div class="t" style="left:1040.00px;top:1144.00px;width:76.00px;height:32.50px;line-height:32.50px;font-size:16px;color:#fff;text-align:right;">24</div>
<div style="left:1063.94px;top:1175.50px;width:58.56px;height:32.50px;background:#3a40b8;"></div>
<div class="t" style="left:1040.00px;top:1176.50px;width:76.00px;height:32.50px;line-height:32.50px;font-size:16px;color:#fff;text-align:right;">16</div>
<div style="left:1041.98px;top:1208.00px;width:80.52px;height:7.50px;background:#3a40b8;"></div>
<div style="left:1435.00px;top:623.00px;width:125.00px;height:32.50px;background:#008000;"></div>
<div class="t" style="left:1442.00px;top:624.00px;width:60.00px;height:32.50px;line-height:32.50px;font-size:16px;color:#fff;text-align:left;">5</div>
<div style="left:1506.43px;top:655.50px;width:53.57px;height:32.50px;background:#0a0aa8;"></div>
<div class="t" style="left:1442.00px;top:656.50px;width:60.00px;height:32.50px;line-height:32.50px;font-size:16px;color:#fff;text-align:left;">6</div>
<div style="left:1497.50px;top:688.00px;width:62.50px;height:32.50px;background:#0a0aa8;"></div>
<div class="t" style="left:1442.00px;top:689.00px;width:60.00px;height:32.50px;line-height:32.50px;font-size:16px;color:#fff;text-align:left;">7</div>
<div style="left:1497.50px;top:720.50px;width:62.50px;height:32.50px;background:#0a0aa8;"></div>
<div class="t" style="left:1442.00px;top:721.50px;width:60.00px;height:32.50px;line-height:32.50px;font-size:16px;color:#fff;text-align:left;">7</div>
<div style="left:1542.14px;top:753.00px;width:17.86px;height:32.50px;background:#0a0aa8;"></div>
<div class="t" style="left:1442.00px;top:754.00px;width:60.00px;height:32.50px;line-height:32.50px;font-size:16px;color:#fff;text-align:left;">2</div>
<div style="left:1435.00px;top:785.50px;width:125.00px;height:32.50px;background:#0a0aa8;"></div>
<div class="t" style="left:1442.00px;top:786.50px;width:60.00px;height:32.50px;line-height:32.50px;font-size:16px;color:#fff;text-align:left;">14</div>
<div style="left:1479.64px;top:818.00px;width:80.36px;height:32.50px;background:#0a0aa8;"></div>
<div class="t" style="left:1442.00px;top:819.00px;width:60.00px;height:32.50px;line-height:32.50px;font-size:16px;color:#fff;text-align:left;">9</div>
<div style="left:1551.07px;top:850.50px;width:8.93px;height:32.50px;background:#0a0aa8;"></div>
<div class="t" style="left:1442.00px;top:851.50px;width:60.00px;height:32.50px;line-height:32.50px;font-size:16px;color:#fff;text-align:left;">1</div>
<div style="left:1515.36px;top:883.00px;width:44.64px;height:32.50px;background:#0a0aa8;"></div>
<div class="t" style="left:1442.00px;top:884.00px;width:60.00px;height:32.50px;line-height:32.50px;font-size:16px;color:#fff;text-align:left;">5</div>
<div style="left:1506.43px;top:915.50px;width:53.57px;height:32.50px;background:#0a0aa8;"></div>
<div class="t" style="left:1442.00px;top:916.50px;width:60.00px;height:32.50px;line-height:32.50px;font-size:16px;color:#fff;text-align:left;">6</div>
<div style="left:1560.00px;top:655.50px;width:11.36px;height:32.50px;background:#9e0c10;"></div>
<div class="t" style="left:1600.00px;top:656.50px;width:78.50px;height:32.50px;line-height:32.50px;font-size:16px;color:#fff;text-align:right;">1</div>
<div style="left:1560.00px;top:688.00px;width:90.91px;height:32.50px;background:#9e0c10;"></div>
<div class="t" style="left:1600.00px;top:689.00px;width:78.50px;height:32.50px;line-height:32.50px;font-size:16px;color:#fff;text-align:right;">8</div>
<div style="left:1560.00px;top:720.50px;width:56.82px;height:32.50px;background:#9e0c10;"></div>
<div class="t" style="left:1600.00px;top:721.50px;width:78.50px;height:32.50px;line-height:32.50px;font-size:16px;color:#fff;text-align:right;">5</div>
<div style="left:1560.00px;top:753.00px;width:125.00px;height:32.50px;background:#9e0c10;"></div>
<div class="t" style="left:1600.00px;top:754.00px;width:78.50px;height:32.50px;line-height:32.50px;font-size:16px;color:#fff;text-align:right;">11</div>
<div style="left:1560.00px;top:785.50px;width:113.64px;height:32.50px;background:#9e0c10;"></div>
<div class="t" style="left:1600.00px;top:786.50px;width:78.50px;height:32.50px;line-height:32.50px;font-size:16px;color:#fff;text-align:right;">10</div>
<div style="left:1560.00px;top:818.00px;width:11.36px;height:32.50px;background:#9e0c10;"></div>
<div class="t" style="left:1600.00px;top:819.00px;width:78.50px;height:32.50px;line-height:32.50px;font-size:16px;color:#fff;text-align:right;">1</div>
<div style="left:1560.00px;top:850.50px;width:11.36px;height:32.50px;background:#9e0c10;"></div>
<div class="t" style="left:1600.00px;top:851.50px;width:78.50px;height:32.50px;line-height:32.50px;font-size:16px;color:#fff;text-align:right;">1</div>
<div style="left:1560.00px;top:883.00px;width:11.36px;height:32.50px;background:#9e0c10;"></div>
<div class="t" style="left:1600.00px;top:884.00px;width:78.50px;height:32.50px;line-height:32.50px;font-size:16px;color:#fff;text-align:right;">1</div>
<div style="left:1560.00px;top:915.50px;width:125.00px;height:32.50px;background:#9e0c10;"></div>
<div class="t" style="left:1600.00px;top:916.50px;width:78.50px;height:32.50px;line-height:32.50px;font-size:16px;color:#fff;text-align:right;">11</div>
<div style="left:1560.00px;top:948.00px;width:34.09px;height:32.50px;background:#9e0c10;"></div>
<div class="t" style="left:1600.00px;top:949.00px;width:78.50px;height:32.50px;line-height:32.50px;font-size:16px;color:#fff;text-align:right;">3</div>
<div style="left:1721.66px;top:194.00px;width:88.34px;height:6.50px;background:#666895;"></div>
<div style="left:1810.00px;top:194.00px;width:115.07px;height:6.50px;background:#8c5456;"></div>
<div style="left:1685.00px;top:200.50px;width:125.00px;height:32.50px;background:#666895;"></div>
<div style="left:1810.00px;top:200.50px;width:114.76px;height:32.50px;background:#8c5456;"></div>
<div class="t" style="left:1700.00px;top:201.50px;width:103.50px;height:32.50px;line-height:32.50px;font-size:16px;color:#fff;text-align:right;">491</div>
<div class="t" style="left:1817.00px;top:201.50px;width:80.00px;height:32.50px;line-height:32.50px;font-size:16px;color:#fff;text-align:left;">370</div>
<div style="left:1693.40px;top:233.00px;width:116.60px;height:32.50px;background:#666895;"></div>
<div style="left:1810.00px;top:233.00px;width:81.58px;height:32.50px;background:#8c5456;"></div>
<div class="t" style="left:1700.00px;top:234.00px;width:103.50px;height:32.50px;line-height:32.50px;font-size:16px;color:#fff;text-align:right;">458</div>
<div class="t" style="left:1817.00px;top:234.00px;width:80.00px;height:32.50px;line-height:32.50px;font-size:16px;color:#fff;text-align:left;">263</div>
<div style="left:1728.79px;top:265.50px;width:81.21px;height:32.50px;background:#666895;"></div>
<div style="left:1810.00px;top:265.50px;width:65.45px;height:32.50px;background:#8c5456;"></div>
<div class="t" style="left:1700.00px;top:266.50px;width:103.50px;height:32.50px;line-height:32.50px;font-size:16px;color:#fff;text-align:right;">319</div>
<div class="t" style="left:1817.00px;top:266.50px;width:80.00px;height:32.50px;line-height:32.50px;font-size:16px;color:#fff;text-align:left;">211</div>
<div style="left:1742.79px;top:298.00px;width:67.21px;height:32.50px;background:#666895;"></div>
<div style="left:1810.00px;top:298.00px;width:81.27px;height:32.50px;background:#8c5456;"></div>
<div class="t" style="left:1700.00px;top:299.00px;width:103.50px;height:32.50px;line-height:32.50px;font-size:16px;color:#fff;text-align:right;">264</div>
<div class="t" style="left:1817.00px;top:299.00px;width:80.00px;height:32.50px;line-height:32.50px;font-size:16px;color:#fff;text-align:left;">262</div>
<div style="left:1728.02px;top:330.50px;width:81.98px;height:32.50px;background:#666895;"></div>
<div style="left:1810.00px;top:330.50px;width:66.07px;height:32.50px;background:#8c5456;"></div>
<div class="t" style="left:1700.00px;top:331.50px;width:103.50px;height:32.50px;line-height:32.50px;font-size:16px;color:#fff;text-align:right;">322</div>
<div class="t" style="left:1817.00px;top:331.50px;width:80.00px;height:32.50px;line-height:32.50px;font-size:16px;color:#fff;text-align:left;">213</div>
<div style="left:1734.13px;top:363.00px;width:75.87px;height:32.50px;background:#666895;"></div>
<div style="left:1810.00px;top:363.00px;width:96.46px;height:32.50px;background:#8c5456;"></div>
<div class="t" style="left:1700.00px;top:364.00px;width:103.50px;height:32.50px;line-height:32.50px;font-size:16px;color:#fff;text-align:right;">298</div>
<div class="t" style="left:1817.00px;top:364.00px;width:80.00px;height:32.50px;line-height:32.50px;font-size:16px;color:#fff;text-align:left;">311</div>
<div style="left:1723.44px;top:395.50px;width:86.56px;height:32.50px;background:#666895;"></div>
<div style="left:1810.00px;top:395.50px;width:115.07px;height:32.50px;background:#8c5456;"></div>
<div class="t" style="left:1700.00px;top:396.50px;width:103.50px;height:32.50px;line-height:32.50px;font-size:16px;color:#fff;text-align:right;">340</div>
<div class="t" style="left:1817.00px;top:396.50px;width:80.00px;height:32.50px;line-height:32.50px;font-size:16px;color:#fff;text-align:left;">371</div>
<div style="left:1718.35px;top:428.00px;width:91.65px;height:32.50px;background:#666895;"></div>
<div style="left:1810.00px;top:428.00px;width:106.70px;height:32.50px;background:#8c5456;"></div>
<div class="t" style="left:1700.00px;top:429.00px;width:103.50px;height:32.50px;line-height:32.50px;font-size:16px;color:#fff;text-align:right;">360</div>
<div class="t" style="left:1817.00px;top:429.00px;width:80.00px;height:32.50px;line-height:32.50px;font-size:16px;color:#fff;text-align:left;">344</div>
<div style="left:1717.59px;top:460.50px;width:92.41px;height:32.50px;background:#666895;"></div>
<div style="left:1810.00px;top:460.50px;width:107.01px;height:32.50px;background:#8c5456;"></div>
<div class="t" style="left:1700.00px;top:461.50px;width:103.50px;height:32.50px;line-height:32.50px;font-size:16px;color:#fff;text-align:right;">363</div>
<div class="t" style="left:1817.00px;top:461.50px;width:80.00px;height:32.50px;line-height:32.50px;font-size:16px;color:#fff;text-align:left;">345</div>
<div style="left:1728.02px;top:493.00px;width:81.98px;height:32.50px;background:#666895;"></div>
<div style="left:1810.00px;top:493.00px;width:113.83px;height:32.50px;background:#8c5456;"></div>
<div class="t" style="left:1700.00px;top:494.00px;width:103.50px;height:32.50px;line-height:32.50px;font-size:16px;color:#fff;text-align:right;">322</div>
<div class="t" style="left:1817.00px;top:494.00px;width:80.00px;height:32.50px;line-height:32.50px;font-size:16px;color:#fff;text-align:left;">367</div>
<div style="left:1711.99px;top:525.50px;width:98.01px;height:32.50px;background:#666895;"></div>
<div style="left:1810.00px;top:525.50px;width:88.71px;height:32.50px;background:#8c5456;"></div>
<div class="t" style="left:1700.00px;top:526.50px;width:103.50px;height:32.50px;line-height:32.50px;font-size:16px;color:#fff;text-align:right;">385</div>
<div class="t" style="left:1817.00px;top:526.50px;width:80.00px;height:32.50px;line-height:32.50px;font-size:16px;color:#fff;text-align:left;">286</div>
<div style="left:1710.20px;top:558.00px;width:99.80px;height:32.50px;background:#666895;"></div>
<div style="left:1810.00px;top:558.00px;width:125.00px;height:32.50px;background:#8c5456;"></div>
<div class="t" style="left:1700.00px;top:559.00px;width:103.50px;height:32.50px;line-height:32.50px;font-size:16px;color:#fff;text-align:right;">392</div>
<div class="t" style="left:1817.00px;top:559.00px;width:80.00px;height:32.50px;line-height:32.50px;font-size:16px;color:#fff;text-align:left;">403</div>
<div style="left:1742.79px;top:590.50px;width:67.21px;height:32.50px;background:#666895;"></div>
<div style="left:1810.00px;top:590.50px;width:48.39px;height:32.50px;background:#8c5456;"></div>
<div class="t" style="left:1700.00px;top:591.50px;width:103.50px;height:32.50px;line-height:32.50px;font-size:16px;color:#fff;text-align:right;">264</div>
<div class="t" style="left:1817.00px;top:591.50px;width:80.00px;height:32.50px;line-height:32.50px;font-size:16px;color:#fff;text-align:left;">156</div>
<div style="left:1745.34px;top:623.00px;width:64.66px;height:32.50px;background:#666895;"></div>
<div style="left:1810.00px;top:623.00px;width:35.36px;height:32.50px;background:#8c5456;"></div>
<div class="t" style="left:1700.00px;top:624.00px;width:103.50px;height:32.50px;line-height:32.50px;font-size:16px;color:#fff;text-align:right;">254</div>
<div class="t" style="left:1817.00px;top:624.00px;width:80.00px;height:32.50px;line-height:32.50px;font-size:16px;color:#fff;text-align:left;">114</div>
<div style="left:1759.08px;top:655.50px;width:50.92px;height:32.50px;background:#666895;"></div>
<div style="left:1810.00px;top:655.50px;width:38.46px;height:32.50px;background:#8c5456;"></div>
<div class="t" style="left:1700.00px;top:656.50px;width:103.50px;height:32.50px;line-height:32.50px;font-size:16px;color:#fff;text-align:right;">200</div>
<div class="t" style="left:1817.00px;top:656.50px;width:80.00px;height:32.50px;line-height:32.50px;font-size:16px;color:#fff;text-align:left;">124</div>
<div style="left:1753.48px;top:688.00px;width:56.52px;height:32.50px;background:#666895;"></div>
<div style="left:1810.00px;top:688.00px;width:62.97px;height:32.50px;background:#8c5456;"></div>
<div class="t" style="left:1700.00px;top:689.00px;width:103.50px;height:32.50px;line-height:32.50px;font-size:16px;color:#fff;text-align:right;">222</div>
<div class="t" style="left:1817.00px;top:689.00px;width:80.00px;height:32.50px;line-height:32.50px;font-size:16px;color:#fff;text-align:left;">203</div>
<div style="left:1759.85px;top:720.50px;width:50.15px;height:32.50px;background:#666895;"></div>
<div style="left:1810.00px;top:720.50px;width:84.99px;height:32.50px;background:#8c5456;"></div>
<div class="t" style="left:1700.00px;top:721.50px;width:103.50px;height:32.50px;line-height:32.50px;font-size:16px;color:#fff;text-align:right;">197</div>
<div class="t" style="left:1817.00px;top:721.50px;width:80.00px;height:32.50px;line-height:32.50px;font-size:16px;color:#fff;text-align:left;">274</div>
<div style="left:1742.79px;top:753.00px;width:67.21px;height:32.50px;background:#666895;"></div>
<div style="left:1810.00px;top:753.00px;width:68.24px;height:32.50px;background:#8c5456;"></div>
<div class="t" style="left:1700.00px;top:754.00px;width:103.50px;height:32.50px;line-height:32.50px;font-size:16px;color:#fff;text-align:right;">264</div>
<div class="t" style="left:1817.00px;top:754.00px;width:80.00px;height:32.50px;line-height:32.50px;font-size:16px;color:#fff;text-align:left;">220</div>
<div style="left:1770.03px;top:785.50px;width:39.97px;height:32.50px;background:#666895;"></div>
<div style="left:1810.00px;top:785.50px;width:63.90px;height:32.50px;background:#8c5456;"></div>
<div class="t" style="left:1700.00px;top:786.50px;width:103.50px;height:32.50px;line-height:32.50px;font-size:16px;color:#fff;text-align:right;">157</div>
<div class="t" style="left:1817.00px;top:786.50px;width:80.00px;height:32.50px;line-height:32.50px;font-size:16px;color:#fff;text-align:left;">206</div>
<div style="left:1771.05px;top:818.00px;width:38.95px;height:32.50px;background:#666895;"></div>
<div style="left:1810.00px;top:818.00px;width:66.69px;height:32.50px;background:#8c5456;"></div>
<div class="t" style="left:1700.00px;top:819.00px;width:103.50px;height:32.50px;line-height:32.50px;font-size:16px;color:#fff;text-align:right;">153</div>
<div class="t" style="left:1817.00px;top:819.00px;width:80.00px;height:32.50px;line-height:32.50px;font-size:16px;color:#fff;text-align:left;">215</div>
<div style="left:1755.52px;top:850.50px;width:54.48px;height:32.50px;background:#666895;"></div>
<div style="left:1810.00px;top:850.50px;width:39.70px;height:32.50px;background:#8c5456;"></div>
<div class="t" style="left:1700.00px;top:851.50px;width:103.50px;height:32.50px;line-height:32.50px;font-size:16px;color:#fff;text-align:right;">214</div>
<div class="t" style="left:1817.00px;top:851.50px;width:80.00px;height:32.50px;line-height:32.50px;font-size:16px;color:#fff;text-align:left;">128</div>
<div style="left:1772.07px;top:883.00px;width:37.93px;height:32.50px;background:#3a40b8;"></div>
<div style="left:1810.00px;top:883.00px;width:15.20px;height:32.50px;background:#a00c10;"></div>
<div class="t" style="left:1700.00px;top:884.00px;width:103.50px;height:32.50px;line-height:32.50px;font-size:16px;color:#fff;text-align:right;">149</div>
<div class="t" style="left:1817.00px;top:884.00px;width:80.00px;height:32.50px;line-height:32.50px;font-size:16px;color:#fff;text-align:left;">49</div>
<div style="left:1793.45px;top:915.50px;width:16.55px;height:32.50px;background:#3a40b8;"></div>
<div style="left:1810.00px;top:915.50px;width:12.72px;height:32.50px;background:#a00c10;"></div>
<div class="t" style="left:1700.00px;top:916.50px;width:103.50px;height:32.50px;line-height:32.50px;font-size:16px;color:#fff;text-align:right;">65</div>
<div class="t" style="left:1817.00px;top:916.50px;width:80.00px;height:32.50px;line-height:32.50px;font-size:16px;color:#fff;text-align:left;">41</div>
<div style="left:1799.56px;top:948.00px;width:10.44px;height:32.50px;background:#3a40b8;"></div>
<div style="left:1810.00px;top:948.00px;width:26.05px;height:32.50px;background:#a00c10;"></div>
<div class="t" style="left:1700.00px;top:949.00px;width:103.50px;height:32.50px;line-height:32.50px;font-size:16px;color:#fff;text-align:right;">41</div>
<div class="t" style="left:1817.00px;top:949.00px;width:80.00px;height:32.50px;line-height:32.50px;font-size:16px;color:#fff;text-align:left;">84</div>
<div style="left:1786.32px;top:980.50px;width:23.68px;height:32.50px;background:#3a40b8;"></div>
<div style="left:1810.00px;top:980.50px;width:28.54px;height:32.50px;background:#a00c10;"></div>
<div class="t" style="left:1700.00px;top:981.50px;width:103.50px;height:32.50px;line-height:32.50px;font-size:16px;color:#fff;text-align:right;">93</div>
<div class="t" style="left:1817.00px;top:981.50px;width:80.00px;height:32.50px;line-height:32.50px;font-size:16px;color:#fff;text-align:left;">92</div>
<div style="left:1782.51px;top:1013.00px;width:27.49px;height:32.50px;background:#3a40b8;"></div>
<div style="left:1810.00px;top:1013.00px;width:32.26px;height:32.50px;background:#a00c10;"></div>
<div class="t" style="left:1700.00px;top:1014.00px;width:103.50px;height:32.50px;line-height:32.50px;font-size:16px;color:#fff;text-align:right;">108</div>
<div class="t" style="left:1817.00px;top:1014.00px;width:80.00px;height:32.50px;line-height:32.50px;font-size:16px;color:#fff;text-align:left;">104</div>
<div style="left:1791.42px;top:1045.50px;width:18.58px;height:32.50px;background:#3a40b8;"></div>
<div style="left:1810.00px;top:1045.50px;width:22.02px;height:32.50px;background:#a00c10;"></div>
<div class="t" style="left:1700.00px;top:1046.50px;width:103.50px;height:32.50px;line-height:32.50px;font-size:16px;color:#fff;text-align:right;">73</div>
<div class="t" style="left:1817.00px;top:1046.50px;width:80.00px;height:32.50px;line-height:32.50px;font-size:16px;color:#fff;text-align:left;">71</div>
<div style="left:1800.07px;top:1078.00px;width:9.93px;height:32.50px;background:#3a40b8;"></div>
<div style="left:1810.00px;top:1078.00px;width:12.41px;height:32.50px;background:#a00c10;"></div>
<div class="t" style="left:1700.00px;top:1079.00px;width:103.50px;height:32.50px;line-height:32.50px;font-size:16px;color:#fff;text-align:right;">39</div>
<div class="t" style="left:1817.00px;top:1079.00px;width:80.00px;height:32.50px;line-height:32.50px;font-size:16px;color:#fff;text-align:left;">40</div>
<div style="left:1789.89px;top:1110.50px;width:20.11px;height:32.50px;background:#3a40b8;"></div>
<div style="left:1810.00px;top:1110.50px;width:20.47px;height:32.50px;background:#a00c10;"></div>
<div class="t" style="left:1700.00px;top:1111.50px;width:103.50px;height:32.50px;line-height:32.50px;font-size:16px;color:#fff;text-align:right;">79</div>
<div class="t" style="left:1817.00px;top:1111.50px;width:80.00px;height:32.50px;line-height:32.50px;font-size:16px;color:#fff;text-align:left;">66</div>
<div style="left:1783.27px;top:1143.00px;width:26.73px;height:32.50px;background:#3a40b8;"></div>
<div style="left:1810.00px;top:1143.00px;width:27.30px;height:32.50px;background:#a00c10;"></div>
<div class="t" style="left:1700.00px;top:1144.00px;width:103.50px;height:32.50px;line-height:32.50px;font-size:16px;color:#fff;text-align:right;">105</div>
<div class="t" style="left:1817.00px;top:1144.00px;width:80.00px;height:32.50px;line-height:32.50px;font-size:16px;color:#fff;text-align:left;">88</div>
<div style="left:1790.14px;top:1175.50px;width:19.86px;height:32.50px;background:#3a40b8;"></div>
<div style="left:1810.00px;top:1175.50px;width:11.79px;height:32.50px;background:#a00c10;"></div>
<div class="t" style="left:1700.00px;top:1176.50px;width:103.50px;height:32.50px;line-height:32.50px;font-size:16px;color:#fff;text-align:right;">78</div>
<div class="t" style="left:1817.00px;top:1176.50px;width:80.00px;height:32.50px;line-height:32.50px;font-size:16px;color:#fff;text-align:left;">38</div>
<div style="left:1797.27px;top:1208.00px;width:12.73px;height:7.50px;background:#3a40b8;"></div>
<div style="left:1810.00px;top:1208.00px;width:19.85px;height:7.50px;background:#a00c10;"></div>
<div class="t" style="left:1942.00px;top:266.50px;width:80.00px;height:32.50px;line-height:32.50px;font-size:16px;color:#fff;text-align:left;">3</div>
<div class="t" style="left:1942.00px;top:299.00px;width:80.00px;height:32.50px;line-height:32.50px;font-size:16px;color:#fff;text-align:left;">-3</div>
<div class="t" style="left:1942.00px;top:331.50px;width:80.00px;height:32.50px;line-height:32.50px;font-size:16px;color:#fff;text-align:left;">4</div>
<div class="t" style="left:1942.00px;top:364.00px;width:80.00px;height:32.50px;line-height:32.50px;font-size:16px;color:#fff;text-align:left;">-1</div>
<div class="t" style="left:1942.00px;top:461.50px;width:80.00px;height:32.50px;line-height:32.50px;font-size:16px;color:#fff;text-align:left;">-3</div>
<div class="t" style="left:1942.00px;top:494.00px;width:80.00px;height:32.50px;line-height:32.50px;font-size:16px;color:#fff;text-align:left;">8</div>
<div class="t" style="left:1942.00px;top:526.50px;width:80.00px;height:32.50px;line-height:32.50px;font-size:16px;color:#fff;text-align:left;">-1</div>
<div class="t" style="left:1942.00px;top:559.00px;width:80.00px;height:32.50px;line-height:32.50px;font-size:16px;color:#fff;text-align:left;">-2</div>
<div class="t" style="left:1942.00px;top:591.50px;width:80.00px;height:32.50px;line-height:32.50px;font-size:16px;color:#fff;text-align:left;">-3</div>
<div class="t" style="left:1942.00px;top:624.00px;width:80.00px;height:32.50px;line-height:32.50px;font-size:16px;color:#fff;text-align:left;">-16</div>
<div style="left:2060.00px;top:194.00px;width:14.74px;height:6.50px;background:#8c5456;"></div>
<div style="left:2060.00px;top:200.50px;width:77.56px;height:32.50px;background:#666895;"></div>
<div class="t" style="left:2066.50px;top:201.50px;width:80.00px;height:32.50px;line-height:32.50px;font-size:16px;color:#fff;text-align:left;">-121</div>
<div style="left:2060.00px;top:233.00px;width:125.00px;height:32.50px;background:#666895;"></div>
<div class="t" style="left:2066.50px;top:234.00px;width:80.00px;height:32.50px;line-height:32.50px;font-size:16px;color:#fff;text-align:left;">-195</div>
<div style="left:2060.00px;top:265.50px;width:69.23px;height:32.50px;background:#666895;"></div>
<div class="t" style="left:2066.50px;top:266.50px;width:80.00px;height:32.50px;line-height:32.50px;font-size:16px;color:#fff;text-align:left;">-108</div>
<div style="left:2060.00px;top:298.00px;width:1.28px;height:32.50px;background:#666895;"></div>
<div class="t" style="left:2066.50px;top:299.00px;width:80.00px;height:32.50px;line-height:32.50px;font-size:16px;color:#fff;text-align:left;">-2</div>
<div style="left:2060.00px;top:330.50px;width:69.87px;height:32.50px;background:#666895;"></div>
<div class="t" style="left:2066.50px;top:331.50px;width:80.00px;height:32.50px;line-height:32.50px;font-size:16px;color:#fff;text-align:left;">-109</div>
<div style="left:2060.00px;top:363.00px;width:8.33px;height:32.50px;background:#8c5456;"></div>
<div class="t" style="left:2066.50px;top:364.00px;width:80.00px;height:32.50px;line-height:32.50px;font-size:16px;color:#fff;text-align:left;">13</div>
<div style="left:2060.00px;top:395.50px;width:19.87px;height:32.50px;background:#8c5456;"></div>
<div class="t" style="left:2066.50px;top:396.50px;width:80.00px;height:32.50px;line-height:32.50px;font-size:16px;color:#fff;text-align:left;">31</div>
<div style="left:2060.00px;top:428.00px;width:10.26px;height:32.50px;background:#666895;"></div>
<div class="t" style="left:2066.50px;top:429.00px;width:80.00px;height:32.50px;line-height:32.50px;font-size:16px;color:#fff;text-align:left;">-16</div>
<div style="left:2060.00px;top:460.50px;width:11.54px;height:32.50px;background:#666895;"></div>
<div class="t" style="left:2066.50px;top:461.50px;width:80.00px;height:32.50px;line-height:32.50px;font-size:16px;color:#fff;text-align:left;">-18</div>
<div style="left:2060.00px;top:493.00px;width:28.85px;height:32.50px;background:#8c5456;"></div>
<div class="t" style="left:2066.50px;top:494.00px;width:80.00px;height:32.50px;line-height:32.50px;font-size:16px;color:#fff;text-align:left;">45</div>
<div style="left:2060.00px;top:525.50px;width:63.46px;height:32.50px;background:#666895;"></div>
<div class="t" style="left:2066.50px;top:526.50px;width:80.00px;height:32.50px;line-height:32.50px;font-size:16px;color:#fff;text-align:left;">-99</div>
<div style="left:2060.00px;top:558.00px;width:7.05px;height:32.50px;background:#8c5456;"></div>
<div class="t" style="left:2066.50px;top:559.00px;width:80.00px;height:32.50px;line-height:32.50px;font-size:16px;color:#fff;text-align:left;">11</div>
<div style="left:2060.00px;top:590.50px;width:69.23px;height:32.50px;background:#666895;"></div>
<div class="t" style="left:2066.50px;top:591.50px;width:80.00px;height:32.50px;line-height:32.50px;font-size:16px;color:#fff;text-align:left;">-108</div>
<div style="left:2060.00px;top:623.00px;width:89.74px;height:32.50px;background:#666895;"></div>
<div class="t" style="left:2066.50px;top:624.00px;width:80.00px;height:32.50px;line-height:32.50px;font-size:16px;color:#fff;text-align:left;">-140</div>
<div style="left:2060.00px;top:655.50px;width:48.72px;height:32.50px;background:#666895;"></div>
<div class="t" style="left:2066.50px;top:656.50px;width:80.00px;height:32.50px;line-height:32.50px;font-size:16px;color:#fff;text-align:left;">-76</div>
<div style="left:2060.00px;top:688.00px;width:12.18px;height:32.50px;background:#666895;"></div>
<div class="t" style="left:2066.50px;top:689.00px;width:80.00px;height:32.50px;line-height:32.50px;font-size:16px;color:#fff;text-align:left;">-19</div>
<div style="left:2060.00px;top:720.50px;width:49.36px;height:32.50px;background:#8c5456;"></div>
<div class="t" style="left:2066.50px;top:721.50px;width:80.00px;height:32.50px;line-height:32.50px;font-size:16px;color:#fff;text-align:left;">77</div>
<div style="left:2060.00px;top:753.00px;width:28.21px;height:32.50px;background:#666895;"></div>
<div class="t" style="left:2066.50px;top:754.00px;width:80.00px;height:32.50px;line-height:32.50px;font-size:16px;color:#fff;text-align:left;">-44</div>
<div style="left:2060.00px;top:785.50px;width:31.41px;height:32.50px;background:#8c5456;"></div>
<div class="t" style="left:2066.50px;top:786.50px;width:80.00px;height:32.50px;line-height:32.50px;font-size:16px;color:#fff;text-align:left;">49</div>
<div style="left:2060.00px;top:818.00px;width:39.74px;height:32.50px;background:#8c5456;"></div>
<div class="t" style="left:2066.50px;top:819.00px;width:80.00px;height:32.50px;line-height:32.50px;font-size:16px;color:#fff;text-align:left;">62</div>
<div style="left:2060.00px;top:850.50px;width:55.13px;height:32.50px;background:#666895;"></div>
<div class="t" style="left:2066.50px;top:851.50px;width:80.00px;height:32.50px;line-height:32.50px;font-size:16px;color:#fff;text-align:left;">-86</div>
<div style="left:2060.00px;top:883.00px;width:64.10px;height:32.50px;background:#3a40b8;"></div>
<div class="t" style="left:2066.50px;top:884.00px;width:80.00px;height:32.50px;line-height:32.50px;font-size:16px;color:#fff;text-align:left;">-100</div>
<div style="left:2060.00px;top:915.50px;width:15.38px;height:32.50px;background:#3a40b8;"></div>
<div class="t" style="left:2066.50px;top:916.50px;width:80.00px;height:32.50px;line-height:32.50px;font-size:16px;color:#fff;text-align:left;">-24</div>
<div style="left:2060.00px;top:948.00px;width:27.56px;height:32.50px;background:#a00c10;"></div>
<div class="t" style="left:2066.50px;top:949.00px;width:80.00px;height:32.50px;line-height:32.50px;font-size:16px;color:#fff;text-align:left;">43</div>
<div style="left:2060.00px;top:980.50px;width:1.20px;height:32.50px;background:#3a40b8;"></div>
<div class="t" style="left:2066.50px;top:981.50px;width:80.00px;height:32.50px;line-height:32.50px;font-size:16px;color:#fff;text-align:left;">-1</div>
<div style="left:2060.00px;top:1013.00px;width:2.56px;height:32.50px;background:#3a40b8;"></div>
<div class="t" style="left:2066.50px;top:1014.00px;width:80.00px;height:32.50px;line-height:32.50px;font-size:16px;color:#fff;text-align:left;">-4</div>
<div style="left:2060.00px;top:1045.50px;width:1.28px;height:32.50px;background:#3a40b8;"></div>
<div class="t" style="left:2066.50px;top:1046.50px;width:80.00px;height:32.50px;line-height:32.50px;font-size:16px;color:#fff;text-align:left;">-2</div>
<div style="left:2060.00px;top:1078.00px;width:1.20px;height:32.50px;background:#a00c10;"></div>
<div class="t" style="left:2066.50px;top:1079.00px;width:80.00px;height:32.50px;line-height:32.50px;font-size:16px;color:#fff;text-align:left;">1</div>
<div style="left:2060.00px;top:1110.50px;width:8.33px;height:32.50px;background:#3a40b8;"></div>
<div class="t" style="left:2066.50px;top:1111.50px;width:80.00px;height:32.50px;line-height:32.50px;font-size:16px;color:#fff;text-align:left;">-13</div>
<div style="left:2060.00px;top:1143.00px;width:10.90px;height:32.50px;background:#3a40b8;"></div>
<div class="t" style="left:2066.50px;top:1144.00px;width:80.00px;height:32.50px;line-height:32.50px;font-size:16px;color:#fff;text-align:left;">-17</div>
<div style="left:2060.00px;top:1175.50px;width:25.64px;height:32.50px;background:#3a40b8;"></div>
<div class="t" style="left:2066.50px;top:1176.50px;width:80.00px;height:32.50px;line-height:32.50px;font-size:16px;color:#fff;text-align:left;">-40</div>
<div style="left:2060.00px;top:1208.00px;width:8.97px;height:7.50px;background:#a00c10;"></div>
<div class="t" style="left:2200.00px;top:656.50px;width:103.50px;height:32.50px;line-height:32.50px;font-size:16px;color:#fff;text-align:right;">4</div>
<div class="t" style="left:2200.00px;top:689.00px;width:103.50px;height:32.50px;line-height:32.50px;font-size:16px;color:#fff;text-align:right;">8</div>
<div class="t" style="left:2200.00px;top:721.50px;width:103.50px;height:32.50px;line-height:32.50px;font-size:16px;color:#fff;text-align:right;">8</div>
<div class="t" style="left:2200.00px;top:754.00px;width:103.50px;height:32.50px;line-height:32.50px;font-size:16px;color:#fff;text-align:right;">11</div>
<div class="t" style="left:2200.00px;top:786.50px;width:103.50px;height:32.50px;line-height:32.50px;font-size:16px;color:#fff;text-align:right;">13</div>
<div class="t" style="left:2200.00px;top:819.00px;width:103.50px;height:32.50px;line-height:32.50px;font-size:16px;color:#fff;text-align:right;">15</div>
<div class="t" style="left:2200.00px;top:851.50px;width:103.50px;height:32.50px;line-height:32.50px;font-size:16px;color:#fff;text-align:right;">14</div>
<div class="t" style="left:2200.00px;top:884.00px;width:103.50px;height:32.50px;line-height:32.50px;font-size:16px;color:#fff;text-align:right;">18</div>
<div class="t" style="left:2200.00px;top:916.50px;width:103.50px;height:32.50px;line-height:32.50px;font-size:16px;color:#fff;text-align:right;">20</div>
<div class="t" style="left:2200.00px;top:949.00px;width:103.50px;height:32.50px;line-height:32.50px;font-size:16px;color:#fff;text-align:right;">-1</div>
<div class="t" style="left:2200.00px;top:981.50px;width:103.50px;height:32.50px;line-height:32.50px;font-size:16px;color:#fff;text-align:right;">-2</div>
<div class="t" style="left:2200.00px;top:1014.00px;width:103.50px;height:32.50px;line-height:32.50px;font-size:16px;color:#fff;text-align:right;">3</div>
<div class="t" style="left:2200.00px;top:1046.50px;width:103.50px;height:32.50px;line-height:32.50px;font-size:16px;color:#fff;text-align:right;">-2</div>
<div class="t" style="left:2200.00px;top:1079.00px;width:103.50px;height:32.50px;line-height:32.50px;font-size:16px;color:#fff;text-align:right;">2</div>
<div class="t" style="left:2200.00px;top:1111.50px;width:103.50px;height:32.50px;line-height:32.50px;font-size:16px;color:#fff;text-align:right;">-3</div>
<div class="t" style="left:2200.00px;top:1144.00px;width:103.50px;height:32.50px;line-height:32.50px;font-size:16px;color:#fff;text-align:right;">-1</div>
<div class="t" style="left:2317.00px;top:266.50px;width:80.00px;height:32.50px;line-height:32.50px;font-size:16px;color:#fff;text-align:left;">3</div>
<div class="t" style="left:2317.00px;top:299.00px;width:80.00px;height:32.50px;line-height:32.50px;font-size:16px;color:#fff;text-align:left;">-3</div>
<div class="t" style="left:2317.00px;top:331.50px;width:80.00px;height:32.50px;line-height:32.50px;font-size:16px;color:#fff;text-align:left;">4</div>
<div class="t" style="left:2317.00px;top:364.00px;width:80.00px;height:32.50px;line-height:32.50px;font-size:16px;color:#fff;text-align:left;">-1</div>
<div class="t" style="left:2317.00px;top:461.50px;width:80.00px;height:32.50px;line-height:32.50px;font-size:16px;color:#fff;text-align:left;">-3</div>
<div class="t" style="left:2317.00px;top:494.00px;width:80.00px;height:32.50px;line-height:32.50px;font-size:16px;color:#fff;text-align:left;">8</div>
<div class="t" style="left:2317.00px;top:526.50px;width:80.00px;height:32.50px;line-height:32.50px;font-size:16px;color:#fff;text-align:left;">-1</div>
<div class="t" style="left:2317.00px;top:559.00px;width:80.00px;height:32.50px;line-height:32.50px;font-size:16px;color:#fff;text-align:left;">-2</div>
<div class="t" style="left:2317.00px;top:591.50px;width:80.00px;height:32.50px;line-height:32.50px;font-size:16px;color:#fff;text-align:left;">-3</div>
<div class="t" style="left:2317.00px;top:624.00px;width:80.00px;height:32.50px;line-height:32.50px;font-size:16px;color:#fff;text-align:left;">-16</div>
<div class="t" style="left:2330.00px;top:656.50px;width:98.50px;height:32.50px;line-height:32.50px;font-size:16px;color:#fff;text-align:right;">4</div>
<div class="t" style="left:2330.00px;top:689.00px;width:98.50px;height:32.50px;line-height:32.50px;font-size:16px;color:#fff;text-align:right;">8</div>
<div class="t" style="left:2330.00px;top:721.50px;width:98.50px;height:32.50px;line-height:32.50px;font-size:16px;color:#fff;text-align:right;">8</div>
<div class="t" style="left:2330.00px;top:754.00px;width:98.50px;height:32.50px;line-height:32.50px;font-size:16px;color:#fff;text-align:right;">11</div>
<div class="t" style="left:2330.00px;top:786.50px;width:98.50px;height:32.50px;line-height:32.50px;font-size:16px;color:#fff;text-align:right;">13</div>
<div class="t" style="left:2330.00px;top:819.00px;width:98.50px;height:32.50px;line-height:32.50px;font-size:16px;color:#fff;text-align:right;">15</div>
<div class="t" style="left:2330.00px;top:851.50px;width:98.50px;height:32.50px;line-height:32.50px;font-size:16px;color:#fff;text-align:right;">14</div>
<div class="t" style="left:2330.00px;top:884.00px;width:98.50px;height:32.50px;line-height:32.50px;font-size:16px;color:#fff;text-align:right;">18</div>
<div class="t" style="left:2330.00px;top:916.50px;width:98.50px;height:32.50px;line-height:32.50px;font-size:16px;color:#fff;text-align:right;">20</div>
<div class="t" style="left:2330.00px;top:949.00px;width:98.50px;height:32.50px;line-height:32.50px;font-size:16px;color:#fff;text-align:right;">-1</div>
<div class="t" style="left:2330.00px;top:981.50px;width:98.50px;height:32.50px;line-height:32.50px;font-size:16px;color:#fff;text-align:right;">-2</div>
<div class="t" style="left:2330.00px;top:1014.00px;width:98.50px;height:32.50px;line-height:32.50px;font-size:16px;color:#fff;text-align:right;">3</div>
<div class="t" style="left:2330.00px;top:1046.50px;width:98.50px;height:32.50px;line-height:32.50px;font-size:16px;color:#fff;text-align:right;">-2</div>
<div class="t" style="left:2330.00px;top:1079.00px;width:98.50px;height:32.50px;line-height:32.50px;font-size:16px;color:#fff;text-align:right;">2</div>
<div class="t" style="left:2330.00px;top:1111.50px;width:98.50px;height:32.50px;line-height:32.50px;font-size:16px;color:#fff;text-align:right;">-3</div>
<div class="t" style="left:2330.00px;top:1144.00px;width:98.50px;height:32.50px;line-height:32.50px;font-size:16px;color:#fff;text-align:right;">-1</div>
<div style="left:2435.30px;top:623.00px;width:81.70px;height:32.50px;background:#008000;"></div>
<div class="t" style="left:2440.00px;top:624.00px;width:69.50px;height:32.50px;line-height:32.50px;font-size:16px;color:#fff;text-align:right;">5</div>
<div style="left:0.00px;top:655.50px;width:2560.00px;height:1.80px;background:#cccc33;"></div>
<div style="left:2552.00px;top:687.00px;width:6.30px;height:38.00px;background:#6b6e78;border-radius:3px;"></div>
<div style="left:0.00px;top:1215.50px;width:2560.00px;height:32.20px;background:#222630;"></div>
<div class="t" style="left:250.00px;top:1216.50px;width:112.50px;height:32.20px;line-height:32.20px;font-size:16px;color:#fff;text-align:right;">7610</div>
<div class="t" style="left:369.00px;top:1216.50px;width:151.00px;height:32.20px;line-height:32.20px;font-size:16px;color:#fff;text-align:center;">-531(93.5%)</div>
<div class="t" style="left:527.00px;top:1216.50px;width:80.00px;height:32.20px;line-height:32.20px;font-size:16px;color:#fff;text-align:left;">8141</div>
<div class="t" style="left:1000.00px;top:1216.50px;width:116.00px;height:32.20px;line-height:32.20px;font-size:16px;color:#fff;text-align:right;">3549</div>
<div class="t" style="left:1129.50px;top:1216.50px;width:80.00px;height:32.20px;line-height:32.20px;font-size:16px;color:#fff;text-align:left;">3869</div>
<div class="t" style="left:1254.50px;top:1216.50px;width:120.00px;height:32.20px;line-height:32.20px;font-size:16px;color:#fff;text-align:left;">7610/8141</div>
<div style="left:0.00px;top:1247.70px;width:2560.00px;height:126.30px;background:#181b26;"></div>
<div style="left:0.00px;top:1247.70px;width:1.20px;height:1126.00px;background:#1f3a52;"></div>
<div style="left:0.00px;top:1373.20px;width:2560.00px;height:1.50px;background:#21405f;"></div>
<div style="left:1064.00px;top:1251.00px;width:140.00px;height:36.70px;background:#283140;border-radius:3px;"></div>
<div class="t" style="left:1077.50px;top:1252.70px;width:110.00px;height:36.70px;line-height:36.70px;font-size:18.5px;color:#ffffff;text-align:left;">simulated</div>
<svg style="left:1181px;top:1266px" width="14" height="9" viewBox="0 0 14 9"><path d="M0.5 0.5 H13.5 L7 8.5 Z" fill="#d9cde3"/></svg>
<div class="t" style="left:1210.50px;top:1252.00px;width:50.00px;height:36.70px;line-height:36.70px;font-size:18.5px;color:#ffffff;text-align:left;">Pos:</div>
<div style="left:1252.00px;top:1257.00px;width:100.00px;height:24.60px;background:#305c85;border-radius:3px;"></div>
<div class="t" style="left:1252.00px;top:1258.00px;width:100.00px;height:24.60px;line-height:24.60px;font-size:18.5px;color:#ffffff;text-align:center;transform:scaleX(0.92);transform-origin:center center;">1@5941.75</div>
<div class="t" style="left:1358.50px;top:1252.00px;width:50.00px;height:36.70px;line-height:36.70px;font-size:18.5px;color:#ffffff;text-align:left;">P/L:</div>
<div class="t" style="left:1403.50px;top:1252.00px;width:50.00px;height:36.70px;line-height:36.70px;font-size:18.5px;color:#ffffff;text-align:left;">0.00</div>
<div class="t" style="left:1456.00px;top:1252.00px;width:50.00px;height:36.70px;line-height:36.70px;font-size:18.5px;color:#ffffff;text-align:left;">0.25</div>
<div style="left:1018.00px;top:1297.30px;width:100.00px;height:30.70px;background:#2f5f8f;border-radius:2px;"></div>
<div class="t" style="left:1018.00px;top:1298.30px;width:100.00px;height:30.70px;line-height:30.70px;font-size:15.5px;color:#ffffff;text-align:center;font-weight:bold;">Buy Mkt</div>
<div style="left:1124.00px;top:1297.30px;width:100.00px;height:30.70px;background:#a02828;border-radius:2px;"></div>
<div class="t" style="left:1124.00px;top:1298.30px;width:100.00px;height:30.70px;line-height:30.70px;font-size:15.5px;color:#ffffff;text-align:center;font-weight:bold;">Sell Mkt</div>
<div style="left:1230.00px;top:1297.30px;width:100.00px;height:30.70px;background:#ecec12;border-radius:2px;"></div>
<div class="t" style="left:1230.00px;top:1298.30px;width:100.00px;height:30.70px;line-height:30.70px;font-size:15.5px;color:#1a1a1a;text-align:center;font-weight:bold;">Flatten All</div>
<div style="left:1336.00px;top:1297.30px;width:100.00px;height:30.70px;background:#ecec12;border-radius:2px;"></div>
<div class="t" style="left:1336.00px;top:1298.30px;width:100.00px;height:30.70px;line-height:30.70px;font-size:15.5px;color:#1a1a1a;text-align:center;font-weight:bold;">Cancel All</div>
<div style="left:1442.00px;top:1295.00px;width:100.00px;height:34.70px;background:#222630;border-radius:3px;box-shadow:inset 0 0 0 1px #2c3140;"></div>
<div class="t" style="left:1442.00px;top:1296.00px;width:100.00px;height:34.70px;line-height:34.70px;font-size:18.5px;color:#ffffff;text-align:center;font-weight:bold;">Reverse</div>
<div style="left:1175.00px;top:1334.50px;width:140.00px;height:36.30px;background:#283140;border-radius:3px;"></div>
<div class="t" style="left:1188.50px;top:1335.50px;width:110.00px;height:36.30px;line-height:36.30px;font-size:18.5px;color:#ffffff;text-align:left;">Bracket 1</div>
<svg style="left:1292px;top:1349px" width="14" height="9" viewBox="0 0 14 9"><path d="M0.5 0.5 H13.5 L7 8.5 Z" fill="#d9cde3"/></svg>
<svg style="left:1326px;top:1343px" width="21" height="21" viewBox="0 0 21 21" fill="none" stroke="#e8e4ec" stroke-width="1.8" stroke-linecap="round"><path d="M13.5 5 L5.5 13 Q3.5 15.5 5.5 17 Q7.5 18.5 9.5 16.5 L17.5 8.5 Q20 5.5 17.5 3 Q15 0.8 12 3.5 L4 11.5 Q0.8 15 3.5 18 Q6.5 20.5 10 17.5 L16 11.5"/></svg>
<svg style="left:1360px;top:1343px" width="18" height="21" viewBox="0 0 18 21" fill="none" stroke="#7ea564" stroke-width="2.4" stroke-linecap="round"><path d="M9 1.5 V9.5"/><path d="M4.5 5 A7 7 0 1 0 13.5 5"/></svg>
<div style="left:0.00px;top:1374.60px;width:2560.00px;height:35.00px;background:#181b26;"></div>
<div style="left:0.00px;top:1375.00px;width:110.00px;height:34.50px;background:#363b46;border-radius:3px 3px 0 0;"></div>
<svg style="left:6px;top:1384px" width="20" height="18" viewBox="0 0 20 18" fill="#e8e4ec"><rect x="0" y="0.5" width="1.5" height="15.5"/><rect x="0" y="14.2" width="20" height="1.8" fill="#d8c8dc"/><rect x="3.5" y="8" width="2.6" height="5"/><rect x="7.4" y="3" width="2.6" height="10"/><rect x="11.2" y="5" width="2.6" height="8"/><rect x="15" y="1.5" width="2.6" height="11.5"/></svg>
<div class="t" style="left:31.00px;top:1376.00px;width:60.00px;height:34.50px;line-height:34.50px;font-size:18.5px;color:#ffffff;text-align:left;">Home</div>
<svg style="left:88px;top:1386px" width="12" height="12" viewBox="0 0 12 12" stroke="#fff" stroke-width="2.2"><path d="M1 1 L11 11 M11 1 L1 11"/></svg>
<svg style="left:117px;top:1384px" width="20" height="18" viewBox="0 0 20 18" fill="#e8e4ec"><rect x="0" y="0.5" width="1.5" height="15.5"/><rect x="0" y="14.2" width="20" height="1.8" fill="#d8c8dc"/><rect x="3.5" y="8" width="2.6" height="5"/><rect x="7.4" y="3" width="2.6" height="10"/><rect x="11.2" y="5" width="2.6" height="8"/><rect x="15" y="1.5" width="2.6" height="11.5"/></svg>
<div class="t" style="left:142.50px;top:1376.00px;width:80.00px;height:34.50px;line-height:34.50px;font-size:18.5px;color:#ffffff;text-align:left;">Charts</div>
<svg style="left:235px;top:1382px" width="20" height="20" viewBox="0 0 20 20"><rect x="7.4" y="1" width="11.5" height="11.2" fill="#ece6ee"/><rect x="7.4" y="3" width="11.5" height="1.1" fill="#181b26"/><rect x="0.2" y="6.8" width="12.9" height="12.5" fill="#181b26"/><rect x="0.7" y="7.3" width="11.9" height="11.5" fill="#ece6ee"/><rect x="0.7" y="9.1" width="11.9" height="1.1" fill="#181b26"/></svg>
<div class="t" style="left:260.50px;top:1376.00px;width:80.00px;height:34.50px;line-height:34.50px;font-size:18.5px;color:#ffffff;text-align:left;">Floating</div>
<svg style="left:363.5px;top:1381px" width="22" height="22" viewBox="0 0 22 22"><ellipse cx="7.3" cy="4.6" rx="3.9" ry="4.2" fill="#f0b43c"/><path d="M0 17.5 Q0.5 12.2 6 11.8 L9.5 12.5 L7 17.5 Z" fill="#f0b43c"/><ellipse cx="12.4" cy="10" rx="5.3" ry="5.9" fill="#181b26"/><path d="M2.6 21.8 Q3 14.8 9.5 14.3 H15.2 Q21.6 14.8 22 21.8 Z" fill="#181b26"/><ellipse cx="12.4" cy="10" rx="4.4" ry="5" fill="#f4f0f4"/><path d="M3.7 21 Q4 15.8 9.6 15.2 H15.2 Q20.6 15.8 21 21 Z" fill="#f4f0f4"/></svg>
<div class="t" style="left:390.00px;top:1376.00px;width:80.00px;height:34.50px;line-height:34.50px;font-size:18.5px;color:#ffffff;text-align:left;">Account</div>
<svg style="left:494.5px;top:1381px" width="22" height="22" viewBox="0 0 22 22"><ellipse cx="7.3" cy="4.6" rx="3.9" ry="4.2" fill="#f0b43c"/><path d="M0 17.5 Q0.5 12.2 6 11.8 L9.5 12.5 L7 17.5 Z" fill="#f0b43c"/><ellipse cx="12.4" cy="10" rx="5.3" ry="5.9" fill="#181b26"/><path d="M2.6 21.8 Q3 14.8 9.5 14.3 H15.2 Q21.6 14.8 22 21.8 Z" fill="#181b26"/><ellipse cx="12.4" cy="10" rx="4.4" ry="5" fill="#f4f0f4"/><path d="M3.7 21 Q4 15.8 9.6 15.2 H15.2 Q20.6 15.8 21 21 Z" fill="#f4f0f4"/></svg>
<div class="t" style="left:521.00px;top:1376.00px;width:130.00px;height:34.50px;line-height:34.50px;font-size:18.5px;color:#ffffff;text-align:left;">Trade Report</div>
<svg style="left:667px;top:1385px" width="21" height="14" viewBox="0 0 21 14" fill="none" stroke="#f0ecf2" stroke-width="2.6"><rect x="1.5" y="2.5" width="11" height="8" rx="4"/><rect x="8.5" y="3.5" width="11" height="8" rx="4"/></svg>
<div class="t" style="left:692.50px;top:1376.00px;width:80.00px;height:34.50px;line-height:34.50px;font-size:18.5px;color:#ffffff;text-align:left;">Options</div>
<svg style="left:793px;top:1382px" width="22" height="21" viewBox="0 0 22 21"><path d="M1 1 V20 H21" fill="none" stroke="#e0d8e4" stroke-width="1.4"/><rect x="4" y="13" width="2" height="5" fill="#e0d8e4"/><rect x="8" y="12" width="2" height="6" fill="#e0d8e4"/><rect x="12" y="14" width="2" height="4" fill="#e0d8e4"/><rect x="16" y="7" width="2" height="11" fill="#e0d8e4"/><circle cx="10" cy="7" r="4.6" fill="none" stroke="#f0b43c" stroke-width="2"/><path d="M13 10 L18 15" stroke="#f0b43c" stroke-width="2.6"/></svg>
<div class="t" style="left:819.50px;top:1376.00px;width:60.00px;height:34.50px;line-height:34.50px;font-size:18.5px;color:#ffffff;text-align:left;">Scan</div>
<svg style="left:899px;top:1382px" width="18" height="21" viewBox="0 0 18 21" fill="#f0ecf2"><rect x="1.5" y="0.5" width="2" height="20"/><rect x="8" y="0.5" width="2" height="20"/><rect x="14.5" y="0.5" width="2" height="20"/><rect x="0" y="5" width="5" height="4" rx="1"/><rect x="6.5" y="12" width="5" height="4" rx="1"/><rect x="13" y="4" width="5" height="4" rx="1"/></svg>
<div class="t" style="left:923.50px;top:1376.00px;width:90.00px;height:34.50px;line-height:34.50px;font-size:18.5px;color:#ffffff;text-align:left;">Optimize</div>
<svg style="left:1038px;top:1384px" width="16" height="16" viewBox="0 0 16 16" stroke="#fff" stroke-width="2.4"><path d="M8 0.5 V15.5 M0.5 8 H15.5"/></svg>
<svg style="left:2470px;top:1384px" width="20" height="19" viewBox="0 0 20 19" fill="#f0ecf0"><rect x="0.5" y="0.5" width="18.5" height="3.5"/><rect x="0.5" y="5.5" width="3" height="12.5"/><rect x="5" y="5.5" width="14" height="12.5"/></svg>
<svg style="left:2502px;top:1383px" width="21" height="21" viewBox="0 0 21 21" fill="#f0ecf0"><path d="M0.5 0.5 H8.5 L12.5 4.5 V14.5 H0.5 Z"/><path d="M8 5.5 H14.5 L19.5 10.5 V20 H8 Z" stroke="#181b26" stroke-width="1.2"/></svg>
<svg style="left:2536px;top:1386px" width="18" height="14" viewBox="0 0 18 14" fill="none" stroke="#d8cde0" stroke-width="2.6" stroke-linejoin="miter"><path d="M1.5 1.5 L7 7 L1.5 12.5 M9.5 1.5 L15 7 L9.5 12.5"/></svg>
<div style="left:0.00px;top:1409.50px;width:2560.00px;height:30.50px;background:#131313;"></div>
<svg style="left:7px;top:1414px" width="25" height="20" viewBox="0 0 25 20" fill="none" stroke="#b4d8ff" stroke-width="1.9" stroke-linecap="round"><path d="M1.8 6.2 Q12.5 -2.2 23.2 6.2"/><path d="M5.3 9.6 Q12.5 3.6 19.7 9.6"/><path d="M8.8 13.1 Q12.5 10 16.2 13.1"/><circle cx="12.5" cy="17.2" r="1.5" fill="#b4d8ff" stroke="none"/></svg>
<svg style="left:34px;top:1415px" width="17" height="19" viewBox="0 0 17 19" fill="none" stroke="#f4eef4" stroke-width="1.9" stroke-linecap="round"><path d="M8.8 4.2 L10.6 2.4 Q12.3 0.9 13.9 2.4 Q15.4 4 13.9 5.6 L11.5 8"/><path d="M7.6 14.2 L5.8 16 Q4.2 17.6 2.6 16 Q1 14.4 2.6 12.8 L5 10.4"/><path d="M3 2.6 L5.2 4.8 M6.4 1 V3.4 M1 6.4 H3.6 M13.8 16 L11.6 13.8 M10.4 17.6 V15.2 M15.8 12.2 H13.2" stroke="#d8c8e0" stroke-width="0.9"/></svg>
<svg style="left:55px;top:1415px" width="21" height="21" viewBox="0 0 21 21" fill="none" stroke="#f4eef4" stroke-width="2.3"><g transform="rotate(-45 10.5 10.5)"><rect x="0.8" y="7" width="11.4" height="7" rx="3.5"/><rect x="8.8" y="7" width="11.4" height="7" rx="3.5"/></g></svg>
<div style="left:79.50px;top:1417.50px;width:15.00px;height:15.00px;background:#d01414;border-radius:50%;"></div>
<div style="left:101.25px;top:1417.50px;width:15.00px;height:15.00px;background:#82a646;border-radius:50%;"></div>
<div style="left:123.25px;top:1417.50px;width:15.00px;height:15.00px;background:#4a8ada;border-radius:50%;"></div>
<div style="left:145.25px;top:1417.50px;width:15.00px;height:15.00px;background:#f0e030;border-radius:50%;"></div>
<div style="left:167.25px;top:1417.50px;width:15.00px;height:15.00px;background:#e87a28;border-radius:50%;"></div>
<div style="left:2285.80px;top:1414.00px;width:107.20px;height:23.00px;background:#ffffff;"></div>
<div style="left:2285.80px;top:1414.00px;width:64.20px;height:23.00px;background:#9acd32;"></div>
<div class="t" style="left:2289.50px;top:1413.50px;width:100.00px;height:23.00px;line-height:23.00px;font-size:13.5px;color:#14200c;text-align:left;line-height:27px;">173M of 288M</div>
<svg style="left:2398px;top:1417px" width="16" height="19" viewBox="0 0 16 19"><rect x="0.5" y="2.5" width="15" height="2.5" rx="1" fill="#f0a830"/><rect x="5.5" y="0.5" width="5" height="2.5" fill="none" stroke="#f0a830" stroke-width="1.2"/><path d="M1.8 5.5 H14.2 L13.2 18.5 H2.8 Z" fill="#ece6f0"/><path d="M4.6 8 V16.5 M6.9 8 V16.5 M9.2 8 V16.5 M11.5 8 V16.5" stroke="#2a2a4a" stroke-width="0.9"/></svg>
<div class="t" style="left:2421.50px;top:1410.50px;width:140.00px;height:30.50px;line-height:30.50px;font-size:17.5px;color:#ffffff;text-align:left;">May-20 20:44:38</div></body></html>
